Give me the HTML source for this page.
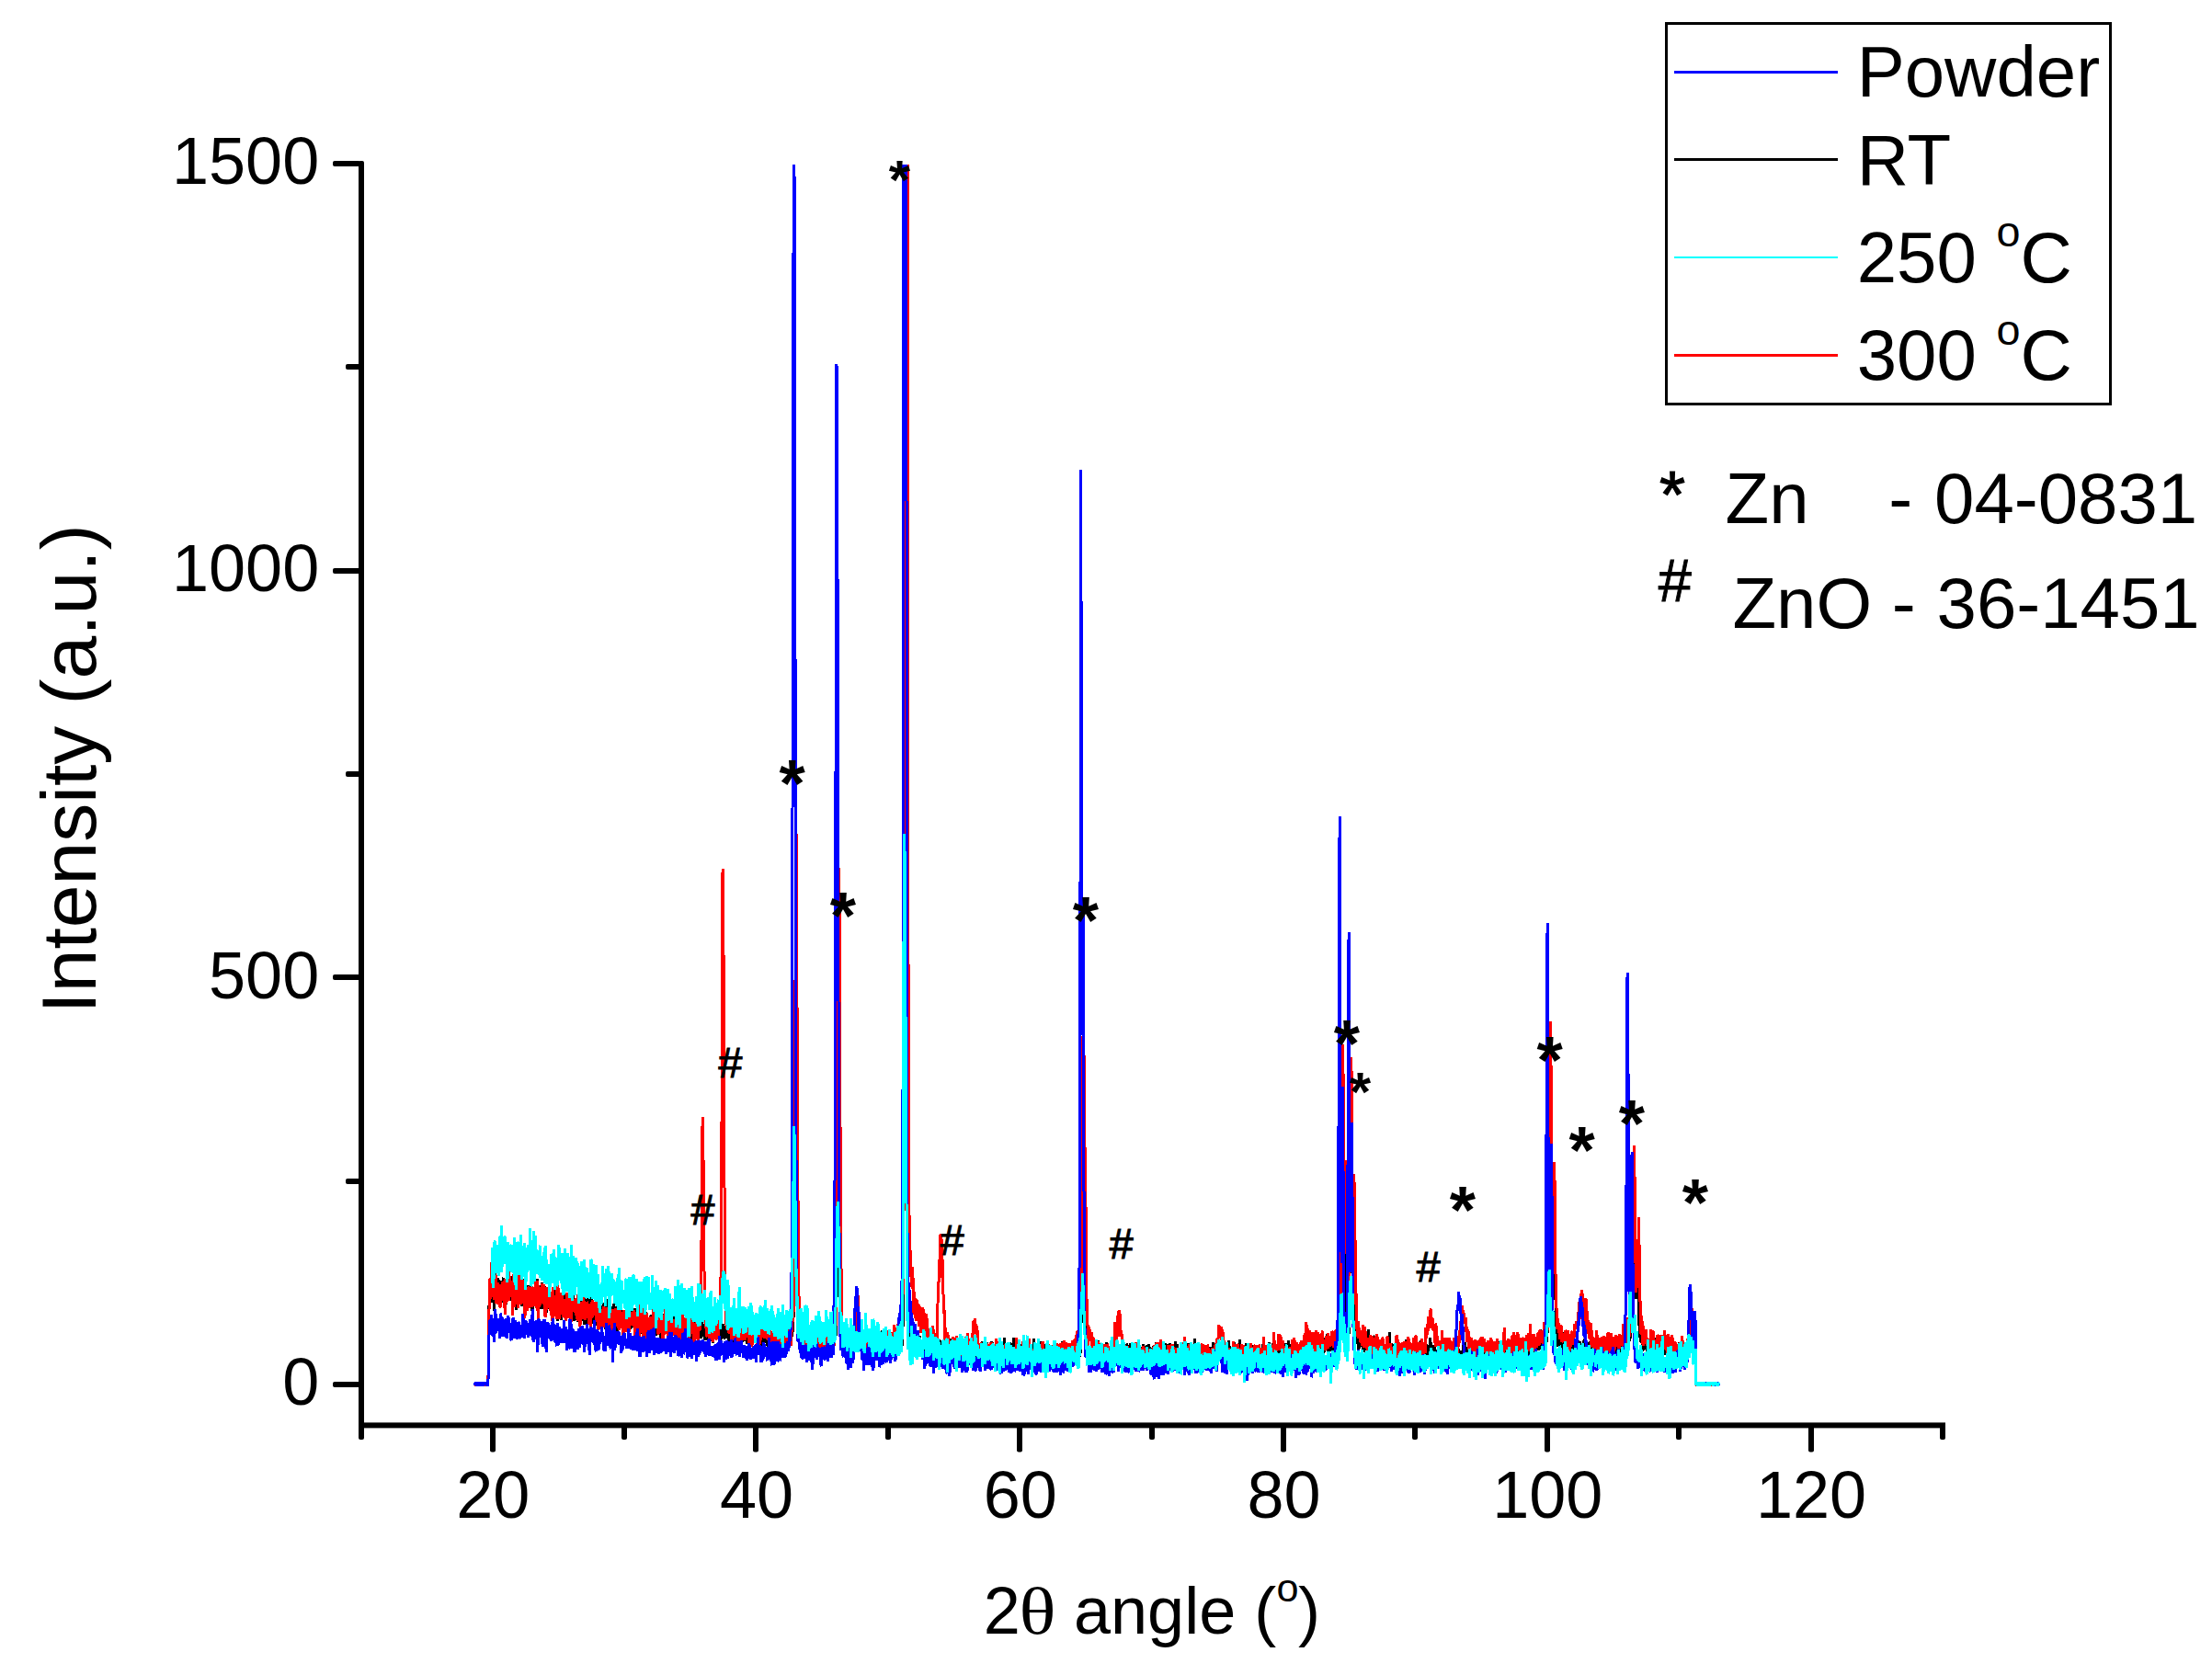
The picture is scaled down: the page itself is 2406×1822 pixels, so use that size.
<!DOCTYPE html>
<html><head><meta charset="utf-8"><title>XRD patterns</title>
<style>html,body{margin:0;padding:0;background:#fff}svg{display:block}text{font-family:"Liberation Sans",Arial,sans-serif;fill:#000}.s{font-family:"Liberation Serif",serif}</style></head><body>
<svg width="2406" height="1822" viewBox="0 0 2406 1822">
<rect width="2406" height="1822" fill="#fff"/>
<defs><clipPath id="c"><rect x="396" y="179" width="1720" height="1380"/></clipPath></defs>
<g clip-path="url(#c)" fill="none" stroke-width="3" stroke-linejoin="miter" stroke-miterlimit="2" shape-rendering="crispEdges">
<polyline stroke="#000000" points="516.5,1504.2 516.5,1506.0 517.5,1505.1 517.5,1504.2 518.5,1504.2 518.5,1505.1 519.5,1505.1 519.5,1504.2 520.5,1504.2 520.5,1506.0 521.5,1504.2 522.5,1504.2 522.5,1506.0 523.5,1506.0 523.5,1505.1 524.5,1504.2 524.5,1506.0 525.5,1506.0 525.5,1504.2 526.5,1505.1 526.5,1506.0 527.5,1506.0 527.5,1504.2 528.5,1505.1 528.5,1506.0 529.5,1505.1 529.5,1504.2 530.5,1505.1 530.5,1506.0 531.5,1487.2 531.5,1424.1 532.5,1415.6 532.5,1399.8 533.5,1396.1 533.5,1408.1 534.5,1398.4 534.5,1390.8 535.5,1397.6 535.5,1417.2 536.5,1394.6 536.5,1387.1 537.5,1387.1 537.5,1426.3 538.5,1410.5 538.5,1384.9 539.5,1390.9 539.5,1399.2 540.5,1393.2 540.5,1412.8 541.5,1412.0 541.5,1390.2 542.5,1393.3 542.5,1399.3 543.5,1398.6 543.5,1411.3 544.5,1414.4 544.5,1403.1 545.5,1393.3 545.5,1412.9 546.5,1415.9 546.5,1400.1 547.5,1389.6 547.5,1416.7 548.5,1406.9 548.5,1399.4 549.5,1395.7 549.5,1415.2 550.5,1419.0 550.5,1396.5 551.5,1386.7 551.5,1413.8 552.5,1399.5 552.5,1396.5 553.5,1402.5 553.5,1406.3 554.5,1413.9 554.5,1389.8 555.5,1389.8 555.5,1414.6 556.5,1404.1 556.5,1390.6 557.5,1398.9 557.5,1410.9 558.5,1414.7 558.5,1394.4 559.5,1401.2 559.5,1410.2 560.5,1414.8 560.5,1393.7 561.5,1402.0 561.5,1425.3 562.5,1411.0 562.5,1393.7 563.5,1398.3 563.5,1409.6 564.5,1414.1 564.5,1391.5 565.5,1387.1 565.5,1410.4 566.5,1407.4 566.5,1396.9 567.5,1400.7 567.5,1421.0 568.5,1407.5 568.5,1391.0 569.5,1404.5 569.5,1414.3 570.5,1414.4 570.5,1400.8 571.5,1398.6 571.5,1406.2 572.5,1408.4 572.5,1399.4 573.5,1398.0 573.5,1409.3 574.5,1413.1 574.5,1404.0 575.5,1411.6 576.5,1409.4 576.5,1398.1 577.5,1400.4 577.5,1410.9 578.5,1405.0 578.5,1426.1 579.5,1425.4 579.5,1402.0 580.5,1409.6 580.5,1416.4 581.5,1416.4 581.5,1405.9 582.5,1396.9 582.5,1421.0 583.5,1417.3 583.5,1405.2 584.5,1391.0 584.5,1421.1 585.5,1419.6 585.5,1412.1 586.5,1404.7 586.5,1420.4 587.5,1409.2 587.5,1398.6 588.5,1406.2 588.5,1423.5 589.5,1416.8 589.5,1395.0 590.5,1404.1 590.5,1423.7 591.5,1404.9 591.5,1399.6 592.5,1398.9 592.5,1421.5 593.5,1414.0 593.5,1406.5 594.5,1408.8 594.5,1427.6 595.5,1420.1 595.5,1412.6 596.5,1410.4 596.5,1417.9 597.5,1416.5 597.5,1420.2 598.5,1417.3 598.5,1424.0 599.5,1426.3 599.5,1416.6 600.5,1419.6 600.5,1430.9 601.5,1421.2 601.5,1409.1 602.5,1400.2 602.5,1430.2 603.5,1416.8 603.5,1416.0 604.5,1410.0 604.5,1426.6 605.5,1429.7 605.5,1414.6 606.5,1405.6 606.5,1437.2 607.5,1427.5 607.5,1406.4 608.5,1414.0 608.5,1422.3 609.5,1420.8 609.5,1410.3 610.5,1419.3 610.5,1435.9 611.5,1429.9 611.5,1423.1 612.5,1426.2 612.5,1414.1 613.5,1405.9 613.5,1426.2 614.5,1432.3 614.5,1408.9 615.5,1405.9 615.5,1435.3 616.5,1422.6 616.5,1413.5 617.5,1406.0 617.5,1424.1 618.5,1430.9 618.5,1415.9 619.5,1415.9 619.5,1427.9 620.5,1429.5 620.5,1418.2 621.5,1420.5 621.5,1427.2 622.5,1428.0 622.5,1400.2 623.5,1406.2 623.5,1426.6 624.5,1424.3 624.5,1436.4 625.5,1434.9 625.5,1412.3 626.5,1427.4 626.5,1435.7 627.5,1429.0 627.5,1419.9 628.5,1417.7 628.5,1438.0 629.5,1432.0 629.5,1424.5 630.5,1426.0 630.5,1415.5 631.5,1410.3 631.5,1440.4 632.5,1434.4 632.5,1424.6 633.5,1423.9 633.5,1417.9 634.5,1424.7 634.5,1427.0 635.5,1440.5 635.5,1407.4 636.5,1427.0 636.5,1430.8 637.5,1430.0 637.5,1413.5 638.5,1419.6 638.5,1439.9 639.5,1433.9 639.5,1404.5 640.5,1414.4 640.5,1436.2 641.5,1428.7 641.5,1423.4 642.5,1429.5 642.5,1415.9 643.5,1410.0 643.5,1427.2 644.5,1425.8 644.5,1439.3 645.5,1437.1 645.5,1421.3 646.5,1419.1 646.5,1428.1 647.5,1430.4 647.5,1422.1 648.5,1428.2 648.5,1433.5 649.5,1441.8 649.5,1413.9 650.5,1432.8 650.5,1444.8 651.5,1433.6 651.5,1411.0 652.5,1424.6 652.5,1441.9 653.5,1444.2 653.5,1424.6 654.5,1423.9 654.5,1420.1 655.5,1426.2 655.5,1435.2 656.5,1437.5 656.5,1417.2 657.5,1421.7 657.5,1442.1 658.5,1445.8 658.5,1429.3 659.5,1429.3 659.5,1424.1 660.5,1412.8 660.5,1440.6 661.5,1442.9 661.5,1422.6 662.5,1420.4 662.5,1434.0 663.5,1443.8 663.5,1421.2 664.5,1436.3 664.5,1443.8 665.5,1437.8 665.5,1434.8 666.5,1435.6 666.5,1424.3 667.5,1418.3 667.5,1436.4 668.5,1423.6 668.5,1450.7 669.5,1433.4 669.5,1430.4 670.5,1420.7 670.5,1450.0 671.5,1446.3 671.5,1429.0 672.5,1435.1 672.5,1412.5 673.5,1429.8 673.5,1436.6 674.5,1440.4 674.5,1427.6 675.5,1424.6 675.5,1434.4 676.5,1431.4 676.5,1440.5 677.5,1448.8 677.5,1429.2 678.5,1434.5 678.5,1447.3 679.5,1447.3 679.5,1430.8 680.5,1432.3 680.5,1426.3 681.5,1433.8 681.5,1439.8 682.5,1437.6 682.5,1442.1 683.5,1448.9 683.5,1427.1 684.5,1436.9 684.5,1445.9 685.5,1445.2 685.5,1430.2 686.5,1433.9 686.5,1445.2 687.5,1440.0 687.5,1424.9 688.5,1431.0 688.5,1437.7 689.5,1443.8 689.5,1431.0 690.5,1434.8 690.5,1423.5 691.5,1430.3 691.5,1440.8 692.5,1445.3 692.5,1429.6 693.5,1422.8 693.5,1448.4 694.5,1441.6 694.5,1437.9 695.5,1430.3 695.5,1447.7 696.5,1446.2 696.5,1426.6 697.5,1424.4 697.5,1445.4 698.5,1450.7 698.5,1438.7 699.5,1445.5 699.5,1431.2 700.5,1440.2 700.5,1450.8 701.5,1448.5 701.5,1436.5 702.5,1443.3 702.5,1427.5 703.5,1431.3 703.5,1442.6 704.5,1441.8 704.5,1436.6 705.5,1435.8 705.5,1444.9 706.5,1446.4 706.5,1441.1 707.5,1441.1 707.5,1432.1 708.5,1430.6 708.5,1443.4 709.5,1440.4 709.5,1448.0 710.5,1442.7 710.5,1436.7 711.5,1430.7 711.5,1451.8 712.5,1448.0 712.5,1435.2 713.5,1442.0 713.5,1453.3 714.5,1442.8 714.5,1434.5 715.5,1434.5 715.5,1442.0 716.5,1445.8 716.5,1436.8 717.5,1435.3 717.5,1438.3 718.5,1444.4 718.5,1458.7 719.5,1446.6 719.5,1436.9 720.5,1439.9 720.5,1446.7 721.5,1448.2 721.5,1436.1 722.5,1429.4 722.5,1449.0 723.5,1447.5 723.5,1438.4 724.5,1443.0 724.5,1449.8 725.5,1448.3 725.5,1434.7 726.5,1437.0 726.5,1452.8 727.5,1449.8 727.5,1443.0 728.5,1437.0 728.5,1449.1 729.5,1455.1 729.5,1434.8 730.5,1440.1 730.5,1452.9 731.5,1448.4 731.5,1433.3 732.5,1426.6 732.5,1446.9 733.5,1446.9 733.5,1431.9 734.5,1430.4 734.5,1453.7 735.5,1450.0 735.5,1432.7 736.5,1423.7 736.5,1447.7 737.5,1447.8 737.5,1440.2 738.5,1434.2 738.5,1447.0 739.5,1447.1 739.5,1430.5 740.5,1439.5 740.5,1450.1 741.5,1448.6 741.5,1431.3 742.5,1435.1 742.5,1447.9 743.5,1447.1 743.5,1441.9 744.5,1444.2 744.5,1438.1 745.5,1438.2 745.5,1444.2 746.5,1450.2 746.5,1435.2 747.5,1446.5 747.5,1454.0 748.5,1450.3 748.5,1440.5 749.5,1450.3 749.5,1429.2 750.5,1435.2 750.5,1445.0 751.5,1444.3 751.5,1436.0 752.5,1439.0 752.5,1457.8 753.5,1450.3 753.5,1438.3 754.5,1437.6 754.5,1449.6 755.5,1448.1 755.5,1436.1 756.5,1446.6 756.5,1453.4 757.5,1454.2 757.5,1438.4 758.5,1448.9 758.5,1453.4 759.5,1447.4 759.5,1437.6 760.5,1439.9 760.5,1445.2 761.5,1441.5 761.5,1452.0 762.5,1452.0 762.5,1455.8 763.5,1450.5 763.5,1434.7 764.5,1444.5 764.5,1453.5 765.5,1446.0 765.5,1440.8 766.5,1442.3 766.5,1458.1 767.5,1453.6 767.5,1449.1 768.5,1454.4 768.5,1440.1 769.5,1443.1 769.5,1456.6 770.5,1458.1 770.5,1443.1 771.5,1444.6 771.5,1456.7 772.5,1453.7 772.5,1445.4 773.5,1443.9 773.5,1446.9 774.5,1443.2 774.5,1457.5 775.5,1460.5 775.5,1444.7 776.5,1447.0 776.5,1440.9 777.5,1444.0 777.5,1455.3 778.5,1450.0 778.5,1444.7 779.5,1447.0 779.5,1451.5 780.5,1447.8 780.5,1444.0 781.5,1440.3 781.5,1452.3 782.5,1456.9 782.5,1442.5 783.5,1444.8 783.5,1459.1 784.5,1453.1 784.5,1439.6 785.5,1441.8 785.5,1452.4 786.5,1456.2 786.5,1440.4 787.5,1447.9 787.5,1454.7 788.5,1456.2 788.5,1450.9 789.5,1455.5 789.5,1441.9 790.5,1444.9 790.5,1454.0 791.5,1448.7 791.5,1445.7 792.5,1448.0 792.5,1459.3 793.5,1452.5 793.5,1443.5 794.5,1445.8 794.5,1453.3 795.5,1445.8 795.5,1461.6 796.5,1451.1 796.5,1445.0 797.5,1443.6 797.5,1447.3 798.5,1439.0 798.5,1465.4 799.5,1460.1 799.5,1454.1 800.5,1461.7 800.5,1439.8 801.5,1441.4 801.5,1457.9 802.5,1458.7 802.5,1445.1 803.5,1447.4 803.5,1463.2 804.5,1466.2 804.5,1444.4 805.5,1446.7 805.5,1458.0 806.5,1454.2 806.5,1462.5 807.5,1458.0 807.5,1449.0 808.5,1449.0 808.5,1455.8 809.5,1458.8 809.5,1450.5 810.5,1444.5 810.5,1456.6 811.5,1455.1 811.5,1451.3 812.5,1456.6 812.5,1461.9 813.5,1454.3 813.5,1449.8 814.5,1446.1 814.5,1453.6 815.5,1458.1 815.5,1447.6 816.5,1443.1 816.5,1452.9 817.5,1459.7 817.5,1443.1 818.5,1447.7 818.5,1457.4 819.5,1449.2 819.5,1442.4 820.5,1443.2 820.5,1459.0 821.5,1455.2 821.5,1451.5 822.5,1456.0 822.5,1441.0 823.5,1444.7 823.5,1447.7 824.5,1448.5 824.5,1459.0 825.5,1462.1 825.5,1441.7 826.5,1444.7 826.5,1451.5 827.5,1447.8 827.5,1464.3 828.5,1454.6 828.5,1440.3 829.5,1447.8 829.5,1455.3 830.5,1460.6 830.5,1447.0 831.5,1444.0 831.5,1457.6 832.5,1455.3 832.5,1447.1 833.5,1454.6 833.5,1458.4 834.5,1463.6 834.5,1451.6 835.5,1441.8 835.5,1465.1 836.5,1459.1 836.5,1443.3 837.5,1446.4 837.5,1468.2 838.5,1457.6 838.5,1452.4 839.5,1454.6 839.5,1457.7 840.5,1457.7 840.5,1454.7 841.5,1453.2 841.5,1457.7 842.5,1456.2 842.5,1448.6 843.5,1453.2 843.5,1463.0 844.5,1465.2 844.5,1458.4 845.5,1465.2 845.5,1450.9 846.5,1450.9 846.5,1460.7 847.5,1459.2 847.5,1448.7 848.5,1452.4 848.5,1456.2 849.5,1457.0 849.5,1445.7 850.5,1448.7 850.5,1460.0 851.5,1467.5 851.5,1435.9 852.5,1451.7 852.5,1460.7 853.5,1460.0 853.5,1447.9 854.5,1452.4 854.5,1455.5 855.5,1460.7 855.5,1447.2 856.5,1450.2 856.5,1458.4 857.5,1452.4 857.5,1465.2 858.5,1455.3 858.5,1449.3 859.5,1440.2 859.5,1460.6 860.5,1461.1 860.5,1453.5 861.5,1454.1 861.5,1442.4 862.5,1439.4 862.5,1448.6 863.5,1418.4 863.5,1275.3 864.5,1210.9 864.5,1126.6 865.5,1172.5 865.5,1071.2 866.5,1195.8 866.5,1262.8 867.5,1344.1 867.5,1414.8 868.5,1429.2 868.5,1457.0 869.5,1462.1 869.5,1446.0 870.5,1445.3 870.5,1464.3 871.5,1467.4 871.5,1447.8 872.5,1451.7 872.5,1463.8 873.5,1468.3 873.5,1451.8 874.5,1447.3 874.5,1461.6 875.5,1466.9 875.5,1454.1 876.5,1451.1 876.5,1462.4 877.5,1457.9 877.5,1453.4 878.5,1452.7 878.5,1462.5 879.5,1456.5 879.5,1451.2 880.5,1454.2 880.5,1464.8 881.5,1459.5 881.5,1471.5 882.5,1460.3 882.5,1453.5 883.5,1447.5 883.5,1462.5 884.5,1467.8 884.5,1447.5 885.5,1449.8 885.5,1463.3 886.5,1459.6 886.5,1444.5 887.5,1458.1 887.5,1461.1 888.5,1460.3 888.5,1452.8 889.5,1456.6 889.5,1459.6 890.5,1461.9 890.5,1445.3 891.5,1452.1 891.5,1465.6 892.5,1461.1 892.5,1451.3 893.5,1449.1 893.5,1460.4 894.5,1462.6 894.5,1453.6 895.5,1459.6 895.5,1466.4 896.5,1461.9 896.5,1453.6 897.5,1450.6 897.5,1466.4 898.5,1462.7 898.5,1448.4 899.5,1455.9 899.5,1458.1 900.5,1460.4 900.5,1455.9 901.5,1450.6 901.5,1462.7 902.5,1461.9 902.5,1449.1 903.5,1451.3 903.5,1462.6 904.5,1457.3 904.5,1469.3 905.5,1464.8 905.5,1458.8 906.5,1460.2 906.5,1450.4 907.5,1448.8 907.5,1460.0 908.5,1448.5 908.5,1444.9 909.5,1453.4 909.5,1423.9 910.5,1399.4 910.5,1319.5 911.5,1270.5 911.5,1119.9 912.5,1115.2 912.5,1161.7 913.5,1181.3 913.5,1322.6 914.5,1335.8 914.5,1410.6 915.5,1427.8 915.5,1450.9 916.5,1445.6 916.5,1458.5 917.5,1458.8 917.5,1454.2 918.5,1453.5 918.5,1461.8 919.5,1465.7 919.5,1452.1 920.5,1452.2 920.5,1461.2 921.5,1463.5 921.5,1450.7 922.5,1452.3 922.5,1462.1 923.5,1465.8 923.5,1447.8 924.5,1453.1 924.5,1465.1 925.5,1466.6 925.5,1450.1 926.5,1456.0 926.5,1463.6 927.5,1466.4 927.5,1449.1 928.5,1451.8 928.5,1456.9 929.5,1446.0 929.5,1468.7 930.5,1446.5 930.5,1434.2 931.5,1426.0 931.5,1449.3 932.5,1441.7 932.5,1430.5 933.5,1430.1 933.5,1451.5 934.5,1452.0 934.5,1437.8 935.5,1447.4 935.5,1454.6 936.5,1457.8 936.5,1446.1 937.5,1450.9 937.5,1461.4 938.5,1456.9 938.5,1466.0 939.5,1463.0 939.5,1455.5 940.5,1459.3 940.5,1465.3 941.5,1466.8 941.5,1456.3 942.5,1463.1 942.5,1468.4 943.5,1462.4 943.5,1454.1 944.5,1458.6 944.5,1445.1 945.5,1450.3 945.5,1466.1 946.5,1465.4 946.5,1448.8 947.5,1459.4 947.5,1468.4 948.5,1463.9 948.5,1456.4 949.5,1462.4 949.5,1470.7 950.5,1465.4 950.5,1454.9 951.5,1454.2 951.5,1466.2 952.5,1465.5 952.5,1457.9 953.5,1460.2 953.5,1468.5 954.5,1470.0 954.5,1456.4 955.5,1454.2 955.5,1463.2 956.5,1467.0 956.5,1456.5 957.5,1461.0 957.5,1465.5 958.5,1462.5 958.5,1454.2 959.5,1447.5 959.5,1469.3 960.5,1470.8 960.5,1460.3 961.5,1459.5 961.5,1469.3 962.5,1464.8 962.5,1449.0 963.5,1462.5 963.5,1463.3 964.5,1465.6 964.5,1458.8 965.5,1464.1 965.5,1452.0 966.5,1455.0 966.5,1471.6 967.5,1464.8 967.5,1461.8 968.5,1470.1 968.5,1450.5 969.5,1463.3 969.5,1470.8 970.5,1465.6 970.5,1462.6 971.5,1459.6 971.5,1470.1 972.5,1470.8 972.5,1462.6 973.5,1462.5 973.5,1458.8 974.5,1461.0 974.5,1467.1 975.5,1466.3 975.5,1449.7 976.5,1453.4 976.5,1463.2 977.5,1472.2 977.5,1454.2 978.5,1461.5 978.5,1466.1 979.5,1461.3 979.5,1455.4 980.5,1448.8 980.5,1462.0 981.5,1463.6 981.5,1445.7 982.5,1440.9 982.5,1317.1 983.5,1230.5 983.5,1064.3 984.5,980.6 984.5,964.7 985.5,1044.0 985.5,1162.6 986.5,1186.7 986.5,1288.5 987.5,1354.8 987.5,1441.0 988.5,1449.5 988.5,1452.6 989.5,1451.4 989.5,1469.6 990.5,1469.0 990.5,1457.1 991.5,1461.8 991.5,1471.5 992.5,1465.6 992.5,1460.3 993.5,1463.4 993.5,1474.7 994.5,1462.7 994.5,1456.7 995.5,1465.7 995.5,1469.5 996.5,1468.0 996.5,1461.3 997.5,1468.8 997.5,1453.0 998.5,1459.8 998.5,1472.6 999.5,1471.9 999.5,1459.1 1000.5,1453.1 1000.5,1471.9 1001.5,1470.4 1001.5,1462.9 1002.5,1462.1 1002.5,1470.4 1003.5,1466.7 1003.5,1459.1 1004.5,1461.4 1004.5,1467.4 1005.5,1471.2 1005.5,1461.4 1006.5,1458.4 1006.5,1472.0 1007.5,1469.7 1007.5,1457.7 1008.5,1460.7 1008.5,1467.5 1009.5,1471.3 1009.5,1456.2 1010.5,1457.0 1010.5,1470.5 1011.5,1472.8 1011.5,1465.3 1012.5,1469.8 1012.5,1460.0 1013.5,1463.8 1013.5,1472.1 1014.5,1469.1 1014.5,1461.5 1015.5,1457.8 1015.5,1469.8 1016.5,1472.1 1016.5,1466.1 1017.5,1460.8 1017.5,1471.3 1018.5,1466.8 1018.5,1461.6 1019.5,1463.1 1019.5,1472.1 1020.5,1466.1 1020.5,1463.1 1021.5,1457.1 1021.5,1471.4 1022.5,1475.9 1022.5,1464.6 1023.5,1468.4 1023.5,1458.6 1024.5,1463.9 1024.5,1470.7 1025.5,1470.7 1025.5,1478.2 1026.5,1476.0 1026.5,1459.4 1027.5,1460.2 1027.5,1463.2 1028.5,1461.7 1028.5,1468.4 1029.5,1467.7 1029.5,1463.2 1030.5,1455.7 1030.5,1475.2 1031.5,1470.0 1031.5,1464.7 1032.5,1460.2 1032.5,1473.7 1033.5,1468.5 1033.5,1459.5 1034.5,1456.5 1034.5,1473.0 1035.5,1470.0 1035.5,1461.0 1036.5,1466.3 1036.5,1470.0 1037.5,1468.5 1037.5,1473.8 1038.5,1468.5 1038.5,1459.5 1039.5,1464.0 1039.5,1467.8 1040.5,1473.1 1040.5,1461.8 1041.5,1461.0 1041.5,1469.3 1042.5,1470.8 1042.5,1460.3 1043.5,1458.8 1043.5,1475.4 1044.5,1470.9 1044.5,1461.8 1045.5,1461.1 1045.5,1476.1 1046.5,1471.6 1046.5,1466.4 1047.5,1463.4 1047.5,1476.9 1048.5,1473.1 1048.5,1459.6 1049.5,1461.9 1049.5,1473.9 1050.5,1468.6 1050.5,1460.4 1051.5,1470.9 1051.5,1474.7 1052.5,1479.2 1052.5,1463.4 1053.5,1466.4 1053.5,1477.7 1054.5,1479.2 1054.5,1467.2 1055.5,1465.7 1055.5,1482.2 1056.5,1471.7 1056.5,1456.7 1057.5,1471.0 1057.5,1476.2 1058.5,1472.5 1058.5,1458.9 1059.5,1462.0 1059.5,1470.2 1060.5,1473.3 1060.5,1455.9 1061.5,1469.5 1061.5,1479.3 1062.5,1477.8 1062.5,1457.5 1063.5,1467.3 1063.5,1477.8 1064.5,1473.3 1064.5,1468.0 1065.5,1462.0 1065.5,1477.8 1066.5,1474.8 1066.5,1469.6 1067.5,1474.1 1067.5,1459.8 1068.5,1462.0 1068.5,1471.8 1069.5,1473.3 1069.5,1465.8 1070.5,1459.8 1070.5,1471.8 1071.5,1470.3 1071.5,1476.4 1072.5,1471.1 1072.5,1465.8 1073.5,1469.6 1073.5,1460.6 1074.5,1463.6 1074.5,1470.4 1075.5,1468.1 1075.5,1465.9 1076.5,1467.4 1076.5,1462.9 1077.5,1463.6 1077.5,1471.9 1078.5,1471.9 1078.5,1459.1 1079.5,1461.4 1079.5,1477.2 1080.5,1476.5 1080.5,1463.7 1081.5,1467.4 1081.5,1472.7 1082.5,1473.5 1082.5,1465.9 1083.5,1472.0 1083.5,1480.2 1084.5,1473.5 1084.5,1464.4 1085.5,1463.7 1085.5,1472.7 1086.5,1473.5 1086.5,1469.7 1087.5,1475.0 1087.5,1460.0 1088.5,1471.3 1088.5,1475.0 1089.5,1472.8 1089.5,1465.3 1090.5,1462.2 1090.5,1479.6 1091.5,1474.3 1091.5,1469.8 1092.5,1479.6 1092.5,1455.5 1093.5,1472.1 1093.5,1478.1 1094.5,1476.6 1094.5,1465.3 1095.5,1460.8 1095.5,1474.3 1096.5,1472.8 1096.5,1463.1 1097.5,1466.8 1097.5,1473.6 1098.5,1469.1 1098.5,1461.6 1099.5,1460.8 1099.5,1469.9 1100.5,1469.1 1100.5,1475.1 1101.5,1473.6 1101.5,1467.6 1102.5,1473.7 1102.5,1454.8 1103.5,1471.4 1103.5,1472.9 1104.5,1472.2 1104.5,1457.9 1105.5,1472.2 1105.5,1478.9 1106.5,1479.7 1106.5,1466.2 1107.5,1471.4 1107.5,1474.4 1108.5,1474.5 1108.5,1468.4 1109.5,1470.7 1109.5,1462.4 1110.5,1472.2 1110.5,1476.7 1111.5,1476.0 1111.5,1469.2 1112.5,1468.4 1112.5,1475.2 1113.5,1468.4 1113.5,1466.9 1114.5,1461.7 1114.5,1473.7 1115.5,1477.5 1115.5,1469.2 1116.5,1463.9 1116.5,1481.2 1117.5,1476.7 1117.5,1466.9 1118.5,1461.7 1118.5,1476.0 1119.5,1473.0 1119.5,1467.7 1120.5,1463.2 1120.5,1472.2 1121.5,1471.5 1121.5,1479.0 1122.5,1476.0 1122.5,1466.9 1123.5,1468.5 1123.5,1477.5 1124.5,1473.0 1124.5,1456.4 1125.5,1469.2 1125.5,1470.7 1126.5,1469.2 1126.5,1477.5 1127.5,1473.0 1127.5,1463.2 1128.5,1466.9 1128.5,1477.5 1129.5,1473.7 1129.5,1466.9 1130.5,1465.4 1130.5,1479.7 1131.5,1475.2 1131.5,1469.2 1132.5,1473.7 1132.5,1459.4 1133.5,1465.4 1133.5,1477.5 1134.5,1471.5 1134.5,1463.9 1135.5,1470.7 1135.5,1478.2 1136.5,1474.5 1136.5,1462.4 1137.5,1466.2 1137.5,1476.7 1138.5,1478.2 1138.5,1473.7 1139.5,1476.7 1139.5,1464.7 1140.5,1473.7 1140.5,1479.0 1141.5,1476.7 1141.5,1476.0 1142.5,1472.2 1142.5,1467.0 1143.5,1467.7 1143.5,1481.2 1144.5,1482.8 1144.5,1473.7 1145.5,1474.5 1145.5,1463.9 1146.5,1462.4 1146.5,1479.0 1147.5,1479.0 1147.5,1468.5 1148.5,1467.7 1148.5,1476.0 1149.5,1476.7 1149.5,1464.7 1150.5,1463.2 1150.5,1476.0 1151.5,1476.7 1151.5,1466.9 1152.5,1466.2 1152.5,1470.7 1153.5,1468.5 1153.5,1476.0 1154.5,1473.7 1154.5,1466.2 1155.5,1459.4 1155.5,1479.0 1156.5,1469.2 1156.5,1466.2 1157.5,1463.2 1157.5,1470.0 1158.5,1466.9 1158.5,1475.2 1159.5,1479.7 1159.5,1466.9 1160.5,1462.4 1160.5,1480.5 1161.5,1474.5 1161.5,1469.2 1162.5,1469.2 1162.5,1460.9 1163.5,1464.7 1163.5,1472.9 1164.5,1471.4 1164.5,1465.4 1165.5,1470.7 1165.5,1480.5 1166.5,1472.9 1166.5,1465.4 1167.5,1466.9 1167.5,1474.4 1168.5,1470.6 1168.5,1468.4 1169.5,1472.1 1169.5,1479.7 1170.5,1476.6 1170.5,1469.8 1171.5,1465.3 1171.5,1476.6 1172.5,1473.5 1172.5,1466.0 1173.5,1469.6 1173.5,1478.7 1174.5,1473.9 1174.5,1466.3 1175.5,1472.1 1175.5,1444.0 1176.5,1433.2 1176.5,1355.3 1177.5,1326.1 1177.5,1221.4 1178.5,1199.1 1178.5,1270.7 1179.5,1314.5 1179.5,1346.4 1180.5,1328.4 1180.5,1372.3 1181.5,1401.8 1181.5,1436.3 1182.5,1448.9 1182.5,1465.5 1183.5,1461.1 1183.5,1477.1 1184.5,1478.8 1184.5,1467.4 1185.5,1472.8 1185.5,1481.1 1186.5,1476.6 1186.5,1468.3 1187.5,1460.8 1187.5,1481.9 1188.5,1475.2 1188.5,1467.6 1189.5,1466.9 1189.5,1477.4 1190.5,1477.4 1190.5,1467.7 1191.5,1473.7 1191.5,1476.0 1192.5,1475.2 1192.5,1469.9 1193.5,1467.7 1193.5,1475.2 1194.5,1476.7 1194.5,1457.9 1195.5,1469.2 1195.5,1478.2 1196.5,1474.5 1196.5,1470.0 1197.5,1473.0 1197.5,1475.2 1198.5,1475.2 1198.5,1466.2 1199.5,1470.7 1199.5,1473.0 1200.5,1474.5 1200.5,1462.4 1201.5,1472.2 1201.5,1473.7 1202.5,1469.2 1202.5,1478.3 1203.5,1472.2 1203.5,1460.2 1204.5,1465.5 1204.5,1473.7 1205.5,1471.5 1205.5,1467.7 1206.5,1466.2 1206.5,1472.2 1207.5,1469.2 1207.5,1481.3 1208.5,1470.0 1208.5,1466.2 1209.5,1465.5 1209.5,1474.5 1210.5,1479.0 1210.5,1462.5 1211.5,1454.2 1211.5,1471.5 1212.5,1472.2 1212.5,1463.2 1213.5,1464.7 1213.5,1475.3 1214.5,1479.8 1214.5,1470.0 1215.5,1464.7 1215.5,1475.3 1216.5,1473.0 1216.5,1467.7 1217.5,1471.5 1217.5,1479.8 1218.5,1475.3 1218.5,1467.7 1219.5,1467.7 1219.5,1470.7 1220.5,1470.7 1220.5,1477.5 1221.5,1474.5 1221.5,1469.2 1222.5,1469.2 1222.5,1477.5 1223.5,1478.3 1223.5,1467.7 1224.5,1468.5 1224.5,1478.3 1225.5,1474.5 1225.5,1461.7 1226.5,1464.7 1226.5,1472.3 1227.5,1467.7 1227.5,1476.8 1228.5,1472.3 1228.5,1471.5 1229.5,1480.5 1229.5,1461.0 1230.5,1468.5 1230.5,1478.3 1231.5,1476.0 1231.5,1462.5 1232.5,1467.0 1232.5,1473.0 1233.5,1469.2 1233.5,1480.5 1234.5,1478.3 1234.5,1471.5 1235.5,1468.5 1235.5,1476.0 1236.5,1475.3 1236.5,1460.2 1237.5,1463.2 1237.5,1478.3 1238.5,1482.0 1238.5,1467.7 1239.5,1468.5 1239.5,1476.8 1240.5,1470.8 1240.5,1467.7 1241.5,1470.0 1241.5,1476.0 1242.5,1473.8 1242.5,1468.5 1243.5,1461.7 1243.5,1476.0 1244.5,1473.0 1244.5,1464.0 1245.5,1472.3 1245.5,1478.3 1246.5,1471.5 1246.5,1470.0 1247.5,1475.3 1247.5,1463.2 1248.5,1466.2 1248.5,1473.0 1249.5,1474.5 1249.5,1461.7 1250.5,1468.5 1250.5,1470.8 1251.5,1470.8 1251.5,1478.3 1252.5,1476.8 1252.5,1473.8 1253.5,1473.8 1253.5,1469.3 1254.5,1464.0 1254.5,1474.5 1255.5,1480.5 1255.5,1464.7 1256.5,1465.5 1256.5,1471.5 1257.5,1474.5 1257.5,1460.2 1258.5,1469.3 1258.5,1476.0 1259.5,1473.8 1259.5,1471.5 1260.5,1470.0 1260.5,1473.0 1261.5,1476.0 1261.5,1464.0 1262.5,1467.0 1262.5,1473.8 1263.5,1470.0 1263.5,1467.7 1264.5,1468.5 1264.5,1470.0 1265.5,1466.2 1265.5,1477.5 1266.5,1479.8 1266.5,1468.5 1267.5,1461.0 1267.5,1476.0 1268.5,1474.5 1268.5,1467.0 1269.5,1461.7 1269.5,1473.8 1270.5,1480.5 1270.5,1464.0 1271.5,1472.3 1271.5,1477.5 1272.5,1477.5 1272.5,1461.0 1273.5,1475.3 1274.5,1473.8 1274.5,1468.5 1275.5,1473.8 1275.5,1483.6 1276.5,1476.0 1276.5,1461.7 1277.5,1470.8 1277.5,1473.0 1278.5,1471.5 1278.5,1459.5 1279.5,1466.2 1279.5,1470.0 1280.5,1476.0 1280.5,1461.7 1281.5,1470.0 1281.5,1477.5 1282.5,1476.0 1282.5,1467.0 1283.5,1467.8 1283.5,1476.8 1284.5,1475.3 1284.5,1469.3 1285.5,1473.8 1285.5,1476.0 1286.5,1470.0 1286.5,1461.0 1287.5,1464.0 1287.5,1472.3 1288.5,1466.2 1288.5,1483.6 1289.5,1476.8 1289.5,1467.0 1290.5,1467.8 1290.5,1474.5 1291.5,1474.5 1291.5,1470.8 1292.5,1476.0 1292.5,1461.0 1293.5,1467.0 1293.5,1477.5 1294.5,1472.3 1294.5,1461.0 1295.5,1469.3 1295.5,1477.5 1296.5,1470.0 1296.5,1464.0 1297.5,1471.5 1297.5,1476.0 1298.5,1473.8 1298.5,1479.8 1299.5,1475.3 1299.5,1456.5 1300.5,1468.5 1300.5,1479.8 1301.5,1474.5 1301.5,1469.3 1302.5,1464.0 1302.5,1475.3 1303.5,1470.8 1303.5,1468.5 1304.5,1468.5 1304.5,1471.5 1305.5,1477.5 1305.5,1463.2 1306.5,1466.2 1306.5,1471.5 1307.5,1470.8 1307.5,1479.8 1308.5,1476.8 1308.5,1464.7 1309.5,1469.3 1309.5,1474.5 1310.5,1475.3 1310.5,1470.8 1311.5,1475.3 1311.5,1466.2 1312.5,1470.0 1312.5,1473.8 1313.5,1473.0 1313.5,1464.0 1314.5,1470.8 1314.5,1474.5 1315.5,1473.0 1315.5,1467.0 1316.5,1465.5 1316.5,1480.5 1317.5,1479.8 1317.5,1465.5 1318.5,1466.2 1318.5,1474.5 1319.5,1473.8 1319.5,1460.2 1320.5,1472.3 1320.5,1474.5 1321.5,1475.3 1321.5,1469.3 1322.5,1466.2 1322.5,1476.0 1323.5,1473.8 1323.5,1467.0 1324.5,1467.8 1324.5,1475.3 1325.5,1478.3 1325.5,1468.5 1326.5,1468.5 1326.5,1475.3 1327.5,1480.5 1327.5,1467.8 1328.5,1468.5 1328.5,1472.3 1329.5,1475.3 1329.5,1465.5 1330.5,1470.0 1330.5,1478.3 1331.5,1471.5 1331.5,1466.2 1332.5,1467.0 1332.5,1476.0 1333.5,1470.0 1333.5,1465.5 1334.5,1467.0 1334.5,1476.8 1335.5,1470.0 1335.5,1463.2 1336.5,1458.0 1336.5,1474.5 1337.5,1475.3 1337.5,1464.0 1338.5,1467.0 1338.5,1470.0 1339.5,1473.0 1339.5,1476.0 1340.5,1474.5 1340.5,1468.5 1341.5,1469.3 1341.5,1478.3 1342.5,1477.5 1342.5,1460.2 1343.5,1470.0 1343.5,1475.3 1344.5,1474.5 1344.5,1466.2 1345.5,1469.2 1345.5,1475.3 1346.5,1473.0 1346.5,1483.5 1347.5,1476.8 1347.5,1470.0 1348.5,1479.0 1348.5,1457.2 1349.5,1474.5 1349.5,1476.0 1350.5,1476.8 1350.5,1471.5 1351.5,1476.8 1351.5,1465.5 1352.5,1466.2 1352.5,1473.8 1353.5,1473.0 1353.5,1464.7 1354.5,1467.0 1354.5,1475.3 1355.5,1466.2 1355.5,1462.5 1356.5,1461.7 1356.5,1470.7 1357.5,1469.2 1357.5,1475.3 1358.5,1469.2 1358.5,1483.5 1359.5,1476.0 1359.5,1467.0 1360.5,1467.0 1360.5,1479.8 1361.5,1479.0 1361.5,1470.0 1362.5,1469.2 1362.5,1476.8 1363.5,1478.3 1363.5,1463.2 1364.5,1469.2 1364.5,1471.5 1365.5,1473.7 1365.5,1467.7 1366.5,1467.0 1366.5,1479.0 1367.5,1478.3 1367.5,1471.5 1368.5,1467.0 1368.5,1477.5 1369.5,1474.5 1369.5,1467.7 1370.5,1471.5 1370.5,1482.0 1371.5,1478.2 1371.5,1467.7 1372.5,1471.5 1372.5,1474.5 1373.5,1479.0 1373.5,1461.7 1374.5,1467.7 1374.5,1476.7 1375.5,1478.2 1375.5,1467.7 1376.5,1466.2 1376.5,1471.5 1377.5,1476.7 1377.5,1463.2 1378.5,1467.7 1378.5,1471.5 1379.5,1474.5 1379.5,1468.5 1380.5,1473.7 1380.5,1460.2 1381.5,1468.4 1381.5,1476.0 1382.5,1473.7 1382.5,1479.7 1383.5,1479.0 1383.5,1465.4 1384.5,1460.9 1384.5,1480.5 1385.5,1475.2 1385.5,1469.2 1386.5,1475.2 1386.5,1463.2 1387.5,1462.4 1387.5,1484.2 1388.5,1475.2 1388.5,1466.2 1389.5,1466.9 1389.5,1475.2 1390.5,1475.2 1390.5,1466.2 1391.5,1466.2 1391.5,1479.0 1392.5,1481.2 1392.5,1468.4 1393.5,1473.7 1393.5,1457.9 1394.5,1468.4 1394.5,1476.7 1395.5,1471.4 1395.5,1466.1 1396.5,1469.9 1396.5,1476.7 1397.5,1474.4 1397.5,1462.4 1398.5,1462.4 1398.5,1473.6 1399.5,1475.1 1399.5,1466.9 1400.5,1469.9 1400.5,1479.7 1401.5,1477.4 1401.5,1457.8 1402.5,1466.8 1402.5,1478.9 1403.5,1469.1 1403.5,1466.1 1404.5,1464.6 1404.5,1478.9 1405.5,1469.8 1405.5,1460.8 1406.5,1469.1 1406.5,1474.3 1407.5,1472.1 1407.5,1478.1 1408.5,1475.1 1408.5,1469.8 1409.5,1465.3 1409.5,1475.1 1410.5,1481.1 1410.5,1464.5 1411.5,1463.8 1411.5,1472.8 1412.5,1472.8 1412.5,1466.8 1413.5,1466.7 1413.5,1475.8 1414.5,1480.3 1414.5,1469.0 1415.5,1469.7 1415.5,1475.0 1416.5,1475.0 1416.5,1470.5 1417.5,1470.5 1417.5,1464.4 1418.5,1456.2 1418.5,1479.5 1419.5,1467.4 1419.5,1465.2 1420.5,1462.9 1420.5,1477.2 1421.5,1477.9 1421.5,1468.1 1422.5,1465.9 1422.5,1471.9 1423.5,1466.6 1423.5,1464.3 1424.5,1460.6 1424.5,1478.6 1425.5,1472.6 1425.5,1466.6 1426.5,1462.0 1426.5,1472.6 1427.5,1477.8 1427.5,1464.3 1428.5,1466.5 1428.5,1475.5 1429.5,1469.5 1429.5,1468.0 1430.5,1467.2 1430.5,1469.5 1431.5,1472.4 1431.5,1459.6 1432.5,1464.9 1432.5,1468.7 1433.5,1467.9 1433.5,1471.6 1434.5,1473.1 1434.5,1462.6 1435.5,1455.0 1435.5,1476.8 1436.5,1473.8 1436.5,1464.7 1437.5,1464.7 1437.5,1468.5 1438.5,1468.4 1438.5,1473.0 1439.5,1474.4 1439.5,1454.9 1440.5,1464.6 1440.5,1471.3 1441.5,1465.3 1441.5,1462.3 1442.5,1463.7 1442.5,1459.2 1443.5,1451.6 1443.5,1468.2 1444.5,1469.6 1444.5,1463.7 1445.5,1459.8 1445.5,1472.6 1446.5,1467.3 1446.5,1456.8 1447.5,1452.9 1447.5,1465.7 1448.5,1464.1 1448.5,1458.1 1449.5,1458.1 1449.5,1469.3 1450.5,1467.0 1450.5,1456.5 1451.5,1448.1 1451.5,1465.4 1452.5,1463.8 1452.5,1457.0 1453.5,1457.6 1453.5,1459.2 1454.5,1453.8 1454.5,1444.7 1455.5,1456.5 1455.5,1460.4 1456.5,1457.1 1456.5,1455.9 1457.5,1449.3 1457.5,1427.1 1458.5,1381.9 1458.5,1324.3 1459.5,1301.4 1459.5,1252.1 1460.5,1304.7 1460.5,1352.4 1461.5,1369.2 1461.5,1390.2 1462.5,1371.4 1462.5,1360.9 1463.5,1348.5 1463.5,1403.8 1464.5,1419.7 1464.5,1432.0 1465.5,1440.4 1465.5,1455.5 1466.5,1449.5 1466.5,1439.1 1467.5,1451.2 1467.5,1403.5 1468.5,1368.1 1468.5,1289.7 1469.5,1264.7 1469.5,1240.9 1470.5,1282.2 1470.5,1320.0 1471.5,1341.6 1471.5,1382.1 1472.5,1361.1 1472.5,1348.4 1473.5,1358.5 1473.5,1401.8 1474.5,1402.1 1474.5,1439.8 1475.5,1442.6 1475.5,1459.3 1476.5,1461.9 1476.5,1454.2 1477.5,1459.0 1477.5,1470.4 1478.5,1464.4 1478.5,1456.9 1479.5,1458.5 1479.5,1463.8 1480.5,1457.2 1480.5,1451.8 1481.5,1453.4 1481.5,1464.8 1482.5,1463.3 1482.5,1467.8 1483.5,1470.9 1483.5,1457.4 1484.5,1458.2 1484.5,1465.7 1485.5,1462.8 1485.5,1468.8 1486.5,1466.6 1486.5,1460.5 1487.5,1462.1 1487.5,1473.4 1488.5,1468.2 1488.5,1445.6 1489.5,1464.5 1489.5,1466.7 1490.5,1466.8 1490.5,1467.5 1491.5,1463.8 1491.5,1471.3 1492.5,1471.4 1492.5,1463.8 1493.5,1473.7 1493.5,1452.6 1494.5,1461.7 1494.5,1475.2 1495.5,1470.0 1495.5,1455.7 1496.5,1464.8 1496.5,1471.5 1497.5,1470.0 1497.5,1479.1 1498.5,1477.6 1498.5,1466.3 1499.5,1471.6 1499.5,1475.4 1500.5,1478.4 1500.5,1464.8 1501.5,1458.1 1501.5,1478.4 1502.5,1471.7 1502.5,1465.6 1503.5,1467.9 1503.5,1456.7 1504.5,1458.9 1504.5,1469.5 1505.5,1469.5 1505.5,1463.5 1506.5,1462.7 1506.5,1471.8 1507.5,1470.3 1507.5,1466.5 1508.5,1466.5 1508.5,1462.0 1509.5,1458.3 1509.5,1473.3 1510.5,1474.8 1510.5,1459.0 1511.5,1449.3 1511.5,1470.3 1512.5,1477.9 1512.5,1462.1 1513.5,1461.3 1513.5,1474.9 1514.5,1476.4 1514.5,1462.1 1515.5,1468.1 1515.5,1470.4 1516.5,1470.4 1516.5,1472.6 1517.5,1471.1 1517.5,1462.1 1518.5,1464.4 1518.5,1471.2 1519.5,1475.7 1519.5,1463.6 1520.5,1467.4 1520.5,1477.2 1521.5,1472.7 1521.5,1465.9 1522.5,1472.7 1522.5,1476.5 1523.5,1471.2 1523.5,1467.4 1524.5,1466.7 1524.5,1461.4 1525.5,1462.9 1525.5,1471.2 1526.5,1470.5 1526.5,1477.2 1527.5,1476.5 1527.5,1463.7 1528.5,1460.7 1528.5,1469.0 1529.5,1472.7 1529.5,1456.9 1530.5,1463.7 1530.5,1478.0 1531.5,1476.5 1531.5,1462.2 1532.5,1464.5 1532.5,1470.5 1533.5,1468.2 1533.5,1476.5 1534.5,1472.8 1534.5,1470.5 1535.5,1467.5 1535.5,1475.0 1536.5,1477.3 1536.5,1470.5 1537.5,1482.6 1537.5,1456.2 1538.5,1463.0 1538.5,1477.3 1539.5,1471.3 1539.5,1466.0 1540.5,1463.0 1540.5,1471.3 1541.5,1472.0 1541.5,1469.8 1542.5,1472.8 1542.5,1463.0 1543.5,1461.5 1543.5,1473.5 1544.5,1469.8 1544.5,1469.0 1545.5,1458.5 1545.5,1479.6 1546.5,1475.1 1546.5,1469.0 1547.5,1467.5 1547.5,1472.8 1548.5,1472.0 1548.5,1476.6 1549.5,1475.1 1549.5,1472.0 1550.5,1472.8 1550.5,1460.0 1551.5,1463.8 1551.5,1473.6 1552.5,1474.3 1552.5,1472.0 1553.5,1475.8 1553.5,1463.0 1554.5,1471.3 1554.5,1478.1 1555.5,1476.6 1555.5,1455.5 1556.5,1463.8 1556.5,1478.1 1557.5,1473.6 1557.5,1467.5 1558.5,1470.6 1558.5,1476.6 1559.5,1468.3 1559.5,1463.0 1560.5,1467.5 1560.5,1475.8 1561.5,1476.6 1561.5,1469.8 1562.5,1468.3 1562.5,1476.6 1563.5,1473.6 1563.5,1472.1 1564.5,1472.8 1564.5,1469.8 1565.5,1469.8 1565.5,1473.6 1566.5,1475.8 1566.5,1462.3 1567.5,1468.3 1567.5,1472.1 1568.5,1477.3 1568.5,1466.0 1569.5,1468.3 1569.5,1479.6 1570.5,1466.0 1570.5,1463.0 1571.5,1469.1 1571.5,1476.6 1572.5,1470.6 1572.5,1460.8 1573.5,1469.1 1573.5,1473.6 1574.5,1478.1 1574.5,1460.8 1575.5,1463.0 1575.5,1468.3 1576.5,1463.0 1576.5,1479.6 1577.5,1474.3 1577.5,1466.8 1578.5,1463.8 1578.5,1472.8 1579.5,1472.1 1579.5,1460.0 1580.5,1466.0 1580.5,1475.8 1581.5,1469.0 1581.5,1460.8 1582.5,1470.6 1582.5,1479.6 1583.5,1471.3 1583.5,1464.5 1584.5,1459.3 1584.5,1474.3 1585.5,1470.5 1585.5,1465.3 1586.5,1468.3 1586.5,1473.6 1587.5,1472.8 1587.5,1480.3 1588.5,1475.8 1588.5,1469.8 1589.5,1472.0 1589.5,1477.3 1590.5,1478.8 1590.5,1471.3 1591.5,1477.3 1591.5,1460.8 1592.5,1464.5 1592.5,1475.8 1593.5,1469.0 1593.5,1460.0 1594.5,1469.0 1594.5,1472.0 1595.5,1472.8 1595.5,1481.1 1596.5,1471.3 1596.5,1466.8 1597.5,1465.3 1597.5,1475.8 1598.5,1473.5 1598.5,1461.5 1599.5,1469.8 1599.5,1472.0 1600.5,1469.0 1600.5,1463.0 1601.5,1462.2 1601.5,1473.5 1602.5,1472.8 1602.5,1478.1 1603.5,1470.5 1603.5,1466.8 1604.5,1469.0 1604.5,1462.2 1605.5,1460.7 1605.5,1477.3 1606.5,1469.8 1606.5,1462.2 1607.5,1466.8 1607.5,1476.5 1608.5,1475.8 1608.5,1463.0 1609.5,1466.0 1609.5,1467.5 1610.5,1469.0 1610.5,1478.8 1611.5,1471.3 1611.5,1468.2 1612.5,1472.0 1612.5,1463.7 1613.5,1463.0 1613.5,1472.0 1614.5,1469.0 1614.5,1478.0 1615.5,1473.5 1615.5,1463.7 1616.5,1466.7 1616.5,1475.0 1617.5,1479.5 1617.5,1466.0 1618.5,1469.7 1618.5,1459.2 1619.5,1469.7 1619.5,1479.5 1620.5,1479.5 1620.5,1468.2 1621.5,1469.7 1621.5,1459.9 1622.5,1467.5 1622.5,1472.7 1623.5,1469.7 1623.5,1476.5 1624.5,1472.7 1624.5,1463.7 1625.5,1464.4 1625.5,1474.2 1626.5,1472.7 1626.5,1466.7 1627.5,1467.4 1627.5,1472.0 1628.5,1469.7 1628.5,1467.4 1629.5,1465.2 1629.5,1478.7 1630.5,1470.4 1630.5,1468.2 1631.5,1474.2 1631.5,1459.1 1632.5,1471.2 1632.5,1475.7 1633.5,1472.7 1633.5,1461.4 1634.5,1464.4 1634.5,1468.9 1635.5,1472.7 1635.5,1460.6 1636.5,1468.1 1636.5,1477.2 1637.5,1475.7 1637.5,1464.4 1638.5,1467.4 1638.5,1459.1 1639.5,1464.3 1639.5,1473.4 1640.5,1473.4 1640.5,1461.3 1641.5,1459.8 1641.5,1475.6 1642.5,1474.9 1642.5,1467.3 1643.5,1470.3 1643.5,1456.8 1644.5,1459.0 1644.5,1470.3 1645.5,1466.5 1645.5,1459.8 1646.5,1463.5 1646.5,1473.3 1647.5,1469.5 1647.5,1468.8 1648.5,1467.3 1648.5,1477.0 1649.5,1471.0 1649.5,1465.0 1650.5,1468.7 1650.5,1472.5 1651.5,1476.2 1651.5,1459.7 1652.5,1464.2 1652.5,1470.2 1653.5,1473.2 1653.5,1459.7 1654.5,1466.4 1654.5,1473.2 1655.5,1473.9 1655.5,1469.4 1656.5,1465.6 1656.5,1461.8 1657.5,1458.8 1657.5,1470.1 1658.5,1475.3 1658.5,1464.1 1659.5,1468.5 1659.5,1477.6 1660.5,1470.0 1660.5,1461.0 1661.5,1457.9 1661.5,1470.0 1662.5,1474.5 1662.5,1460.9 1663.5,1466.2 1663.5,1473.7 1664.5,1465.4 1664.5,1457.8 1665.5,1460.8 1665.5,1470.6 1666.5,1463.0 1666.5,1457.0 1667.5,1458.4 1667.5,1461.4 1668.5,1458.4 1668.5,1472.7 1669.5,1465.8 1669.5,1456.8 1670.5,1463.5 1670.5,1468.8 1671.5,1461.2 1671.5,1456.7 1672.5,1454.4 1672.5,1464.8 1673.5,1468.6 1673.5,1458.8 1674.5,1456.4 1674.5,1467.0 1675.5,1467.6 1675.5,1446.6 1676.5,1458.5 1676.5,1465.2 1677.5,1468.9 1677.5,1447.8 1678.5,1454.5 1678.5,1463.5 1679.5,1461.2 1679.5,1457.4 1680.5,1454.2 1680.5,1461.8 1681.5,1463.9 1681.5,1456.2 1682.5,1460.4 1682.5,1446.2 1683.5,1450.1 1683.5,1426.6 1684.5,1395.3 1684.5,1349.0 1685.5,1290.8 1685.5,1235.6 1686.5,1245.7 1686.5,1187.2 1687.5,1272.8 1687.5,1351.1 1688.5,1364.9 1688.5,1390.6 1689.5,1368.7 1689.5,1341.5 1690.5,1345.0 1690.5,1324.5 1691.5,1362.1 1691.5,1409.5 1692.5,1417.8 1692.5,1439.1 1693.5,1448.4 1693.5,1458.2 1694.5,1456.3 1694.5,1464.7 1695.5,1460.3 1695.5,1448.9 1696.5,1449.2 1696.5,1462.0 1697.5,1466.6 1697.5,1445.5 1698.5,1441.9 1698.5,1459.9 1699.5,1452.5 1699.5,1467.6 1700.5,1469.2 1700.5,1448.8 1701.5,1461.8 1701.5,1474.5 1702.5,1463.3 1702.5,1452.0 1703.5,1453.6 1703.5,1464.9 1704.5,1468.0 1704.5,1452.1 1705.5,1457.5 1705.5,1474.0 1706.5,1468.8 1706.5,1453.8 1707.5,1461.4 1707.5,1471.1 1708.5,1471.9 1708.5,1463.7 1709.5,1469.0 1709.5,1453.9 1710.5,1458.5 1710.5,1466.8 1711.5,1462.3 1711.5,1477.3 1712.5,1474.3 1712.5,1463.1 1713.5,1467.6 1713.5,1457.8 1714.5,1464.6 1714.5,1469.9 1715.5,1469.2 1715.5,1460.1 1716.5,1461.7 1716.5,1473.0 1717.5,1471.5 1717.5,1463.2 1718.5,1458.7 1718.5,1472.2 1719.5,1476.0 1719.5,1464.0 1720.5,1465.5 1720.5,1461.7 1721.5,1464.8 1721.5,1468.5 1722.5,1474.6 1722.5,1459.5 1723.5,1456.5 1723.5,1469.3 1724.5,1473.1 1724.5,1464.1 1725.5,1466.3 1725.5,1473.1 1726.5,1476.1 1726.5,1462.6 1727.5,1464.1 1727.5,1466.3 1728.5,1470.8 1728.5,1459.6 1729.5,1465.6 1729.5,1478.4 1730.5,1473.9 1730.5,1461.8 1731.5,1466.3 1731.5,1470.1 1732.5,1473.1 1732.5,1455.1 1733.5,1460.3 1733.5,1464.8 1734.5,1467.1 1734.5,1476.1 1735.5,1472.4 1735.5,1462.6 1736.5,1463.3 1736.5,1475.4 1737.5,1479.1 1737.5,1465.6 1738.5,1462.6 1738.5,1470.1 1739.5,1473.9 1739.5,1464.1 1740.5,1464.8 1740.5,1474.6 1741.5,1469.3 1741.5,1463.3 1742.5,1463.3 1742.5,1475.3 1743.5,1472.3 1743.5,1463.3 1744.5,1469.3 1744.5,1476.8 1745.5,1472.3 1745.5,1464.8 1746.5,1458.7 1746.5,1473.0 1747.5,1470.0 1747.5,1464.0 1748.5,1459.4 1748.5,1472.2 1749.5,1465.4 1749.5,1460.9 1750.5,1453.4 1750.5,1469.2 1751.5,1469.9 1751.5,1462.4 1752.5,1463.9 1752.5,1473.6 1753.5,1478.1 1753.5,1460.8 1754.5,1466.1 1754.5,1455.5 1755.5,1460.0 1755.5,1467.6 1756.5,1475.0 1756.5,1458.5 1757.5,1457.7 1757.5,1474.2 1758.5,1469.7 1758.5,1453.9 1759.5,1459.1 1759.5,1470.4 1760.5,1468.1 1760.5,1462.8 1761.5,1465.0 1761.5,1468.8 1762.5,1464.2 1762.5,1457.4 1763.5,1460.3 1763.5,1474.7 1764.5,1462.6 1764.5,1460.3 1765.5,1455.0 1765.5,1467.0 1766.5,1467.6 1766.5,1461.7 1767.5,1460.8 1767.5,1448.0 1768.5,1459.9 1768.5,1469.8 1769.5,1465.2 1769.5,1450.8 1770.5,1459.7 1770.5,1461.2 1771.5,1459.6 1771.5,1456.4 1772.5,1459.4 1772.5,1451.0 1773.5,1455.8 1773.5,1420.8 1774.5,1400.8 1774.5,1376.4 1775.5,1349.5 1775.5,1302.1 1776.5,1315.6 1776.5,1334.3 1777.5,1336.3 1777.5,1381.8 1778.5,1389.6 1778.5,1407.5 1779.5,1412.8 1779.5,1397.9 1780.5,1399.9 1780.5,1384.4 1781.5,1383.6 1781.5,1405.0 1782.5,1420.6 1782.5,1439.8 1783.5,1439.4 1783.5,1454.6 1784.5,1452.1 1784.5,1458.5 1785.5,1460.0 1785.5,1450.0 1786.5,1458.5 1786.5,1469.1 1787.5,1467.7 1787.5,1454.1 1788.5,1453.5 1788.5,1467.7 1789.5,1464.9 1789.5,1460.4 1790.5,1460.4 1790.5,1462.6 1791.5,1461.3 1791.5,1470.2 1792.5,1467.3 1792.5,1457.5 1793.5,1460.6 1793.5,1470.4 1794.5,1469.7 1794.5,1465.2 1795.5,1462.9 1795.5,1470.5 1796.5,1478.0 1796.5,1453.2 1797.5,1460.8 1797.5,1472.1 1798.5,1470.6 1798.5,1463.8 1799.5,1463.1 1799.5,1464.6 1800.5,1469.9 1800.5,1454.9 1801.5,1464.7 1801.5,1472.2 1802.5,1473.0 1802.5,1465.5 1803.5,1464.0 1803.5,1458.0 1804.5,1461.7 1804.5,1472.3 1805.5,1467.8 1805.5,1465.5 1806.5,1465.5 1806.5,1475.3 1807.5,1470.8 1807.5,1468.6 1808.5,1470.1 1808.5,1461.1 1809.5,1457.3 1809.5,1472.4 1810.5,1472.4 1810.5,1465.6 1811.5,1465.6 1811.5,1456.6 1812.5,1467.1 1812.5,1473.2 1813.5,1474.7 1813.5,1467.2 1814.5,1464.9 1814.5,1480.0 1815.5,1476.2 1815.5,1467.2 1816.5,1471.0 1816.5,1461.9 1817.5,1460.4 1817.5,1476.2 1818.5,1471.7 1818.5,1468.0 1819.5,1467.2 1819.5,1472.5 1820.5,1475.5 1820.5,1467.2 1821.5,1465.7 1821.5,1460.5 1822.5,1465.7 1822.5,1474.8 1823.5,1470.2 1823.5,1465.7 1824.5,1470.3 1824.5,1479.3 1825.5,1477.0 1825.5,1467.2 1826.5,1469.5 1826.5,1459.7 1827.5,1469.5 1827.5,1472.5 1828.5,1467.3 1828.5,1459.7 1829.5,1461.2 1829.5,1473.3 1830.5,1469.5 1830.5,1477.8 1831.5,1469.5 1831.5,1465.7 1832.5,1464.2 1832.5,1471.8 1833.5,1473.3 1833.5,1460.4 1834.5,1462.7 1834.5,1471.7 1835.5,1470.1 1835.5,1464.0 1836.5,1471.4 1836.5,1454.5 1837.5,1454.9 1837.5,1469.5 1838.5,1450.3 1838.5,1441.7 1839.5,1432.2 1839.5,1454.3 1840.5,1443.1 1840.5,1431.9 1841.5,1435.4 1841.5,1445.5 1842.5,1444.6 1842.5,1450.9 1843.5,1456.6 1843.5,1439.5 1844.5,1440.9 1844.5,1505.1 1845.5,1504.2 1845.5,1506.0 1846.5,1506.0 1846.5,1505.1 1847.5,1504.2 1847.5,1506.0 1848.5,1506.0 1848.5,1504.2 1849.5,1504.2 1849.5,1506.0 1850.5,1506.0 1850.5,1504.2 1851.5,1504.2 1851.5,1506.0 1852.5,1506.0 1852.5,1505.1 1853.5,1504.2 1853.5,1506.0 1854.5,1506.0 1854.5,1504.2 1855.5,1504.2 1855.5,1505.1 1856.5,1505.1 1856.5,1506.0 1857.5,1506.0 1857.5,1504.2 1858.5,1505.1 1858.5,1506.0 1859.5,1505.1 1859.5,1504.2 1860.5,1504.2 1861.5,1504.2 1861.5,1506.0 1862.5,1506.0 1862.5,1504.2 1863.5,1505.1 1863.5,1506.0 1864.5,1506.0 1864.5,1504.2 1865.5,1504.2 1865.5,1506.0 1866.5,1505.1 1867.5,1504.2 1867.5,1506.0 1868.5,1506.0 1868.5,1505.1 1869.5,1504.2 1869.5,1506.0"/>
<polyline stroke="#ff0000" points="516.5,1506.0 516.5,1504.2 517.5,1505.1 517.5,1506.0 518.5,1506.0 518.5,1504.2 519.5,1505.1 519.5,1506.0 520.5,1506.0 520.5,1504.2 521.5,1504.2 521.5,1506.0 522.5,1506.0 522.5,1504.2 523.5,1504.2 523.5,1506.0 524.5,1506.0 524.5,1505.1 525.5,1504.2 525.5,1506.0 526.5,1506.0 526.5,1504.2 527.5,1504.2 527.5,1506.0 528.5,1505.1 528.5,1504.2 529.5,1504.2 529.5,1506.0 530.5,1506.0 530.5,1504.2 531.5,1489.1 531.5,1432.8 532.5,1415.7 532.5,1391.8 533.5,1390.9 533.5,1413.0 534.5,1401.5 534.5,1373.2 535.5,1393.6 535.5,1411.3 536.5,1400.6 536.5,1392.7 537.5,1401.5 537.5,1413.9 538.5,1410.4 538.5,1404.2 539.5,1418.4 539.5,1387.4 540.5,1413.0 540.5,1415.7 541.5,1418.4 541.5,1395.3 542.5,1398.9 542.5,1406.8 543.5,1398.9 543.5,1421.9 544.5,1421.0 544.5,1408.6 545.5,1414.8 545.5,1400.6 546.5,1394.4 546.5,1414.8 547.5,1413.0 547.5,1393.6 548.5,1398.9 548.5,1416.6 549.5,1429.9 549.5,1390.9 550.5,1401.5 550.5,1417.5 551.5,1404.2 551.5,1392.7 552.5,1398.0 552.5,1413.9 553.5,1414.8 553.5,1382.9 554.5,1392.7 554.5,1399.8 555.5,1397.1 555.5,1409.5 556.5,1410.4 556.5,1397.1 557.5,1393.6 557.5,1430.7 558.5,1404.2 558.5,1386.5 559.5,1408.6 559.5,1421.9 560.5,1416.6 560.5,1393.6 561.5,1405.1 561.5,1410.4 562.5,1413.0 562.5,1405.1 563.5,1400.6 563.5,1422.8 564.5,1409.5 564.5,1383.8 565.5,1399.8 565.5,1414.8 566.5,1419.2 566.5,1406.8 567.5,1417.5 567.5,1387.4 568.5,1397.1 568.5,1417.5 569.5,1415.7 569.5,1394.4 570.5,1399.8 570.5,1433.4 571.5,1428.1 571.5,1401.5 572.5,1402.4 572.5,1415.7 573.5,1405.1 573.5,1426.3 574.5,1409.5 574.5,1401.5 575.5,1399.8 575.5,1421.0 576.5,1421.9 576.5,1413.0 577.5,1412.2 577.5,1406.8 578.5,1398.9 578.5,1421.9 579.5,1413.9 579.5,1411.3 580.5,1421.0 580.5,1400.6 581.5,1407.7 581.5,1417.5 582.5,1421.0 582.5,1392.7 583.5,1400.6 583.5,1420.1 584.5,1426.3 584.5,1393.6 585.5,1401.5 585.5,1435.2 586.5,1409.5 586.5,1402.4 587.5,1408.6 587.5,1419.2 588.5,1415.7 588.5,1403.3 589.5,1396.2 589.5,1414.8 590.5,1416.6 590.5,1410.4 591.5,1419.2 591.5,1397.1 592.5,1412.2 592.5,1430.7 593.5,1432.5 593.5,1411.3 594.5,1399.8 594.5,1424.5 595.5,1421.9 595.5,1401.5 596.5,1413.9 596.5,1419.2 597.5,1420.1 598.5,1426.3 598.5,1405.1 599.5,1412.2 599.5,1425.4 600.5,1436.9 600.5,1413.0 601.5,1399.8 601.5,1437.8 602.5,1422.8 602.5,1412.2 603.5,1412.2 603.5,1415.7 604.5,1409.5 604.5,1429.0 605.5,1435.2 605.5,1398.0 606.5,1391.8 606.5,1428.1 607.5,1434.3 607.5,1400.6 608.5,1418.4 608.5,1435.2 609.5,1424.5 609.5,1406.0 610.5,1421.9 610.5,1428.1 611.5,1425.4 611.5,1407.7 612.5,1422.8 612.5,1433.4 613.5,1423.7 613.5,1413.0 614.5,1425.4 614.5,1428.1 615.5,1425.4 615.5,1436.9 616.5,1431.6 616.5,1407.7 617.5,1407.7 617.5,1426.3 618.5,1434.3 618.5,1406.8 619.5,1411.3 619.5,1421.9 620.5,1418.4 620.5,1429.0 621.5,1437.8 621.5,1418.4 622.5,1413.0 622.5,1426.3 623.5,1425.4 623.5,1419.2 624.5,1419.2 624.5,1427.2 625.5,1426.3 625.5,1414.8 626.5,1412.2 626.5,1427.2 627.5,1435.2 627.5,1418.4 628.5,1408.6 628.5,1436.9 629.5,1427.2 629.5,1413.9 630.5,1427.2 630.5,1443.1 631.5,1437.8 631.5,1422.8 632.5,1416.6 632.5,1434.3 633.5,1429.9 633.5,1424.5 634.5,1435.2 634.5,1411.3 635.5,1419.2 635.5,1431.6 636.5,1436.1 636.5,1419.2 637.5,1421.9 637.5,1427.2 638.5,1433.4 638.5,1415.7 639.5,1421.0 639.5,1425.4 640.5,1418.4 640.5,1441.4 641.5,1422.8 641.5,1418.4 642.5,1424.5 642.5,1443.1 643.5,1425.4 643.5,1419.2 644.5,1413.9 644.5,1432.5 645.5,1426.3 645.5,1421.0 646.5,1415.7 646.5,1429.9 647.5,1429.0 647.5,1423.7 648.5,1413.0 648.5,1437.8 649.5,1435.2 649.5,1421.0 650.5,1428.1 650.5,1446.7 651.5,1444.9 651.5,1419.2 652.5,1423.7 652.5,1443.1 653.5,1444.0 653.5,1432.5 654.5,1423.7 654.5,1442.3 655.5,1441.4 655.5,1429.0 656.5,1421.0 656.5,1441.4 657.5,1443.1 657.5,1429.0 658.5,1421.9 658.5,1443.1 659.5,1439.6 659.5,1424.5 660.5,1422.8 660.5,1445.8 661.5,1444.9 661.5,1429.0 662.5,1432.5 662.5,1438.7 663.5,1431.6 663.5,1429.9 664.5,1436.9 664.5,1444.0 665.5,1448.5 665.5,1428.1 666.5,1424.5 666.5,1438.7 667.5,1442.3 667.5,1424.5 668.5,1427.2 668.5,1434.3 669.5,1436.9 669.5,1424.5 670.5,1423.7 670.5,1443.1 671.5,1440.5 671.5,1429.0 672.5,1427.2 672.5,1442.3 673.5,1446.7 673.5,1427.2 674.5,1417.5 674.5,1441.4 675.5,1442.3 675.5,1427.2 676.5,1429.9 676.5,1444.9 677.5,1436.1 677.5,1455.5 678.5,1449.3 678.5,1425.4 679.5,1429.9 679.5,1445.8 680.5,1438.7 680.5,1436.1 681.5,1441.4 681.5,1449.3 682.5,1443.1 682.5,1424.5 683.5,1439.6 683.5,1445.8 684.5,1449.3 684.5,1427.2 685.5,1429.0 685.5,1437.8 686.5,1439.6 686.5,1427.2 687.5,1434.3 687.5,1442.3 688.5,1436.9 688.5,1435.2 689.5,1440.5 689.5,1425.4 690.5,1428.1 690.5,1452.0 691.5,1452.9 691.5,1429.9 692.5,1432.5 692.5,1450.2 693.5,1454.7 693.5,1433.4 694.5,1437.8 694.5,1418.4 695.5,1432.5 695.5,1456.4 696.5,1443.1 696.5,1432.5 697.5,1423.7 697.5,1443.1 698.5,1441.4 698.5,1435.2 699.5,1426.3 699.5,1454.7 700.5,1451.1 700.5,1421.0 701.5,1429.9 701.5,1458.2 702.5,1449.3 702.5,1431.6 703.5,1428.1 703.5,1451.1 704.5,1446.7 704.5,1439.6 705.5,1436.1 705.5,1448.5 706.5,1455.5 706.5,1434.3 707.5,1432.5 707.5,1442.3 708.5,1435.2 708.5,1449.3 709.5,1444.0 709.5,1434.3 710.5,1446.7 710.5,1420.1 711.5,1426.3 711.5,1443.1 712.5,1441.4 712.5,1434.3 713.5,1434.3 713.5,1444.9 714.5,1440.5 714.5,1423.7 715.5,1435.2 715.5,1450.2 716.5,1451.1 716.5,1431.6 717.5,1438.7 717.5,1448.5 718.5,1448.5 718.5,1433.4 719.5,1433.4 719.5,1445.8 720.5,1444.9 720.5,1458.2 721.5,1452.9 721.5,1436.1 722.5,1429.9 722.5,1452.0 723.5,1449.3 723.5,1422.8 724.5,1432.5 724.5,1443.1 725.5,1441.4 725.5,1433.4 726.5,1432.5 726.5,1453.8 727.5,1450.2 727.5,1434.3 728.5,1436.9 728.5,1452.9 729.5,1449.3 729.5,1435.2 730.5,1444.9 730.5,1447.6 731.5,1452.9 731.5,1436.1 732.5,1436.1 732.5,1444.0 733.5,1444.0 733.5,1436.1 734.5,1446.7 734.5,1458.2 735.5,1450.2 735.5,1444.9 736.5,1447.6 736.5,1428.1 737.5,1442.3 737.5,1452.9 738.5,1454.7 738.5,1444.9 739.5,1446.7 739.5,1440.5 740.5,1435.2 740.5,1462.6 741.5,1449.3 741.5,1436.1 742.5,1429.0 742.5,1452.0 743.5,1454.7 743.5,1443.1 744.5,1437.8 744.5,1450.2 745.5,1451.1 745.5,1433.4 746.5,1436.9 746.5,1451.1 747.5,1456.4 747.5,1444.9 748.5,1448.5 748.5,1462.6 749.5,1455.5 749.5,1446.7 750.5,1453.8 750.5,1438.7 751.5,1442.3 751.5,1446.7 752.5,1451.1 752.5,1429.9 753.5,1444.0 753.5,1449.3 754.5,1446.7 754.5,1460.0 755.5,1456.4 755.5,1443.1 756.5,1439.6 756.5,1451.1 757.5,1457.3 757.5,1434.3 758.5,1437.8 758.5,1457.3 759.5,1455.5 759.5,1434.3 760.5,1440.5 760.5,1447.6 761.5,1445.8 761.5,1421.9 762.5,1419.2 762.5,1360.4 763.5,1338.6 763.5,1236.5 764.5,1214.7 764.5,1277.8 765.5,1262.3 765.5,1366.6 766.5,1398.6 766.5,1419.2 767.5,1429.9 767.5,1444.9 768.5,1440.5 768.5,1452.9 769.5,1453.8 769.5,1439.6 770.5,1438.7 770.5,1447.6 771.5,1439.6 771.5,1458.2 772.5,1455.5 772.5,1444.0 773.5,1439.6 773.5,1452.0 774.5,1457.3 774.5,1438.7 775.5,1431.6 775.5,1460.0 776.5,1452.9 776.5,1445.8 777.5,1448.5 777.5,1437.8 778.5,1447.6 778.5,1455.5 779.5,1457.3 779.5,1421.0 780.5,1438.7 780.5,1456.4 781.5,1450.2 781.5,1431.6 782.5,1430.7 782.5,1442.3 783.5,1437.8 783.5,1407.4 784.5,1372.5 784.5,1255.5 785.5,1185.8 785.5,953.6 786.5,944.7 786.5,1009.0 787.5,1066.2 787.5,1266.2 788.5,1316.2 788.5,1385.0 789.5,1426.3 789.5,1439.6 790.5,1439.6 790.5,1445.8 791.5,1444.9 791.5,1441.4 792.5,1444.0 792.5,1449.3 793.5,1450.2 793.5,1443.1 794.5,1439.6 794.5,1451.1 795.5,1444.0 795.5,1459.1 796.5,1456.4 796.5,1441.4 797.5,1443.1 797.5,1448.5 798.5,1453.8 798.5,1438.7 799.5,1452.9 799.5,1454.7 800.5,1460.8 800.5,1447.6 801.5,1447.6 801.5,1452.9 802.5,1443.1 802.5,1465.3 803.5,1460.8 803.5,1443.1 804.5,1443.1 804.5,1465.3 805.5,1460.8 805.5,1438.7 806.5,1433.4 806.5,1452.9 807.5,1452.9 807.5,1445.8 808.5,1444.0 808.5,1456.4 809.5,1456.4 809.5,1444.9 810.5,1458.2 810.5,1421.9 811.5,1444.9 811.5,1454.7 812.5,1452.9 812.5,1447.6 813.5,1447.6 813.5,1443.1 814.5,1446.7 814.5,1466.2 815.5,1456.4 815.5,1446.7 816.5,1441.4 816.5,1452.9 817.5,1449.3 817.5,1465.3 818.5,1460.0 818.5,1444.9 819.5,1442.3 819.5,1460.8 820.5,1458.2 820.5,1442.3 821.5,1452.9 821.5,1456.4 822.5,1457.3 822.5,1445.8 823.5,1446.7 823.5,1463.5 824.5,1460.0 824.5,1450.2 825.5,1453.8 825.5,1464.4 826.5,1459.1 826.5,1444.0 827.5,1439.6 827.5,1458.2 828.5,1451.1 828.5,1444.0 829.5,1441.4 829.5,1452.9 830.5,1452.9 830.5,1436.1 831.5,1438.7 831.5,1455.5 832.5,1446.7 832.5,1434.3 833.5,1442.3 833.5,1451.1 834.5,1456.4 834.5,1443.1 835.5,1444.0 835.5,1455.5 836.5,1460.0 836.5,1447.6 837.5,1439.6 837.5,1459.1 838.5,1466.2 838.5,1451.1 839.5,1448.5 839.5,1462.6 840.5,1457.3 840.5,1449.3 841.5,1454.7 841.5,1463.5 842.5,1453.8 842.5,1445.8 843.5,1452.0 843.5,1460.0 844.5,1456.4 844.5,1469.7 845.5,1470.6 845.5,1448.5 846.5,1448.5 846.5,1453.8 847.5,1449.3 847.5,1460.0 848.5,1458.2 848.5,1455.5 849.5,1462.6 849.5,1444.0 850.5,1454.7 850.5,1464.4 851.5,1463.5 851.5,1452.0 852.5,1457.3 852.5,1458.2 853.5,1449.3 853.5,1467.9 854.5,1455.5 854.5,1445.8 855.5,1447.6 855.5,1458.2 856.5,1459.1 856.5,1451.1 857.5,1449.3 857.5,1461.7 858.5,1450.2 858.5,1447.6 859.5,1444.9 859.5,1458.2 860.5,1463.5 860.5,1442.3 861.5,1448.5 861.5,1435.2 862.5,1437.8 862.5,1431.6 863.5,1422.0 863.5,1321.0 864.5,1273.1 864.5,1109.1 865.5,1024.2 865.5,902.2 866.5,912.3 866.5,1056.1 867.5,1133.5 867.5,1289.1 868.5,1321.9 868.5,1400.1 869.5,1419.5 869.5,1431.6 870.5,1444.9 870.5,1451.1 871.5,1449.3 871.5,1455.5 872.5,1461.7 872.5,1449.3 873.5,1459.1 873.5,1460.0 874.5,1465.3 874.5,1447.6 875.5,1446.7 875.5,1460.8 876.5,1460.8 876.5,1445.8 877.5,1449.3 877.5,1462.6 878.5,1460.8 878.5,1450.2 879.5,1460.8 879.5,1462.6 880.5,1466.2 880.5,1450.2 881.5,1445.8 881.5,1457.3 882.5,1452.9 882.5,1445.8 883.5,1452.0 883.5,1473.2 884.5,1463.5 884.5,1448.5 885.5,1452.9 885.5,1456.4 886.5,1456.4 886.5,1469.7 887.5,1454.7 887.5,1448.5 888.5,1440.5 888.5,1467.9 889.5,1464.4 889.5,1450.2 890.5,1452.0 890.5,1459.1 891.5,1461.7 891.5,1453.8 892.5,1452.0 892.5,1466.2 893.5,1464.4 893.5,1454.7 894.5,1452.9 894.5,1464.4 895.5,1460.8 895.5,1452.9 896.5,1449.3 896.5,1466.2 897.5,1472.4 897.5,1454.7 898.5,1465.3 898.5,1442.3 899.5,1455.5 899.5,1466.2 900.5,1469.7 900.5,1456.4 901.5,1458.2 901.5,1464.4 902.5,1460.0 902.5,1448.5 903.5,1452.0 903.5,1464.4 904.5,1462.6 904.5,1454.7 905.5,1458.2 905.5,1444.0 906.5,1446.7 906.5,1458.2 907.5,1463.5 907.5,1446.7 908.5,1438.7 908.5,1457.3 909.5,1428.0 909.5,1381.3 910.5,1341.5 910.5,1230.0 911.5,1159.1 911.5,1006.1 912.5,991.4 912.5,943.8 913.5,1025.1 913.5,1196.3 914.5,1254.2 914.5,1357.9 915.5,1401.2 915.5,1443.1 916.5,1444.0 916.5,1463.5 917.5,1456.4 917.5,1447.6 918.5,1449.3 918.5,1464.4 919.5,1460.0 919.5,1444.0 920.5,1444.9 920.5,1452.0 921.5,1454.7 921.5,1460.8 922.5,1459.1 922.5,1451.1 923.5,1450.2 923.5,1461.7 924.5,1461.7 924.5,1459.1 925.5,1460.0 925.5,1449.3 926.5,1448.5 926.5,1460.0 927.5,1467.9 927.5,1450.2 928.5,1450.2 928.5,1460.0 929.5,1446.7 929.5,1432.5 930.5,1417.5 930.5,1447.6 931.5,1427.2 931.5,1420.1 932.5,1421.0 932.5,1405.1 933.5,1412.2 933.5,1432.5 934.5,1432.5 934.5,1445.8 935.5,1443.1 935.5,1451.1 936.5,1446.7 936.5,1463.5 937.5,1460.8 937.5,1448.5 938.5,1452.0 938.5,1467.9 939.5,1475.0 939.5,1456.4 940.5,1456.4 940.5,1465.3 941.5,1464.4 941.5,1450.2 942.5,1459.1 942.5,1463.5 943.5,1466.2 943.5,1455.5 944.5,1459.1 944.5,1464.4 945.5,1460.8 945.5,1445.8 946.5,1460.8 946.5,1467.0 947.5,1464.4 947.5,1452.9 948.5,1453.8 948.5,1470.6 949.5,1466.2 949.5,1450.2 950.5,1452.0 950.5,1463.5 951.5,1458.2 951.5,1468.8 952.5,1465.3 952.5,1449.3 953.5,1450.2 953.5,1460.0 954.5,1466.2 954.5,1452.0 955.5,1447.6 955.5,1459.1 956.5,1454.7 956.5,1467.9 957.5,1463.5 957.5,1456.4 958.5,1459.1 958.5,1475.0 959.5,1468.8 959.5,1459.1 960.5,1460.0 960.5,1467.9 961.5,1465.3 961.5,1460.0 962.5,1462.6 962.5,1466.2 963.5,1462.6 963.5,1453.8 964.5,1454.7 964.5,1461.7 965.5,1465.3 965.5,1454.7 966.5,1447.6 966.5,1462.6 967.5,1462.6 967.5,1456.4 968.5,1452.0 968.5,1469.7 969.5,1457.3 969.5,1449.3 970.5,1451.1 970.5,1457.3 971.5,1461.7 971.5,1451.1 972.5,1452.0 972.5,1441.4 973.5,1454.7 973.5,1464.4 974.5,1460.0 974.5,1444.0 975.5,1451.1 975.5,1460.0 976.5,1467.0 976.5,1440.5 977.5,1441.4 977.5,1459.1 978.5,1451.1 978.5,1435.2 979.5,1440.5 979.5,1452.0 980.5,1428.1 980.5,1412.2 981.5,1435.2 981.5,1389.1 982.5,1407.7 982.5,1332.5 983.5,1303.3 983.5,611.8 984.5,0.9 985.5,0.9 986.5,0.9 987.5,0.9 987.5,927.9 988.5,1164.3 988.5,1324.5 989.5,1321.8 989.5,1355.5 990.5,1365.2 990.5,1389.1 991.5,1381.2 991.5,1398.0 992.5,1401.5 992.5,1378.5 993.5,1401.5 993.5,1428.1 994.5,1428.1 994.5,1405.1 995.5,1419.2 995.5,1430.7 996.5,1436.9 996.5,1415.7 997.5,1413.9 997.5,1436.9 998.5,1435.2 998.5,1418.4 999.5,1420.1 999.5,1443.1 1000.5,1439.6 1000.5,1421.0 1001.5,1425.4 1001.5,1450.2 1002.5,1439.6 1002.5,1437.8 1003.5,1450.2 1003.5,1421.9 1004.5,1427.2 1004.5,1453.8 1005.5,1452.0 1005.5,1429.0 1006.5,1430.7 1006.5,1454.7 1007.5,1449.3 1007.5,1429.0 1008.5,1439.6 1008.5,1451.1 1009.5,1451.1 1009.5,1467.9 1010.5,1455.5 1010.5,1444.9 1011.5,1452.0 1011.5,1459.1 1012.5,1456.4 1012.5,1452.9 1013.5,1444.0 1013.5,1467.9 1014.5,1465.3 1014.5,1442.3 1015.5,1450.2 1015.5,1458.2 1016.5,1452.0 1016.5,1464.4 1017.5,1460.0 1017.5,1450.2 1018.5,1460.0 1018.5,1461.7 1019.5,1452.9 1019.5,1432.5 1020.5,1403.3 1020.5,1395.3 1021.5,1393.6 1021.5,1369.7 1022.5,1377.6 1022.5,1344.9 1023.5,1342.2 1023.5,1375.9 1024.5,1390.0 1024.5,1348.4 1025.5,1390.0 1025.5,1401.5 1026.5,1414.8 1026.5,1429.0 1027.5,1425.4 1027.5,1460.0 1028.5,1465.3 1028.5,1444.0 1029.5,1460.0 1029.5,1463.5 1030.5,1467.9 1030.5,1449.3 1031.5,1454.7 1031.5,1469.7 1032.5,1467.9 1032.5,1459.1 1033.5,1459.1 1033.5,1467.9 1034.5,1463.5 1034.5,1478.6 1035.5,1469.7 1035.5,1463.5 1036.5,1453.8 1036.5,1479.4 1037.5,1473.2 1037.5,1466.2 1038.5,1468.8 1038.5,1455.5 1039.5,1457.3 1039.5,1471.5 1040.5,1467.0 1040.5,1452.9 1041.5,1457.3 1041.5,1460.8 1042.5,1460.8 1042.5,1476.8 1043.5,1468.8 1043.5,1459.1 1044.5,1460.0 1044.5,1474.1 1045.5,1470.6 1045.5,1462.6 1046.5,1458.2 1046.5,1482.1 1047.5,1472.4 1047.5,1464.4 1048.5,1464.4 1048.5,1457.3 1049.5,1468.8 1049.5,1475.0 1050.5,1470.6 1050.5,1453.8 1051.5,1462.6 1051.5,1470.6 1052.5,1474.1 1052.5,1450.2 1053.5,1460.8 1053.5,1467.9 1054.5,1460.0 1054.5,1481.2 1055.5,1463.5 1055.5,1456.4 1056.5,1458.2 1056.5,1462.6 1057.5,1462.6 1057.5,1450.2 1058.5,1457.3 1058.5,1438.3 1059.5,1437.5 1059.5,1440.7 1060.5,1434.3 1060.5,1451.1 1061.5,1443.1 1061.5,1440.7 1062.5,1443.1 1062.5,1452.0 1063.5,1446.7 1063.5,1461.7 1064.5,1460.8 1064.5,1467.9 1065.5,1466.2 1065.5,1474.1 1066.5,1471.5 1066.5,1461.7 1067.5,1460.8 1067.5,1470.6 1068.5,1466.2 1068.5,1475.9 1069.5,1478.6 1069.5,1467.0 1070.5,1465.3 1070.5,1472.4 1071.5,1472.4 1071.5,1467.0 1072.5,1469.7 1072.5,1483.0 1073.5,1478.6 1073.5,1465.3 1074.5,1461.7 1074.5,1476.8 1075.5,1481.2 1075.5,1468.8 1076.5,1468.8 1076.5,1477.7 1077.5,1475.9 1077.5,1461.7 1078.5,1461.7 1078.5,1469.7 1079.5,1474.1 1079.5,1463.5 1080.5,1475.0 1080.5,1478.6 1081.5,1473.2 1081.5,1465.3 1082.5,1467.0 1082.5,1475.0 1083.5,1473.2 1083.5,1456.4 1084.5,1461.7 1084.5,1468.8 1085.5,1463.5 1085.5,1475.0 1086.5,1472.4 1086.5,1480.3 1087.5,1475.9 1087.5,1467.0 1088.5,1467.9 1088.5,1477.7 1089.5,1483.0 1089.5,1462.6 1090.5,1470.6 1090.5,1472.4 1091.5,1473.2 1091.5,1466.2 1092.5,1469.7 1092.5,1480.3 1093.5,1476.8 1093.5,1461.7 1094.5,1476.8 1094.5,1478.6 1095.5,1483.0 1095.5,1467.9 1096.5,1467.9 1096.5,1474.1 1097.5,1476.8 1097.5,1460.0 1098.5,1466.2 1098.5,1480.3 1099.5,1482.1 1099.5,1463.5 1100.5,1473.2 1100.5,1476.8 1101.5,1475.9 1101.5,1469.7 1102.5,1468.8 1102.5,1482.1 1103.5,1478.6 1103.5,1471.5 1104.5,1467.9 1104.5,1475.9 1105.5,1477.7 1105.5,1455.5 1106.5,1461.7 1106.5,1474.1 1107.5,1474.1 1107.5,1468.8 1108.5,1464.4 1108.5,1481.2 1109.5,1479.4 1109.5,1475.9 1110.5,1474.1 1110.5,1465.3 1111.5,1471.5 1111.5,1473.2 1112.5,1480.3 1112.5,1459.1 1113.5,1471.5 1113.5,1478.6 1114.5,1469.7 1114.5,1464.4 1115.5,1461.7 1115.5,1475.0 1116.5,1474.1 1116.5,1467.0 1117.5,1462.6 1117.5,1475.0 1118.5,1478.6 1118.5,1469.7 1119.5,1472.4 1119.5,1456.4 1120.5,1467.9 1120.5,1476.8 1121.5,1474.1 1121.5,1480.3 1122.5,1482.1 1122.5,1467.0 1123.5,1469.7 1123.5,1479.4 1124.5,1480.3 1124.5,1468.8 1125.5,1470.6 1125.5,1481.2 1126.5,1476.8 1126.5,1465.3 1127.5,1468.8 1127.5,1482.1 1128.5,1475.0 1128.5,1467.0 1129.5,1467.9 1130.5,1467.0 1130.5,1481.2 1131.5,1476.8 1131.5,1467.9 1132.5,1467.0 1132.5,1475.9 1133.5,1474.1 1133.5,1461.7 1134.5,1459.1 1134.5,1476.8 1135.5,1475.9 1135.5,1471.5 1136.5,1469.7 1136.5,1484.8 1137.5,1477.7 1137.5,1468.8 1138.5,1472.4 1138.5,1475.0 1139.5,1475.0 1139.5,1463.5 1140.5,1463.5 1140.5,1479.4 1141.5,1471.5 1141.5,1470.6 1142.5,1466.2 1142.5,1475.0 1143.5,1474.1 1143.5,1463.5 1144.5,1469.7 1144.5,1477.7 1145.5,1473.2 1145.5,1467.0 1146.5,1467.0 1146.5,1475.0 1147.5,1473.2 1147.5,1461.7 1148.5,1475.0 1148.5,1477.7 1149.5,1474.1 1149.5,1461.7 1150.5,1463.5 1150.5,1467.9 1151.5,1471.5 1151.5,1463.5 1152.5,1471.5 1152.5,1477.7 1153.5,1472.4 1153.5,1462.6 1154.5,1462.6 1154.5,1480.3 1155.5,1474.1 1155.5,1460.0 1156.5,1465.3 1156.5,1475.0 1157.5,1477.7 1157.5,1458.2 1158.5,1464.4 1158.5,1473.2 1159.5,1465.3 1159.5,1460.0 1160.5,1463.5 1160.5,1475.0 1161.5,1469.7 1161.5,1461.7 1162.5,1462.6 1162.5,1465.3 1163.5,1460.8 1163.5,1475.0 1164.5,1466.2 1164.5,1460.8 1165.5,1463.5 1165.5,1478.6 1166.5,1468.8 1166.5,1458.2 1167.5,1460.0 1167.5,1475.9 1168.5,1471.5 1168.5,1458.2 1169.5,1457.3 1169.5,1470.6 1170.5,1456.4 1170.5,1455.5 1171.5,1448.5 1171.5,1463.5 1172.5,1463.5 1172.5,1448.5 1173.5,1446.7 1173.5,1459.1 1174.5,1461.7 1174.5,1447.6 1175.5,1446.0 1175.5,1413.0 1176.5,1417.1 1176.5,1333.7 1177.5,1282.6 1177.5,1126.6 1178.5,1152.1 1178.5,1082.8 1179.5,1211.6 1179.5,1237.2 1180.5,1259.5 1180.5,1290.8 1181.5,1335.4 1181.5,1401.4 1182.5,1423.7 1182.5,1436.1 1183.5,1446.7 1183.5,1464.4 1184.5,1452.9 1184.5,1443.1 1185.5,1449.3 1185.5,1457.3 1186.5,1458.2 1186.5,1450.2 1187.5,1449.3 1187.5,1463.5 1188.5,1467.9 1188.5,1454.7 1189.5,1456.4 1189.5,1473.2 1190.5,1467.9 1190.5,1462.6 1191.5,1459.1 1191.5,1475.9 1192.5,1474.1 1192.5,1465.3 1193.5,1460.8 1193.5,1475.0 1194.5,1468.8 1194.5,1459.1 1195.5,1462.6 1195.5,1471.5 1196.5,1467.9 1196.5,1476.8 1197.5,1471.5 1197.5,1463.5 1198.5,1460.8 1198.5,1478.6 1199.5,1477.7 1199.5,1465.3 1200.5,1467.9 1200.5,1474.1 1201.5,1475.9 1201.5,1463.5 1202.5,1463.5 1202.5,1472.4 1203.5,1471.5 1203.5,1479.4 1204.5,1473.2 1204.5,1461.7 1205.5,1466.2 1205.5,1468.8 1206.5,1472.4 1206.5,1474.1 1207.5,1472.4 1207.5,1477.7 1208.5,1470.6 1208.5,1460.0 1209.5,1467.9 1209.5,1472.4 1210.5,1473.2 1210.5,1465.3 1211.5,1463.5 1211.5,1469.7 1212.5,1471.5 1212.5,1437.9 1213.5,1452.0 1213.5,1470.6 1214.5,1462.6 1214.5,1454.7 1215.5,1448.5 1215.5,1435.7 1216.5,1426.6 1216.5,1453.8 1217.5,1433.4 1217.5,1425.4 1218.5,1432.2 1218.5,1449.3 1219.5,1447.6 1219.5,1452.0 1220.5,1452.0 1220.5,1458.2 1221.5,1457.3 1221.5,1468.8 1222.5,1467.9 1222.5,1463.5 1223.5,1464.4 1223.5,1475.0 1224.5,1473.2 1224.5,1478.6 1225.5,1474.1 1225.5,1466.2 1226.5,1464.4 1226.5,1469.7 1227.5,1467.9 1227.5,1476.8 1228.5,1475.0 1228.5,1466.2 1229.5,1469.7 1229.5,1477.7 1230.5,1475.0 1230.5,1485.6 1231.5,1476.8 1231.5,1466.2 1232.5,1467.0 1232.5,1478.6 1233.5,1476.8 1233.5,1463.5 1234.5,1472.4 1234.5,1473.2 1235.5,1479.4 1235.5,1460.0 1236.5,1474.1 1236.5,1482.1 1237.5,1478.6 1237.5,1468.8 1238.5,1467.0 1238.5,1475.0 1239.5,1482.1 1239.5,1463.5 1240.5,1472.4 1240.5,1479.4 1241.5,1475.9 1241.5,1466.2 1242.5,1469.7 1242.5,1471.5 1243.5,1473.2 1243.5,1464.4 1244.5,1467.9 1244.5,1472.4 1245.5,1472.4 1245.5,1467.9 1246.5,1472.4 1246.5,1473.2 1247.5,1470.6 1247.5,1489.2 1248.5,1480.3 1248.5,1469.7 1249.5,1467.0 1249.5,1481.2 1250.5,1479.4 1250.5,1469.7 1251.5,1472.4 1251.5,1479.4 1252.5,1482.1 1252.5,1468.8 1253.5,1472.4 1253.5,1478.6 1254.5,1477.7 1254.5,1466.2 1255.5,1463.5 1255.5,1483.0 1256.5,1471.5 1256.5,1468.8 1257.5,1470.6 1257.5,1463.5 1258.5,1460.0 1258.5,1480.3 1259.5,1481.2 1259.5,1465.3 1260.5,1470.6 1260.5,1479.4 1261.5,1473.2 1261.5,1463.5 1262.5,1457.3 1262.5,1479.4 1263.5,1476.8 1263.5,1467.0 1264.5,1466.2 1264.5,1484.8 1265.5,1484.8 1265.5,1465.3 1266.5,1467.9 1266.5,1479.4 1267.5,1475.0 1267.5,1485.6 1268.5,1478.6 1268.5,1471.5 1269.5,1471.5 1269.5,1482.1 1270.5,1479.4 1270.5,1463.5 1271.5,1467.0 1271.5,1473.2 1272.5,1471.5 1272.5,1483.0 1273.5,1481.2 1273.5,1462.6 1274.5,1466.2 1274.5,1478.6 1275.5,1473.2 1275.5,1461.7 1276.5,1468.8 1276.5,1478.6 1277.5,1479.4 1277.5,1467.9 1278.5,1474.1 1278.5,1478.6 1279.5,1475.0 1279.5,1466.2 1280.5,1468.8 1280.5,1482.1 1281.5,1481.2 1281.5,1475.0 1282.5,1472.4 1282.5,1483.9 1283.5,1469.7 1283.5,1467.0 1284.5,1467.0 1284.5,1478.6 1285.5,1466.2 1285.5,1465.3 1286.5,1465.3 1286.5,1478.6 1287.5,1473.2 1287.5,1466.2 1288.5,1453.8 1288.5,1485.6 1289.5,1472.4 1289.5,1467.0 1290.5,1464.4 1290.5,1477.7 1291.5,1477.7 1291.5,1473.2 1292.5,1474.1 1292.5,1470.6 1293.5,1462.6 1293.5,1483.0 1294.5,1475.0 1294.5,1461.7 1295.5,1467.0 1295.5,1478.6 1296.5,1473.2 1296.5,1465.3 1297.5,1469.7 1297.5,1485.6 1298.5,1477.7 1298.5,1467.0 1299.5,1472.4 1299.5,1478.6 1300.5,1475.0 1300.5,1468.8 1301.5,1467.0 1301.5,1481.2 1302.5,1478.6 1302.5,1470.6 1303.5,1469.7 1303.5,1483.0 1304.5,1471.5 1304.5,1467.0 1305.5,1463.5 1305.5,1481.2 1306.5,1474.1 1306.5,1461.7 1307.5,1463.5 1307.5,1477.7 1308.5,1479.4 1308.5,1467.0 1309.5,1465.3 1309.5,1471.5 1310.5,1462.6 1310.5,1480.3 1311.5,1481.2 1311.5,1464.4 1312.5,1467.9 1312.5,1472.4 1313.5,1475.9 1313.5,1462.6 1314.5,1469.7 1314.5,1474.1 1315.5,1476.8 1315.5,1468.8 1316.5,1473.2 1316.5,1480.3 1317.5,1477.7 1317.5,1470.6 1318.5,1466.2 1318.5,1479.4 1319.5,1479.4 1319.5,1476.8 1320.5,1475.0 1320.5,1471.5 1321.5,1473.2 1321.5,1465.3 1322.5,1461.7 1322.5,1472.4 1323.5,1470.6 1323.5,1457.3 1324.5,1456.4 1324.5,1462.6 1325.5,1449.3 1325.5,1441.4 1326.5,1444.0 1326.5,1446.7 1327.5,1445.8 1327.5,1452.0 1328.5,1457.3 1328.5,1443.1 1329.5,1448.5 1329.5,1463.5 1330.5,1464.4 1330.5,1449.3 1331.5,1466.2 1331.5,1473.2 1332.5,1479.4 1332.5,1461.7 1333.5,1469.7 1333.5,1478.6 1334.5,1473.2 1334.5,1467.9 1335.5,1467.9 1335.5,1476.8 1336.5,1473.2 1336.5,1466.2 1337.5,1468.8 1337.5,1479.4 1338.5,1479.4 1338.5,1469.7 1339.5,1474.1 1339.5,1475.9 1340.5,1481.2 1340.5,1468.8 1341.5,1467.9 1341.5,1459.1 1342.5,1472.4 1342.5,1480.3 1343.5,1475.0 1343.5,1462.6 1344.5,1464.4 1344.5,1477.7 1345.5,1476.8 1345.5,1462.6 1346.5,1463.5 1346.5,1475.9 1347.5,1472.4 1347.5,1466.2 1348.5,1467.9 1348.5,1475.0 1349.5,1467.0 1349.5,1487.4 1350.5,1478.6 1350.5,1461.7 1351.5,1473.2 1351.5,1477.7 1352.5,1476.8 1352.5,1463.5 1353.5,1467.0 1353.5,1474.1 1354.5,1471.5 1354.5,1465.3 1355.5,1468.8 1355.5,1476.8 1356.5,1481.2 1356.5,1466.2 1357.5,1472.4 1357.5,1475.0 1358.5,1475.0 1358.5,1469.7 1359.5,1463.5 1359.5,1476.8 1360.5,1478.6 1360.5,1460.8 1361.5,1468.8 1361.5,1476.8 1362.5,1482.1 1362.5,1467.0 1363.5,1467.0 1363.5,1481.2 1364.5,1476.8 1364.5,1464.4 1365.5,1463.5 1365.5,1481.2 1366.5,1480.3 1366.5,1463.5 1367.5,1468.8 1367.5,1477.7 1368.5,1481.2 1368.5,1471.5 1369.5,1472.4 1369.5,1462.6 1370.5,1469.7 1370.5,1482.1 1371.5,1480.3 1371.5,1471.5 1372.5,1472.4 1372.5,1467.9 1373.5,1467.0 1373.5,1477.7 1374.5,1472.4 1374.5,1453.8 1375.5,1472.4 1375.5,1476.8 1376.5,1474.1 1376.5,1464.4 1377.5,1464.4 1377.5,1474.1 1378.5,1474.1 1378.5,1475.9 1379.5,1475.0 1379.5,1462.6 1380.5,1464.4 1380.5,1483.0 1381.5,1478.6 1381.5,1467.0 1382.5,1464.4 1382.5,1474.1 1383.5,1478.6 1383.5,1463.5 1384.5,1471.5 1384.5,1483.0 1385.5,1475.0 1385.5,1449.3 1386.5,1466.2 1386.5,1475.9 1387.5,1481.2 1387.5,1464.4 1388.5,1462.6 1388.5,1469.7 1389.5,1467.9 1389.5,1462.6 1390.5,1466.2 1390.5,1452.9 1391.5,1452.9 1391.5,1467.0 1392.5,1467.0 1392.5,1452.0 1393.5,1456.4 1393.5,1466.2 1394.5,1460.8 1394.5,1472.4 1395.5,1470.6 1395.5,1458.2 1396.5,1468.8 1396.5,1473.2 1397.5,1470.6 1397.5,1478.6 1398.5,1468.8 1398.5,1467.9 1399.5,1471.5 1399.5,1474.1 1400.5,1470.6 1400.5,1468.8 1401.5,1467.0 1401.5,1477.7 1402.5,1472.4 1402.5,1467.0 1403.5,1466.2 1403.5,1473.2 1404.5,1472.4 1404.5,1476.8 1405.5,1475.0 1405.5,1457.3 1406.5,1461.7 1406.5,1475.9 1407.5,1470.6 1407.5,1455.5 1408.5,1460.8 1408.5,1473.2 1409.5,1474.1 1409.5,1461.7 1410.5,1460.0 1410.5,1475.9 1411.5,1475.0 1411.5,1467.0 1412.5,1467.9 1412.5,1474.1 1413.5,1476.8 1413.5,1464.4 1414.5,1460.8 1414.5,1472.4 1415.5,1464.4 1415.5,1458.2 1416.5,1465.3 1416.5,1475.9 1417.5,1468.8 1417.5,1462.6 1418.5,1467.9 1418.5,1452.9 1419.5,1451.1 1419.5,1470.6 1420.5,1460.0 1420.5,1437.8 1421.5,1444.0 1421.5,1456.4 1422.5,1460.0 1422.5,1444.9 1423.5,1448.5 1423.5,1467.0 1424.5,1457.3 1424.5,1446.7 1425.5,1457.3 1425.5,1465.3 1426.5,1465.3 1426.5,1449.3 1427.5,1459.1 1427.5,1465.3 1428.5,1465.3 1428.5,1449.3 1429.5,1463.5 1429.5,1469.7 1430.5,1471.5 1430.5,1460.0 1431.5,1459.1 1431.5,1446.7 1432.5,1461.7 1432.5,1477.7 1433.5,1465.3 1433.5,1449.3 1434.5,1452.9 1434.5,1467.9 1435.5,1462.6 1435.5,1452.9 1436.5,1454.7 1436.5,1466.2 1437.5,1460.0 1437.5,1452.0 1438.5,1447.6 1438.5,1463.5 1439.5,1461.7 1439.5,1458.2 1440.5,1459.1 1440.5,1465.3 1441.5,1468.8 1441.5,1457.3 1442.5,1459.1 1442.5,1452.9 1443.5,1460.8 1443.5,1465.3 1444.5,1467.0 1444.5,1450.2 1445.5,1455.5 1445.5,1458.2 1446.5,1455.5 1446.5,1460.8 1447.5,1464.4 1447.5,1455.5 1448.5,1462.6 1448.5,1448.5 1449.5,1449.3 1449.5,1460.8 1450.5,1466.2 1450.5,1453.8 1451.5,1450.2 1451.5,1457.3 1452.5,1463.5 1452.5,1448.5 1453.5,1447.6 1453.5,1458.2 1454.5,1459.1 1454.5,1454.7 1455.5,1454.7 1455.5,1447.6 1456.5,1439.6 1456.5,1457.3 1457.5,1443.1 1457.5,1419.2 1458.5,1410.4 1458.5,1366.1 1459.5,1321.8 1459.5,1220.9 1460.5,1171.3 1460.5,1135.9 1461.5,1197.9 1461.5,1268.7 1462.5,1294.4 1462.5,1321.8 1463.5,1308.6 1463.5,1262.5 1464.5,1327.2 1464.5,1358.1 1465.5,1368.8 1465.5,1421.1 1466.5,1408.9 1466.5,1404.1 1467.5,1405.7 1467.5,1348.9 1468.5,1293.7 1468.5,1225.6 1469.5,1204.5 1469.5,1150.1 1470.5,1179.3 1470.5,1269.4 1471.5,1286.4 1471.5,1306.7 1472.5,1299.4 1472.5,1276.7 1473.5,1294.5 1473.5,1346.4 1474.5,1351.1 1474.5,1419.2 1475.5,1406.8 1475.5,1444.0 1476.5,1444.0 1476.5,1452.9 1477.5,1455.5 1477.5,1436.9 1478.5,1452.0 1478.5,1452.9 1479.5,1448.5 1479.5,1458.2 1480.5,1460.8 1480.5,1451.1 1481.5,1447.6 1481.5,1463.5 1482.5,1458.2 1482.5,1441.4 1483.5,1451.1 1483.5,1464.4 1484.5,1464.4 1484.5,1443.1 1485.5,1452.0 1485.5,1462.6 1486.5,1467.0 1486.5,1456.4 1487.5,1455.5 1487.5,1469.7 1488.5,1467.9 1488.5,1462.6 1489.5,1462.6 1489.5,1470.6 1490.5,1474.1 1490.5,1452.0 1491.5,1458.2 1491.5,1464.4 1492.5,1467.0 1492.5,1452.9 1493.5,1464.4 1493.5,1467.9 1494.5,1477.7 1494.5,1455.5 1495.5,1457.3 1495.5,1473.2 1496.5,1473.2 1496.5,1454.7 1497.5,1451.1 1497.5,1468.8 1498.5,1470.6 1498.5,1453.8 1499.5,1461.7 1499.5,1463.5 1500.5,1457.3 1500.5,1473.2 1501.5,1460.8 1501.5,1458.2 1502.5,1458.2 1502.5,1469.7 1503.5,1475.9 1503.5,1454.7 1504.5,1457.3 1504.5,1473.2 1505.5,1467.0 1505.5,1463.5 1506.5,1464.4 1506.5,1481.2 1507.5,1477.7 1507.5,1465.3 1508.5,1472.4 1508.5,1453.8 1509.5,1455.5 1509.5,1465.3 1510.5,1470.6 1510.5,1478.6 1511.5,1464.4 1511.5,1462.6 1512.5,1461.7 1512.5,1475.0 1513.5,1473.2 1513.5,1467.0 1514.5,1465.3 1514.5,1471.5 1515.5,1472.4 1515.5,1465.3 1516.5,1467.0 1516.5,1480.3 1517.5,1471.5 1517.5,1464.4 1518.5,1471.5 1518.5,1455.5 1519.5,1452.0 1519.5,1472.4 1520.5,1476.8 1520.5,1457.3 1521.5,1462.6 1521.5,1471.5 1522.5,1474.1 1522.5,1461.7 1523.5,1464.4 1523.5,1472.4 1524.5,1475.0 1524.5,1462.6 1525.5,1460.8 1525.5,1471.5 1526.5,1462.6 1526.5,1480.3 1527.5,1471.5 1527.5,1460.8 1528.5,1460.8 1528.5,1468.8 1529.5,1472.4 1529.5,1460.8 1530.5,1463.5 1530.5,1474.1 1531.5,1467.9 1531.5,1453.8 1532.5,1459.1 1532.5,1474.1 1533.5,1466.2 1533.5,1461.7 1534.5,1460.8 1534.5,1462.6 1535.5,1470.6 1535.5,1479.4 1536.5,1476.8 1536.5,1472.4 1537.5,1468.8 1537.5,1454.7 1538.5,1466.2 1538.5,1475.9 1539.5,1478.6 1539.5,1454.7 1540.5,1452.9 1540.5,1471.5 1541.5,1477.7 1541.5,1463.5 1542.5,1465.3 1542.5,1467.9 1543.5,1468.8 1543.5,1461.7 1544.5,1460.0 1544.5,1470.6 1545.5,1467.9 1545.5,1475.9 1546.5,1466.2 1546.5,1456.4 1547.5,1463.5 1547.5,1476.8 1548.5,1474.1 1548.5,1466.2 1549.5,1462.6 1549.5,1460.8 1550.5,1472.4 1550.5,1444.0 1551.5,1447.6 1551.5,1455.5 1552.5,1448.5 1552.5,1440.1 1553.5,1447.6 1553.5,1431.9 1554.5,1435.3 1554.5,1440.5 1555.5,1444.9 1555.5,1426.4 1556.5,1423.7 1556.5,1443.5 1557.5,1441.4 1557.5,1433.9 1558.5,1435.3 1558.5,1446.2 1559.5,1447.6 1559.5,1444.0 1560.5,1441.4 1560.5,1456.4 1561.5,1465.3 1561.5,1439.6 1562.5,1444.0 1562.5,1457.3 1563.5,1452.9 1563.5,1462.6 1564.5,1460.0 1564.5,1471.5 1565.5,1465.3 1565.5,1459.1 1566.5,1459.1 1566.5,1471.5 1567.5,1467.0 1567.5,1475.9 1568.5,1476.8 1568.5,1446.7 1569.5,1462.6 1569.5,1478.6 1570.5,1470.6 1570.5,1463.5 1571.5,1455.5 1571.5,1475.9 1572.5,1471.5 1572.5,1462.6 1573.5,1460.8 1573.5,1471.5 1574.5,1468.8 1574.5,1455.5 1575.5,1465.3 1575.5,1469.7 1576.5,1467.0 1576.5,1454.7 1577.5,1461.7 1577.5,1473.2 1578.5,1465.3 1578.5,1461.7 1579.5,1462.6 1579.5,1475.0 1580.5,1473.2 1580.5,1463.5 1581.5,1454.7 1581.5,1476.8 1582.5,1467.9 1582.5,1462.6 1583.5,1465.3 1583.5,1459.1 1584.5,1459.1 1584.5,1470.6 1585.5,1478.6 1585.5,1457.3 1586.5,1453.8 1586.5,1465.3 1587.5,1457.3 1587.5,1448.5 1588.5,1448.5 1588.5,1438.7 1589.5,1438.7 1589.5,1429.0 1590.5,1420.1 1590.5,1441.4 1591.5,1434.3 1591.5,1425.4 1592.5,1431.6 1592.5,1439.6 1593.5,1437.8 1593.5,1434.3 1594.5,1434.3 1594.5,1449.3 1595.5,1443.1 1595.5,1458.2 1596.5,1458.2 1596.5,1445.8 1597.5,1450.2 1597.5,1466.2 1598.5,1469.7 1598.5,1458.2 1599.5,1454.7 1599.5,1474.1 1600.5,1464.4 1600.5,1455.5 1601.5,1460.8 1601.5,1473.2 1602.5,1476.8 1602.5,1466.2 1603.5,1461.7 1603.5,1473.2 1604.5,1477.7 1604.5,1457.3 1605.5,1460.0 1605.5,1470.6 1606.5,1479.4 1606.5,1460.0 1607.5,1467.9 1607.5,1478.6 1608.5,1469.7 1608.5,1459.1 1609.5,1457.3 1609.5,1469.7 1610.5,1468.8 1610.5,1454.7 1611.5,1457.3 1611.5,1471.5 1612.5,1468.8 1612.5,1453.8 1613.5,1460.0 1613.5,1467.0 1614.5,1468.8 1614.5,1456.4 1615.5,1465.3 1615.5,1470.6 1616.5,1468.8 1616.5,1480.3 1617.5,1475.9 1617.5,1460.8 1618.5,1459.1 1618.5,1466.2 1619.5,1472.4 1619.5,1458.2 1620.5,1470.6 1620.5,1483.9 1621.5,1467.0 1621.5,1455.5 1622.5,1459.1 1622.5,1471.5 1623.5,1472.4 1623.5,1461.7 1624.5,1468.8 1624.5,1474.1 1625.5,1476.8 1625.5,1459.1 1626.5,1466.2 1626.5,1475.0 1627.5,1476.8 1627.5,1466.2 1628.5,1465.3 1628.5,1456.4 1629.5,1466.2 1629.5,1475.0 1630.5,1465.3 1630.5,1460.8 1631.5,1461.7 1631.5,1468.8 1632.5,1467.0 1632.5,1473.2 1633.5,1467.9 1633.5,1458.2 1634.5,1459.1 1634.5,1474.1 1635.5,1475.9 1635.5,1454.7 1636.5,1444.0 1636.5,1468.8 1637.5,1467.0 1637.5,1460.0 1638.5,1465.3 1638.5,1467.9 1639.5,1458.2 1639.5,1477.7 1640.5,1475.0 1640.5,1456.4 1641.5,1467.0 1641.5,1470.6 1642.5,1473.2 1642.5,1460.0 1643.5,1457.3 1643.5,1475.0 1644.5,1468.8 1644.5,1454.7 1645.5,1452.9 1645.5,1471.5 1646.5,1467.9 1646.5,1449.3 1647.5,1454.7 1647.5,1472.4 1648.5,1470.6 1648.5,1462.6 1649.5,1462.6 1649.5,1471.5 1650.5,1467.0 1650.5,1449.3 1651.5,1452.9 1651.5,1467.9 1652.5,1467.0 1652.5,1456.4 1653.5,1466.2 1653.5,1476.8 1654.5,1466.2 1654.5,1455.5 1655.5,1458.2 1655.5,1467.9 1656.5,1472.4 1656.5,1460.0 1657.5,1454.7 1657.5,1469.7 1658.5,1473.2 1658.5,1459.1 1659.5,1456.4 1659.5,1473.2 1660.5,1466.2 1660.5,1452.0 1661.5,1454.7 1661.5,1462.6 1662.5,1469.7 1662.5,1450.2 1663.5,1451.1 1663.5,1458.2 1664.5,1468.8 1664.5,1440.5 1665.5,1460.8 1665.5,1467.9 1666.5,1467.0 1666.5,1452.0 1667.5,1452.0 1667.5,1461.7 1668.5,1469.7 1668.5,1451.1 1669.5,1457.3 1669.5,1466.2 1670.5,1464.4 1670.5,1456.4 1671.5,1454.7 1671.5,1465.3 1672.5,1462.6 1672.5,1451.1 1673.5,1450.2 1673.5,1462.6 1674.5,1461.7 1674.5,1448.5 1675.5,1446.7 1675.5,1459.1 1676.5,1459.1 1676.5,1452.0 1677.5,1447.6 1677.5,1460.0 1678.5,1461.7 1678.5,1449.3 1679.5,1457.3 1679.5,1437.8 1680.5,1441.4 1680.5,1452.0 1681.5,1446.7 1681.5,1439.6 1682.5,1439.6 1682.5,1450.2 1683.5,1443.1 1683.5,1403.5 1684.5,1381.5 1684.5,1304.4 1685.5,1272.2 1685.5,1121.3 1686.5,1111.1 1686.5,1144.2 1687.5,1173.0 1687.5,1348.4 1688.5,1362.8 1688.5,1378.1 1689.5,1347.6 1689.5,1281.5 1690.5,1274.9 1690.5,1263.7 1691.5,1303.3 1691.5,1371.4 1692.5,1400.6 1692.5,1418.4 1693.5,1427.2 1693.5,1445.8 1694.5,1444.9 1694.5,1434.3 1695.5,1444.0 1695.5,1449.3 1696.5,1450.2 1696.5,1456.4 1697.5,1455.5 1697.5,1441.4 1698.5,1444.0 1698.5,1460.0 1699.5,1458.2 1699.5,1452.9 1700.5,1460.0 1701.5,1458.2 1701.5,1452.9 1702.5,1447.6 1702.5,1461.7 1703.5,1462.6 1703.5,1452.0 1704.5,1446.7 1704.5,1463.5 1705.5,1467.0 1705.5,1446.7 1706.5,1455.5 1706.5,1468.8 1707.5,1467.9 1707.5,1459.1 1708.5,1456.4 1708.5,1465.3 1709.5,1458.2 1709.5,1449.3 1710.5,1448.5 1710.5,1462.6 1711.5,1460.0 1711.5,1453.8 1712.5,1453.8 1712.5,1441.4 1713.5,1441.4 1713.5,1444.9 1714.5,1443.1 1714.5,1436.9 1715.5,1441.4 1715.5,1443.2 1716.5,1443.2 1716.5,1429.4 1717.5,1425.8 1717.5,1419.3 1718.5,1413.5 1718.5,1431.6 1719.5,1418.5 1719.5,1411.3 1720.5,1403.3 1720.5,1434.5 1721.5,1417.8 1721.5,1406.9 1722.5,1416.4 1722.5,1424.3 1723.5,1414.8 1723.5,1441.8 1724.5,1432.5 1724.5,1412.2 1725.5,1413.9 1725.5,1423.7 1726.5,1428.1 1726.5,1449.3 1727.5,1450.2 1727.5,1436.1 1728.5,1446.7 1728.5,1456.4 1729.5,1452.9 1729.5,1440.5 1730.5,1439.6 1730.5,1461.7 1731.5,1465.3 1731.5,1446.7 1732.5,1461.7 1732.5,1463.5 1733.5,1462.6 1733.5,1478.6 1734.5,1473.2 1734.5,1455.5 1735.5,1456.4 1735.5,1462.6 1736.5,1469.7 1736.5,1446.7 1737.5,1458.2 1737.5,1468.8 1738.5,1461.7 1738.5,1455.5 1739.5,1459.1 1739.5,1461.7 1740.5,1465.3 1740.5,1473.2 1741.5,1468.8 1741.5,1456.4 1742.5,1454.7 1742.5,1470.6 1743.5,1470.6 1743.5,1460.0 1744.5,1452.9 1744.5,1470.6 1745.5,1463.5 1745.5,1461.7 1746.5,1460.0 1746.5,1468.8 1747.5,1470.6 1747.5,1458.2 1748.5,1450.2 1748.5,1473.2 1749.5,1468.8 1749.5,1449.3 1750.5,1460.8 1750.5,1471.5 1751.5,1468.8 1751.5,1459.1 1752.5,1450.2 1752.5,1476.8 1753.5,1463.5 1753.5,1459.1 1754.5,1453.8 1754.5,1468.8 1755.5,1469.7 1755.5,1461.7 1756.5,1460.0 1756.5,1467.9 1757.5,1461.7 1757.5,1452.0 1758.5,1455.5 1758.5,1462.6 1759.5,1462.6 1759.5,1453.8 1760.5,1455.5 1760.5,1472.4 1761.5,1462.6 1761.5,1451.1 1762.5,1458.2 1762.5,1463.5 1763.5,1461.7 1763.5,1452.9 1764.5,1453.8 1764.5,1464.4 1765.5,1461.7 1765.5,1440.5 1766.5,1452.0 1766.5,1457.3 1767.5,1454.7 1767.5,1446.7 1768.5,1457.3 1768.5,1461.7 1769.5,1449.3 1769.5,1433.4 1770.5,1444.0 1770.5,1452.9 1771.5,1447.6 1771.5,1463.5 1772.5,1444.9 1772.5,1437.8 1773.5,1438.5 1773.5,1444.0 1774.5,1445.8 1774.5,1421.1 1775.5,1426.6 1775.5,1350.4 1776.5,1333.0 1776.5,1275.1 1777.5,1280.6 1777.5,1245.7 1778.5,1311.6 1778.5,1367.1 1779.5,1381.4 1779.5,1406.0 1780.5,1396.5 1780.5,1382.2 1781.5,1388.5 1781.5,1348.4 1782.5,1359.9 1782.5,1323.6 1783.5,1382.1 1783.5,1412.2 1784.5,1418.4 1784.5,1449.3 1785.5,1452.0 1785.5,1431.6 1786.5,1442.3 1786.5,1460.8 1787.5,1463.5 1787.5,1442.3 1788.5,1453.8 1788.5,1460.0 1789.5,1460.0 1789.5,1447.6 1790.5,1447.6 1790.5,1460.8 1791.5,1463.5 1791.5,1455.5 1792.5,1457.3 1792.5,1462.6 1793.5,1461.7 1793.5,1456.4 1794.5,1460.0 1794.5,1464.4 1795.5,1467.0 1795.5,1445.8 1796.5,1450.2 1796.5,1468.8 1797.5,1464.4 1797.5,1452.0 1798.5,1447.6 1798.5,1467.0 1799.5,1470.6 1799.5,1458.2 1800.5,1457.3 1800.5,1461.7 1801.5,1460.8 1801.5,1459.1 1802.5,1465.3 1802.5,1452.0 1803.5,1453.8 1803.5,1469.7 1804.5,1460.0 1804.5,1456.4 1805.5,1452.0 1805.5,1465.3 1806.5,1467.9 1806.5,1455.5 1807.5,1452.0 1807.5,1472.4 1808.5,1475.9 1808.5,1455.5 1809.5,1454.7 1809.5,1460.8 1810.5,1467.9 1810.5,1446.7 1811.5,1456.4 1811.5,1466.2 1812.5,1467.9 1812.5,1457.3 1813.5,1460.0 1813.5,1475.0 1814.5,1465.3 1814.5,1451.1 1815.5,1456.4 1815.5,1460.0 1816.5,1456.4 1816.5,1465.3 1817.5,1469.7 1817.5,1457.3 1818.5,1452.0 1818.5,1467.0 1819.5,1469.7 1819.5,1455.5 1820.5,1463.5 1820.5,1471.5 1821.5,1470.6 1821.5,1460.0 1822.5,1460.8 1822.5,1465.3 1823.5,1463.5 1823.5,1470.6 1824.5,1470.6 1824.5,1465.3 1825.5,1462.6 1825.5,1476.8 1826.5,1470.6 1826.5,1461.7 1827.5,1462.6 1827.5,1460.0 1828.5,1463.5 1828.5,1480.3 1829.5,1478.6 1829.5,1452.9 1830.5,1462.6 1830.5,1479.4 1831.5,1474.1 1831.5,1461.7 1832.5,1460.8 1832.5,1465.3 1833.5,1467.0 1833.5,1472.4 1834.5,1467.0 1834.5,1464.4 1835.5,1468.8 1835.5,1456.4 1836.5,1460.0 1836.5,1463.5 1837.5,1464.4 1837.5,1431.6 1838.5,1447.6 1838.5,1460.0 1839.5,1452.0 1839.5,1435.2 1840.5,1443.1 1840.5,1422.8 1841.5,1434.3 1841.5,1454.7 1842.5,1442.3 1842.5,1436.1 1843.5,1431.6 1843.5,1459.1 1844.5,1443.1 1844.5,1504.2 1845.5,1504.2 1845.5,1506.0 1846.5,1506.0 1846.5,1504.2 1847.5,1505.1 1847.5,1506.0 1848.5,1506.0 1848.5,1504.2 1849.5,1504.2 1849.5,1506.0 1850.5,1505.1 1850.5,1504.2 1851.5,1504.2 1851.5,1506.0 1852.5,1506.0 1852.5,1504.2 1853.5,1504.2 1853.5,1506.0 1854.5,1505.1 1855.5,1505.1 1855.5,1504.2 1856.5,1504.2 1856.5,1506.0 1857.5,1505.1 1858.5,1505.1 1858.5,1504.2 1859.5,1504.2 1859.5,1506.0 1860.5,1506.0 1860.5,1505.1 1861.5,1504.2 1861.5,1506.0 1862.5,1505.1 1862.5,1504.2 1863.5,1504.2 1863.5,1506.0 1864.5,1506.0 1864.5,1504.2 1865.5,1504.2 1865.5,1506.0 1866.5,1506.0 1866.5,1504.2 1867.5,1504.2 1867.5,1506.0 1868.5,1506.0 1868.5,1505.1 1869.5,1505.1 1869.5,1504.2"/>
<polyline stroke="#0000ff" points="516.5,1504.2 516.5,1505.1 517.5,1505.1 517.5,1504.2 518.5,1504.2 518.5,1506.0 519.5,1506.0 519.5,1504.2 520.5,1504.2 520.5,1506.0 521.5,1504.2 522.5,1504.2 522.5,1506.0 523.5,1506.0 523.5,1504.2 524.5,1505.1 524.5,1506.0 525.5,1506.0 525.5,1504.2 526.5,1504.2 526.5,1505.1 527.5,1504.2 527.5,1506.0 528.5,1505.1 528.5,1504.2 529.5,1504.2 529.5,1506.0 530.5,1506.0 530.5,1504.2 531.5,1496.0 531.5,1461.5 532.5,1443.1 532.5,1437.3 533.5,1435.7 533.5,1444.1 534.5,1444.2 534.5,1429.7 535.5,1441.2 535.5,1451.8 536.5,1453.1 536.5,1436.3 537.5,1435.1 537.5,1460.2 538.5,1441.7 538.5,1424.4 539.5,1433.5 539.5,1449.9 540.5,1443.3 540.5,1436.4 541.5,1438.6 541.5,1447.8 542.5,1437.8 542.5,1434.3 543.5,1438.2 543.5,1456.3 544.5,1444.6 544.5,1428.6 545.5,1434.7 545.5,1453.5 546.5,1448.9 546.5,1433.0 547.5,1443.4 547.5,1449.8 548.5,1449.4 548.5,1454.4 549.5,1444.0 549.5,1437.1 550.5,1434.1 550.5,1448.6 551.5,1456.1 551.5,1440.1 552.5,1443.1 552.5,1431.0 553.5,1435.6 553.5,1449.9 554.5,1447.6 554.5,1440.1 555.5,1441.9 555.5,1456.8 556.5,1457.7 556.5,1447.9 557.5,1447.3 557.5,1435.7 558.5,1433.2 558.5,1452.8 559.5,1455.6 559.5,1439.9 560.5,1436.2 560.5,1449.4 561.5,1451.7 561.5,1446.5 562.5,1444.2 562.5,1456.5 563.5,1446.3 563.5,1438.5 564.5,1439.4 564.5,1455.5 565.5,1454.5 565.5,1441.1 566.5,1444.1 566.5,1453.9 567.5,1453.8 567.5,1441.5 568.5,1452.8 568.5,1429.2 569.5,1438.5 569.5,1453.4 570.5,1456.0 570.5,1444.0 571.5,1450.9 571.5,1436.1 572.5,1438.8 572.5,1445.5 573.5,1445.3 573.5,1449.3 574.5,1454.5 574.5,1441.0 575.5,1441.2 575.5,1445.1 576.5,1447.3 576.5,1435.1 577.5,1447.5 577.5,1452.2 578.5,1453.6 578.5,1437.3 579.5,1423.9 579.5,1455.8 580.5,1460.1 580.5,1437.4 581.5,1447.1 581.5,1457.3 582.5,1447.8 582.5,1441.3 583.5,1436.3 583.5,1449.0 584.5,1448.0 584.5,1470.8 585.5,1456.1 585.5,1435.0 586.5,1436.0 586.5,1455.2 587.5,1450.7 587.5,1443.0 588.5,1446.9 588.5,1436.9 589.5,1454.0 589.5,1457.6 590.5,1465.3 590.5,1440.2 591.5,1434.9 591.5,1456.3 592.5,1456.3 592.5,1435.0 593.5,1447.9 593.5,1462.9 594.5,1471.1 594.5,1447.4 595.5,1452.3 595.5,1438.2 596.5,1440.3 596.5,1448.1 597.5,1441.5 597.5,1456.3 598.5,1453.3 598.5,1444.8 599.5,1450.5 599.5,1458.7 600.5,1456.1 600.5,1442.9 601.5,1433.8 601.5,1457.6 602.5,1443.3 602.5,1440.4 603.5,1442.2 603.5,1459.2 604.5,1460.7 604.5,1446.5 605.5,1444.8 605.5,1462.8 606.5,1462.6 606.5,1438.7 607.5,1451.8 607.5,1462.7 608.5,1454.4 608.5,1442.9 609.5,1450.6 609.5,1459.8 610.5,1459.7 610.5,1449.6 611.5,1450.9 611.5,1444.7 612.5,1451.5 612.5,1457.5 613.5,1460.9 613.5,1436.0 614.5,1452.2 614.5,1457.1 615.5,1449.3 615.5,1443.1 616.5,1449.2 616.5,1469.2 617.5,1460.0 617.5,1451.3 618.5,1450.8 618.5,1467.4 619.5,1457.6 619.5,1436.6 620.5,1435.1 620.5,1451.5 621.5,1440.2 621.5,1467.2 622.5,1457.6 622.5,1445.9 623.5,1447.5 623.5,1459.1 624.5,1452.5 624.5,1469.8 625.5,1469.9 625.5,1458.1 626.5,1458.4 626.5,1448.3 627.5,1451.0 627.5,1457.8 628.5,1451.0 628.5,1467.6 629.5,1455.3 629.5,1445.1 630.5,1452.6 630.5,1465.8 631.5,1458.7 631.5,1444.2 632.5,1443.8 632.5,1462.3 633.5,1453.3 633.5,1441.8 634.5,1448.8 634.5,1462.5 635.5,1457.3 635.5,1471.0 636.5,1459.5 636.5,1445.7 637.5,1446.6 637.5,1457.8 638.5,1462.2 638.5,1440.1 639.5,1450.3 639.5,1453.0 640.5,1452.2 640.5,1463.2 641.5,1474.1 641.5,1449.7 642.5,1442.7 642.5,1459.4 643.5,1457.0 643.5,1443.8 644.5,1449.3 644.5,1457.1 645.5,1458.4 645.5,1459.1 646.5,1462.3 646.5,1436.3 647.5,1456.3 647.5,1466.4 648.5,1470.3 648.5,1447.4 649.5,1447.7 649.5,1450.9 650.5,1448.0 650.5,1465.2 651.5,1468.4 651.5,1449.5 652.5,1454.0 652.5,1461.7 653.5,1458.2 653.5,1451.9 654.5,1458.6 654.5,1443.4 655.5,1454.5 655.5,1458.4 656.5,1460.1 656.5,1469.4 657.5,1464.4 657.5,1454.0 658.5,1455.2 658.5,1469.8 659.5,1453.2 659.5,1438.9 660.5,1449.4 660.5,1461.8 661.5,1463.0 661.5,1453.3 662.5,1463.6 662.5,1441.6 663.5,1449.2 663.5,1464.4 664.5,1467.2 664.5,1447.5 665.5,1453.8 665.5,1463.5 666.5,1456.1 666.5,1482.1 667.5,1457.7 667.5,1452.1 668.5,1439.0 668.5,1468.6 669.5,1463.3 669.5,1454.3 670.5,1447.8 670.5,1460.9 671.5,1459.2 671.5,1455.4 672.5,1460.0 672.5,1449.6 673.5,1449.0 673.5,1462.5 674.5,1460.0 674.5,1454.2 675.5,1454.5 675.5,1471.7 676.5,1468.0 676.5,1452.9 677.5,1454.5 677.5,1467.7 678.5,1455.7 678.5,1451.4 679.5,1450.5 679.5,1461.3 680.5,1463.4 680.5,1457.1 681.5,1458.7 681.5,1466.9 682.5,1464.4 682.5,1457.0 683.5,1463.4 683.5,1444.6 684.5,1462.3 684.5,1467.2 685.5,1462.8 685.5,1450.4 686.5,1455.8 686.5,1468.1 687.5,1464.7 687.5,1454.3 688.5,1459.5 688.5,1468.5 689.5,1465.0 689.5,1454.2 690.5,1453.9 690.5,1468.8 691.5,1465.3 691.5,1456.2 692.5,1448.9 692.5,1469.3 693.5,1467.4 693.5,1445.3 694.5,1459.8 694.5,1462.3 695.5,1467.5 695.5,1474.2 696.5,1474.3 696.5,1456.9 697.5,1454.2 697.5,1465.0 698.5,1466.9 698.5,1457.1 699.5,1455.1 699.5,1470.5 700.5,1464.2 700.5,1453.5 701.5,1464.0 701.5,1469.4 702.5,1467.0 702.5,1460.0 703.5,1456.4 703.5,1475.9 704.5,1464.6 704.5,1450.8 705.5,1447.0 705.5,1466.5 706.5,1471.5 706.5,1456.2 707.5,1452.1 707.5,1468.2 708.5,1464.8 708.5,1446.3 709.5,1456.7 709.5,1464.6 710.5,1468.9 710.5,1446.0 711.5,1444.5 711.5,1473.7 712.5,1467.6 712.5,1455.7 713.5,1456.3 713.5,1471.7 714.5,1464.6 714.5,1459.2 715.5,1459.7 715.5,1463.8 716.5,1455.1 716.5,1472.7 717.5,1471.2 717.5,1457.8 718.5,1459.5 718.5,1472.3 719.5,1461.4 719.5,1456.6 720.5,1458.6 720.5,1465.7 721.5,1470.3 721.5,1460.6 722.5,1456.1 722.5,1467.3 723.5,1469.1 723.5,1461.3 724.5,1456.8 724.5,1473.0 725.5,1463.9 725.5,1458.2 726.5,1453.4 726.5,1470.6 727.5,1462.9 727.5,1458.9 728.5,1466.3 728.5,1449.0 729.5,1464.8 729.5,1475.7 730.5,1466.2 730.5,1449.3 731.5,1458.3 731.5,1468.4 732.5,1469.0 732.5,1457.5 733.5,1467.0 733.5,1472.0 734.5,1462.7 734.5,1452.6 735.5,1454.2 735.5,1468.2 736.5,1466.6 736.5,1460.0 737.5,1470.5 737.5,1474.8 738.5,1473.9 738.5,1454.8 739.5,1464.4 739.5,1470.3 740.5,1475.1 740.5,1457.6 741.5,1460.4 741.5,1477.1 742.5,1466.0 742.5,1450.2 743.5,1451.8 743.5,1473.4 744.5,1465.9 744.5,1462.5 745.5,1471.1 745.5,1444.9 746.5,1455.7 746.5,1468.4 747.5,1463.1 747.5,1477.4 748.5,1470.6 748.5,1455.5 749.5,1463.5 749.5,1475.6 750.5,1474.2 750.5,1456.2 751.5,1458.1 751.5,1464.7 752.5,1457.7 752.5,1478.4 753.5,1464.4 753.5,1460.1 754.5,1464.6 754.5,1474.0 755.5,1470.6 755.5,1461.9 756.5,1459.1 756.5,1469.1 757.5,1458.1 757.5,1480.7 758.5,1469.1 758.5,1458.2 759.5,1465.1 759.5,1475.8 760.5,1471.1 760.5,1459.3 761.5,1458.4 761.5,1471.8 762.5,1464.0 762.5,1459.6 763.5,1459.5 763.5,1463.8 764.5,1469.8 764.5,1456.8 765.5,1462.6 765.5,1469.6 766.5,1472.8 766.5,1464.6 767.5,1459.6 767.5,1476.0 768.5,1471.7 768.5,1463.0 769.5,1459.6 769.5,1471.7 770.5,1461.7 770.5,1459.0 771.5,1456.6 771.5,1473.9 772.5,1473.9 772.5,1469.1 773.5,1471.9 773.5,1466.2 774.5,1464.9 774.5,1469.5 775.5,1465.8 775.5,1476.3 776.5,1472.3 776.5,1466.5 777.5,1462.9 777.5,1472.2 778.5,1479.4 778.5,1463.5 779.5,1463.3 779.5,1479.9 780.5,1472.7 780.5,1463.0 781.5,1460.0 781.5,1468.0 782.5,1479.1 782.5,1453.1 783.5,1463.7 783.5,1470.2 784.5,1474.4 784.5,1458.7 785.5,1465.0 785.5,1474.1 786.5,1469.7 786.5,1460.9 787.5,1465.8 787.5,1481.7 788.5,1468.8 788.5,1458.8 789.5,1461.7 789.5,1478.7 790.5,1469.4 790.5,1459.5 791.5,1459.8 791.5,1477.5 792.5,1466.5 792.5,1458.8 793.5,1467.7 793.5,1474.5 794.5,1471.2 794.5,1460.9 795.5,1457.4 795.5,1476.9 796.5,1474.8 796.5,1465.4 797.5,1460.2 797.5,1471.3 798.5,1471.5 798.5,1465.6 799.5,1459.2 799.5,1455.6 800.5,1463.5 800.5,1472.1 801.5,1473.9 801.5,1467.9 802.5,1471.3 802.5,1459.0 803.5,1462.1 803.5,1471.5 804.5,1476.2 804.5,1458.7 805.5,1464.8 805.5,1468.4 806.5,1471.2 806.5,1457.9 807.5,1470.1 807.5,1471.9 808.5,1470.8 808.5,1476.8 809.5,1473.9 809.5,1463.0 810.5,1465.5 810.5,1470.0 811.5,1465.2 811.5,1476.1 812.5,1480.1 812.5,1465.3 813.5,1465.3 813.5,1477.7 814.5,1475.8 814.5,1461.4 815.5,1465.0 815.5,1474.5 816.5,1478.5 816.5,1465.9 817.5,1473.6 817.5,1475.4 818.5,1477.5 818.5,1467.0 819.5,1466.0 819.5,1473.2 820.5,1471.2 820.5,1465.1 821.5,1464.3 821.5,1473.0 822.5,1481.8 822.5,1462.3 823.5,1464.6 823.5,1473.7 824.5,1469.1 824.5,1454.4 825.5,1470.4 825.5,1472.8 826.5,1473.2 826.5,1462.9 827.5,1471.1 827.5,1481.3 828.5,1480.7 828.5,1466.8 829.5,1464.5 829.5,1479.2 830.5,1476.4 830.5,1460.2 831.5,1463.5 831.5,1470.9 832.5,1473.3 832.5,1466.5 833.5,1466.4 833.5,1474.2 834.5,1477.0 834.5,1478.8 835.5,1478.3 835.5,1465.8 836.5,1470.1 836.5,1455.4 837.5,1464.1 837.5,1475.6 838.5,1480.5 838.5,1466.6 839.5,1471.8 839.5,1483.8 840.5,1483.3 840.5,1458.9 841.5,1463.9 841.5,1484.6 842.5,1482.2 842.5,1464.1 843.5,1458.9 843.5,1476.6 844.5,1478.2 844.5,1469.9 845.5,1464.2 845.5,1480.9 846.5,1479.4 846.5,1459.4 847.5,1464.8 847.5,1471.7 848.5,1467.1 848.5,1480.4 849.5,1472.6 849.5,1462.6 850.5,1467.0 850.5,1471.7 851.5,1467.9 851.5,1476.3 852.5,1473.9 852.5,1461.8 853.5,1462.9 853.5,1476.1 854.5,1475.0 854.5,1463.2 855.5,1462.5 855.5,1472.6 856.5,1468.1 856.5,1458.9 857.5,1464.0 857.5,1470.0 858.5,1461.2 858.5,1449.4 859.5,1447.6 859.5,1459.2 860.5,1434.5 860.5,1401.5 861.5,1367.6 861.5,951.2 862.5,809.8 862.5,342.2 863.5,211.4 863.5,48.7 864.5,329.1 864.5,626.0 865.5,804.9 865.5,1209.7 866.5,1309.8 866.5,1408.9 867.5,1431.6 867.5,1457.8 868.5,1459.6 868.5,1448.7 869.5,1461.7 869.5,1464.2 870.5,1472.0 870.5,1452.7 871.5,1465.6 871.5,1475.1 872.5,1477.8 872.5,1463.1 873.5,1462.7 873.5,1477.0 874.5,1476.9 874.5,1472.5 875.5,1472.7 875.5,1476.5 876.5,1475.4 876.5,1464.8 877.5,1462.9 877.5,1481.6 878.5,1477.2 878.5,1469.8 879.5,1462.2 879.5,1477.8 880.5,1479.4 880.5,1467.3 881.5,1463.3 881.5,1474.2 882.5,1481.9 882.5,1461.8 883.5,1466.2 883.5,1490.3 884.5,1477.8 884.5,1463.7 885.5,1463.3 885.5,1476.4 886.5,1474.0 886.5,1465.1 887.5,1465.7 887.5,1473.1 888.5,1479.0 888.5,1460.9 889.5,1468.4 889.5,1474.6 890.5,1474.2 890.5,1466.6 891.5,1472.3 891.5,1475.9 892.5,1473.4 892.5,1484.2 893.5,1485.9 893.5,1466.7 894.5,1465.6 894.5,1477.6 895.5,1478.9 895.5,1465.3 896.5,1466.1 896.5,1477.8 897.5,1479.0 897.5,1466.3 898.5,1471.4 898.5,1476.7 899.5,1477.2 899.5,1468.0 900.5,1459.3 900.5,1480.6 901.5,1472.6 901.5,1461.0 902.5,1469.4 902.5,1476.2 903.5,1471.3 903.5,1464.1 904.5,1456.1 904.5,1476.8 905.5,1464.1 905.5,1456.6 906.5,1473.5 906.5,1433.6 907.5,1407.7 907.5,1330.1 908.5,1242.0 908.5,947.8 909.5,735.5 909.5,395.8 910.5,400.8 910.5,573.3 911.5,684.1 911.5,1028.7 912.5,1148.1 912.5,1310.4 913.5,1369.9 913.5,1452.0 914.5,1454.7 914.5,1468.9 915.5,1463.9 915.5,1460.5 916.5,1470.5 916.5,1474.0 917.5,1475.9 917.5,1460.1 918.5,1459.3 918.5,1470.3 919.5,1477.1 919.5,1462.7 920.5,1464.3 920.5,1483.4 921.5,1478.0 921.5,1471.0 922.5,1475.9 922.5,1490.3 923.5,1481.7 923.5,1466.3 924.5,1467.1 924.5,1476.5 925.5,1465.4 925.5,1487.6 926.5,1477.0 926.5,1468.8 927.5,1467.5 927.5,1483.3 928.5,1473.9 928.5,1456.9 929.5,1463.9 929.5,1423.0 930.5,1427.4 930.5,1411.6 931.5,1409.2 931.5,1398.9 932.5,1403.3 932.5,1416.5 933.5,1424.9 933.5,1463.6 934.5,1452.3 934.5,1427.4 935.5,1460.4 935.5,1469.4 936.5,1463.9 936.5,1459.8 937.5,1460.2 937.5,1477.9 938.5,1479.4 938.5,1461.6 939.5,1470.6 939.5,1490.7 940.5,1478.1 940.5,1467.3 941.5,1469.5 941.5,1485.3 942.5,1470.6 942.5,1466.0 943.5,1468.6 943.5,1484.5 944.5,1482.7 944.5,1465.2 945.5,1460.2 945.5,1483.5 946.5,1484.2 946.5,1475.8 947.5,1476.8 947.5,1479.4 948.5,1471.6 948.5,1487.3 949.5,1484.3 949.5,1490.6 950.5,1485.6 950.5,1470.8 951.5,1467.8 951.5,1474.5 952.5,1472.8 952.5,1480.1 953.5,1476.6 953.5,1469.8 954.5,1470.0 954.5,1477.3 955.5,1479.4 955.5,1474.4 956.5,1479.3 956.5,1487.4 957.5,1478.7 957.5,1464.2 958.5,1467.0 958.5,1484.9 959.5,1481.5 959.5,1463.2 960.5,1475.2 960.5,1484.2 961.5,1479.4 961.5,1471.3 962.5,1464.1 962.5,1482.4 963.5,1472.4 963.5,1465.6 964.5,1469.3 964.5,1481.9 965.5,1478.6 965.5,1470.5 966.5,1470.4 966.5,1476.5 967.5,1479.0 967.5,1465.8 968.5,1468.6 968.5,1483.3 969.5,1474.6 969.5,1466.8 970.5,1468.4 970.5,1473.4 971.5,1476.4 971.5,1460.1 972.5,1461.6 972.5,1470.7 973.5,1467.5 973.5,1481.1 974.5,1477.1 974.5,1462.6 975.5,1462.1 975.5,1471.8 976.5,1467.6 976.5,1461.0 977.5,1450.3 977.5,1438.0 978.5,1428.1 978.5,1452.9 979.5,1441.3 979.5,1421.3 980.5,1417.4 980.5,1401.9 981.5,1384.3 981.5,1281.9 982.5,1095.5 982.5,0.9 983.5,0.9 984.5,0.9 985.5,0.9 985.5,152.0 986.5,927.5 986.5,1327.4 987.5,1354.4 987.5,1403.4 988.5,1395.1 988.5,1440.9 989.5,1431.5 989.5,1403.1 990.5,1427.1 990.5,1448.5 991.5,1451.8 991.5,1427.7 992.5,1440.4 992.5,1463.6 993.5,1456.2 993.5,1437.8 994.5,1443.0 994.5,1462.4 995.5,1458.5 995.5,1439.8 996.5,1454.4 996.5,1462.3 997.5,1464.0 997.5,1451.4 998.5,1447.1 998.5,1461.4 999.5,1456.5 999.5,1471.3 1000.5,1473.7 1000.5,1459.4 1001.5,1462.6 1001.5,1472.7 1002.5,1471.3 1002.5,1468.9 1003.5,1466.3 1003.5,1478.5 1004.5,1476.7 1004.5,1471.0 1005.5,1470.1 1005.5,1488.5 1006.5,1483.0 1006.5,1473.2 1007.5,1473.0 1007.5,1483.2 1008.5,1482.0 1008.5,1473.2 1009.5,1473.8 1009.5,1480.8 1010.5,1478.4 1010.5,1473.4 1011.5,1474.1 1011.5,1483.8 1012.5,1486.8 1012.5,1477.4 1013.5,1470.6 1013.5,1484.6 1014.5,1480.1 1014.5,1473.6 1015.5,1477.2 1015.5,1493.6 1016.5,1481.8 1016.5,1468.3 1017.5,1468.1 1017.5,1482.1 1018.5,1487.4 1018.5,1473.6 1019.5,1479.3 1019.5,1483.5 1020.5,1486.7 1020.5,1475.5 1021.5,1473.6 1021.5,1486.9 1022.5,1481.5 1022.5,1473.3 1023.5,1478.2 1023.5,1483.4 1024.5,1486.6 1024.5,1478.2 1025.5,1470.0 1025.5,1487.4 1026.5,1487.7 1026.5,1476.0 1027.5,1472.0 1027.5,1481.5 1028.5,1481.6 1028.5,1477.2 1029.5,1479.2 1029.5,1492.5 1030.5,1493.6 1030.5,1469.5 1031.5,1465.9 1031.5,1486.9 1032.5,1481.2 1032.5,1496.9 1033.5,1488.5 1033.5,1485.3 1034.5,1481.3 1034.5,1476.3 1035.5,1475.7 1035.5,1470.5 1036.5,1474.7 1036.5,1481.6 1037.5,1486.7 1037.5,1475.5 1038.5,1480.7 1038.5,1489.2 1039.5,1482.6 1039.5,1478.7 1040.5,1478.2 1040.5,1484.2 1041.5,1486.9 1041.5,1472.1 1042.5,1476.9 1042.5,1483.7 1043.5,1480.1 1043.5,1487.6 1044.5,1484.6 1044.5,1475.0 1045.5,1478.5 1045.5,1481.8 1046.5,1476.1 1046.5,1493.0 1047.5,1488.6 1047.5,1480.6 1048.5,1483.1 1048.5,1475.4 1049.5,1478.1 1049.5,1486.2 1050.5,1492.4 1050.5,1474.5 1051.5,1473.7 1051.5,1492.4 1052.5,1488.4 1052.5,1471.5 1053.5,1473.4 1053.5,1482.9 1054.5,1480.9 1054.5,1485.3 1055.5,1480.2 1055.5,1463.9 1056.5,1475.2 1056.5,1485.7 1057.5,1487.7 1057.5,1478.4 1058.5,1483.5 1058.5,1490.7 1059.5,1479.9 1059.5,1471.7 1060.5,1479.7 1060.5,1488.9 1061.5,1491.3 1061.5,1477.2 1062.5,1482.4 1062.5,1486.8 1063.5,1487.9 1063.5,1476.5 1064.5,1476.6 1064.5,1482.7 1065.5,1490.6 1065.5,1473.2 1066.5,1478.8 1066.5,1491.7 1067.5,1480.0 1067.5,1467.3 1068.5,1478.9 1068.5,1483.4 1069.5,1481.6 1069.5,1474.5 1070.5,1478.6 1070.5,1486.0 1071.5,1483.0 1071.5,1490.9 1072.5,1484.5 1072.5,1477.0 1073.5,1477.7 1073.5,1485.8 1074.5,1488.9 1074.5,1479.5 1075.5,1478.9 1075.5,1484.1 1076.5,1487.6 1076.5,1476.7 1077.5,1481.0 1077.5,1488.5 1078.5,1489.5 1078.5,1473.9 1079.5,1479.5 1079.5,1486.3 1080.5,1481.9 1080.5,1474.8 1081.5,1480.4 1081.5,1488.1 1082.5,1486.2 1082.5,1481.8 1083.5,1483.3 1083.5,1489.6 1084.5,1485.5 1084.5,1479.6 1085.5,1478.4 1085.5,1490.7 1086.5,1486.7 1086.5,1480.1 1087.5,1480.3 1087.5,1491.4 1088.5,1494.4 1088.5,1476.0 1089.5,1484.9 1089.5,1493.6 1090.5,1489.2 1090.5,1481.0 1091.5,1483.9 1091.5,1491.2 1092.5,1490.0 1092.5,1476.7 1093.5,1471.5 1093.5,1490.1 1094.5,1488.1 1094.5,1479.3 1095.5,1474.4 1095.5,1489.5 1096.5,1488.2 1096.5,1482.2 1097.5,1487.8 1097.5,1493.2 1098.5,1490.4 1098.5,1470.5 1099.5,1479.0 1099.5,1492.2 1100.5,1493.1 1100.5,1479.9 1101.5,1485.1 1101.5,1492.0 1102.5,1488.2 1102.5,1472.1 1103.5,1476.7 1103.5,1492.2 1104.5,1488.3 1104.5,1476.9 1105.5,1477.6 1105.5,1490.6 1106.5,1487.6 1106.5,1481.8 1107.5,1487.4 1107.5,1474.8 1108.5,1478.8 1108.5,1489.4 1109.5,1491.4 1109.5,1473.0 1110.5,1484.2 1110.5,1490.4 1111.5,1485.5 1111.5,1482.3 1112.5,1483.4 1112.5,1494.7 1113.5,1495.1 1113.5,1486.8 1114.5,1480.8 1114.5,1494.8 1115.5,1483.6 1115.5,1479.4 1116.5,1485.3 1116.5,1491.5 1117.5,1484.9 1117.5,1476.8 1118.5,1481.0 1118.5,1494.9 1119.5,1483.9 1119.5,1482.1 1120.5,1475.9 1120.5,1490.4 1121.5,1482.4 1121.5,1471.4 1122.5,1482.7 1122.5,1489.3 1123.5,1486.9 1123.5,1479.9 1124.5,1483.0 1124.5,1492.4 1125.5,1490.2 1125.5,1485.9 1126.5,1486.8 1126.5,1493.8 1127.5,1495.3 1127.5,1482.8 1128.5,1483.7 1128.5,1488.2 1129.5,1490.5 1129.5,1484.1 1130.5,1481.2 1130.5,1491.4 1131.5,1489.6 1131.5,1479.2 1132.5,1481.7 1132.5,1491.3 1133.5,1491.3 1133.5,1480.8 1134.5,1475.8 1134.5,1486.9 1135.5,1487.1 1135.5,1482.8 1136.5,1482.2 1136.5,1486.5 1137.5,1493.5 1137.5,1477.1 1138.5,1487.9 1138.5,1492.3 1139.5,1491.4 1139.5,1473.7 1140.5,1488.8 1140.5,1491.0 1141.5,1491.6 1141.5,1475.7 1142.5,1480.3 1142.5,1481.4 1143.5,1477.3 1143.5,1490.0 1144.5,1485.3 1144.5,1474.4 1145.5,1478.5 1145.5,1491.0 1146.5,1491.2 1146.5,1483.8 1147.5,1485.5 1147.5,1479.2 1148.5,1481.1 1148.5,1486.1 1149.5,1493.3 1149.5,1476.5 1150.5,1477.9 1150.5,1484.0 1151.5,1478.4 1151.5,1491.3 1152.5,1489.7 1152.5,1483.8 1153.5,1481.8 1153.5,1495.8 1154.5,1484.0 1154.5,1480.0 1155.5,1480.8 1155.5,1491.6 1156.5,1492.1 1156.5,1482.4 1157.5,1480.3 1157.5,1489.0 1158.5,1488.7 1158.5,1486.4 1159.5,1490.2 1159.5,1474.2 1160.5,1483.5 1160.5,1491.1 1161.5,1489.7 1161.5,1480.5 1162.5,1482.0 1162.5,1489.7 1163.5,1486.7 1163.5,1480.6 1164.5,1480.5 1164.5,1485.7 1165.5,1487.0 1165.5,1477.0 1166.5,1479.8 1166.5,1486.6 1167.5,1484.8 1167.5,1479.4 1168.5,1478.6 1168.5,1483.3 1169.5,1483.1 1169.5,1471.4 1170.5,1475.3 1170.5,1482.4 1171.5,1477.7 1171.5,1467.5 1172.5,1470.3 1172.5,1461.8 1173.5,1440.0 1173.5,1415.2 1174.5,1345.3 1174.5,1058.0 1175.5,867.5 1175.5,510.9 1176.5,793.2 1176.5,1125.6 1177.5,1109.8 1177.5,982.2 1178.5,981.7 1178.5,1235.4 1179.5,1352.6 1179.5,1434.9 1180.5,1455.0 1180.5,1474.2 1181.5,1476.8 1181.5,1464.7 1182.5,1470.5 1182.5,1480.1 1183.5,1475.6 1183.5,1485.1 1184.5,1478.5 1184.5,1492.9 1185.5,1488.9 1185.5,1475.4 1186.5,1483.1 1186.5,1493.0 1187.5,1485.7 1187.5,1470.6 1188.5,1476.7 1188.5,1488.0 1189.5,1488.5 1189.5,1476.6 1190.5,1480.0 1190.5,1489.0 1191.5,1488.5 1191.5,1484.0 1192.5,1480.2 1192.5,1492.0 1193.5,1483.1 1193.5,1475.3 1194.5,1475.8 1194.5,1489.9 1195.5,1480.2 1195.5,1476.6 1196.5,1475.6 1196.5,1489.0 1197.5,1482.2 1197.5,1472.6 1198.5,1481.4 1198.5,1493.1 1199.5,1488.2 1199.5,1482.7 1200.5,1483.5 1200.5,1492.8 1201.5,1489.6 1201.5,1481.7 1202.5,1477.8 1202.5,1494.6 1203.5,1493.8 1203.5,1484.5 1204.5,1491.2 1204.5,1466.4 1205.5,1483.8 1205.5,1489.7 1206.5,1496.7 1206.5,1481.5 1207.5,1490.0 1207.5,1471.4 1208.5,1481.0 1208.5,1491.7 1209.5,1492.0 1209.5,1477.1 1210.5,1473.9 1210.5,1488.1 1211.5,1493.1 1211.5,1471.8 1212.5,1473.4 1212.5,1479.4 1213.5,1479.3 1213.5,1485.4 1214.5,1484.4 1214.5,1473.2 1215.5,1473.7 1215.5,1476.1 1216.5,1472.7 1216.5,1491.9 1217.5,1482.2 1217.5,1466.3 1218.5,1471.4 1218.5,1486.1 1219.5,1487.0 1219.5,1478.5 1220.5,1474.0 1220.5,1484.1 1221.5,1483.5 1221.5,1488.8 1222.5,1489.2 1222.5,1480.0 1223.5,1469.8 1223.5,1490.8 1224.5,1491.9 1224.5,1484.0 1225.5,1484.3 1225.5,1491.4 1226.5,1491.7 1226.5,1480.4 1227.5,1478.5 1227.5,1488.4 1228.5,1493.2 1228.5,1482.8 1229.5,1479.7 1229.5,1488.0 1230.5,1491.5 1230.5,1484.2 1231.5,1488.9 1231.5,1477.2 1232.5,1484.3 1232.5,1485.4 1233.5,1486.0 1233.5,1475.8 1234.5,1479.1 1234.5,1487.4 1235.5,1491.5 1235.5,1481.0 1236.5,1479.0 1236.5,1487.3 1237.5,1488.2 1237.5,1481.3 1238.5,1480.6 1238.5,1492.3 1239.5,1488.6 1239.5,1481.0 1240.5,1484.4 1240.5,1474.8 1241.5,1478.6 1241.5,1490.4 1242.5,1484.1 1242.5,1479.1 1243.5,1478.8 1243.5,1490.7 1244.5,1487.2 1244.5,1479.9 1245.5,1486.8 1245.5,1472.7 1246.5,1475.3 1246.5,1485.7 1247.5,1484.4 1247.5,1490.8 1248.5,1486.1 1248.5,1484.3 1249.5,1485.3 1249.5,1477.4 1250.5,1480.2 1250.5,1484.4 1251.5,1476.9 1251.5,1495.4 1252.5,1491.9 1252.5,1480.1 1253.5,1482.3 1253.5,1475.1 1254.5,1480.6 1254.5,1496.0 1255.5,1500.3 1255.5,1489.6 1256.5,1492.3 1256.5,1471.3 1257.5,1485.4 1257.5,1498.3 1258.5,1491.9 1258.5,1474.3 1259.5,1479.2 1259.5,1496.3 1260.5,1500.0 1260.5,1483.4 1261.5,1488.6 1261.5,1494.3 1262.5,1489.8 1262.5,1485.8 1263.5,1495.9 1263.5,1475.5 1264.5,1480.4 1264.5,1488.9 1265.5,1485.6 1265.5,1496.3 1266.5,1489.9 1266.5,1483.1 1267.5,1477.2 1267.5,1490.2 1268.5,1494.0 1268.5,1479.6 1269.5,1482.2 1269.5,1487.0 1270.5,1484.2 1270.5,1495.1 1271.5,1484.5 1271.5,1480.3 1272.5,1482.0 1272.5,1491.3 1273.5,1484.5 1273.5,1481.1 1274.5,1478.4 1274.5,1484.3 1275.5,1479.1 1275.5,1490.1 1276.5,1490.8 1276.5,1479.2 1277.5,1484.2 1277.5,1486.6 1278.5,1484.0 1278.5,1490.7 1279.5,1489.1 1279.5,1483.9 1280.5,1484.6 1280.5,1491.2 1281.5,1483.3 1282.5,1482.3 1282.5,1488.3 1283.5,1493.3 1283.5,1481.3 1284.5,1483.0 1284.5,1490.3 1285.5,1486.2 1285.5,1482.9 1286.5,1480.1 1286.5,1488.0 1287.5,1487.8 1287.5,1483.7 1288.5,1482.0 1288.5,1496.1 1289.5,1480.6 1289.5,1476.5 1290.5,1477.2 1290.5,1491.6 1291.5,1490.8 1291.5,1470.8 1292.5,1482.8 1292.5,1492.3 1293.5,1496.1 1293.5,1477.8 1294.5,1483.9 1294.5,1492.9 1295.5,1487.8 1295.5,1476.8 1296.5,1477.4 1296.5,1486.9 1297.5,1486.9 1297.5,1479.0 1298.5,1484.5 1298.5,1489.9 1299.5,1487.0 1299.5,1480.2 1300.5,1482.4 1300.5,1493.5 1301.5,1492.4 1301.5,1485.7 1302.5,1487.7 1302.5,1482.5 1303.5,1482.1 1303.5,1488.3 1304.5,1492.4 1304.5,1478.1 1305.5,1479.0 1305.5,1489.0 1306.5,1485.8 1306.5,1482.5 1307.5,1480.0 1307.5,1492.8 1308.5,1487.5 1308.5,1483.3 1309.5,1487.8 1309.5,1477.5 1310.5,1478.9 1310.5,1485.7 1311.5,1488.0 1311.5,1488.7 1312.5,1490.8 1312.5,1485.0 1313.5,1481.1 1313.5,1489.1 1314.5,1490.7 1314.5,1481.9 1315.5,1480.9 1315.5,1486.6 1316.5,1487.5 1316.5,1490.7 1317.5,1493.5 1317.5,1487.8 1318.5,1486.7 1318.5,1485.4 1319.5,1482.3 1319.5,1476.5 1320.5,1481.4 1320.5,1489.2 1321.5,1486.8 1321.5,1485.2 1322.5,1490.1 1322.5,1468.0 1323.5,1480.1 1323.5,1491.8 1324.5,1477.5 1324.5,1472.9 1325.5,1470.4 1325.5,1480.5 1326.5,1476.2 1326.5,1472.3 1327.5,1468.2 1327.5,1478.8 1328.5,1483.2 1328.5,1473.9 1329.5,1477.2 1329.5,1492.7 1330.5,1484.0 1330.5,1481.5 1331.5,1481.8 1331.5,1489.6 1332.5,1493.5 1332.5,1482.0 1333.5,1479.4 1333.5,1492.9 1334.5,1494.5 1334.5,1481.3 1335.5,1485.8 1335.5,1489.6 1336.5,1488.2 1336.5,1482.7 1337.5,1482.6 1337.5,1480.1 1338.5,1479.3 1338.5,1487.0 1339.5,1485.7 1339.5,1479.8 1340.5,1481.4 1340.5,1493.7 1341.5,1480.8 1341.5,1474.0 1342.5,1484.1 1342.5,1493.7 1343.5,1488.3 1343.5,1486.4 1344.5,1490.0 1344.5,1482.4 1345.5,1486.2 1345.5,1490.8 1346.5,1486.0 1346.5,1480.0 1347.5,1489.6 1347.5,1490.3 1348.5,1489.7 1348.5,1495.1 1349.5,1492.7 1349.5,1474.1 1350.5,1484.8 1350.5,1487.3 1351.5,1484.0 1351.5,1492.2 1352.5,1489.9 1352.5,1482.8 1353.5,1482.6 1353.5,1491.8 1354.5,1495.1 1354.5,1472.7 1355.5,1479.1 1355.5,1484.2 1356.5,1475.9 1356.5,1502.3 1357.5,1489.9 1357.5,1485.1 1358.5,1483.8 1358.5,1480.4 1359.5,1485.7 1359.5,1491.8 1360.5,1491.9 1360.5,1483.5 1361.5,1486.7 1361.5,1490.3 1362.5,1493.5 1362.5,1485.1 1363.5,1487.8 1363.5,1491.4 1364.5,1490.3 1364.5,1488.1 1365.5,1487.8 1365.5,1490.7 1366.5,1491.9 1366.5,1481.7 1367.5,1478.6 1367.5,1490.0 1368.5,1493.1 1368.5,1476.7 1369.5,1481.9 1369.5,1492.3 1370.5,1487.5 1370.5,1483.6 1371.5,1481.7 1371.5,1487.3 1372.5,1486.1 1372.5,1479.1 1373.5,1480.6 1373.5,1492.7 1374.5,1485.9 1374.5,1478.2 1375.5,1487.0 1375.5,1493.5 1376.5,1490.6 1376.5,1479.7 1377.5,1478.9 1377.5,1490.6 1378.5,1487.4 1378.5,1480.7 1379.5,1478.2 1379.5,1491.8 1380.5,1487.2 1380.5,1485.3 1381.5,1488.2 1381.5,1492.3 1382.5,1488.9 1382.5,1485.8 1383.5,1481.1 1383.5,1491.7 1384.5,1491.9 1384.5,1487.3 1385.5,1490.7 1385.5,1474.8 1386.5,1485.9 1386.5,1494.3 1387.5,1490.7 1387.5,1480.0 1388.5,1485.2 1388.5,1489.6 1389.5,1485.4 1389.5,1479.5 1390.5,1479.5 1390.5,1488.9 1391.5,1491.1 1391.5,1483.7 1392.5,1478.8 1392.5,1494.4 1393.5,1489.3 1393.5,1482.4 1394.5,1483.1 1394.5,1487.5 1395.5,1481.6 1395.5,1497.5 1396.5,1487.4 1396.5,1479.9 1397.5,1480.4 1397.5,1491.7 1398.5,1491.1 1398.5,1482.5 1399.5,1485.4 1399.5,1478.2 1400.5,1487.9 1400.5,1492.2 1401.5,1486.9 1401.5,1476.6 1402.5,1483.2 1402.5,1491.5 1403.5,1489.0 1403.5,1480.3 1404.5,1472.7 1404.5,1494.5 1405.5,1489.1 1405.5,1486.6 1406.5,1486.0 1406.5,1489.7 1407.5,1488.6 1407.5,1475.6 1408.5,1475.4 1408.5,1490.2 1409.5,1488.9 1409.5,1498.6 1410.5,1490.4 1410.5,1482.1 1411.5,1484.4 1411.5,1490.8 1412.5,1495.9 1412.5,1480.0 1413.5,1485.4 1413.5,1494.5 1414.5,1488.0 1414.5,1480.1 1415.5,1486.0 1415.5,1490.0 1416.5,1489.4 1416.5,1478.0 1417.5,1484.7 1417.5,1494.4 1418.5,1490.5 1418.5,1479.4 1419.5,1485.3 1419.5,1493.8 1420.5,1494.1 1420.5,1480.3 1421.5,1477.8 1421.5,1490.4 1422.5,1492.2 1422.5,1486.6 1423.5,1488.5 1423.5,1481.1 1424.5,1478.5 1424.5,1487.7 1425.5,1487.5 1425.5,1474.0 1426.5,1487.8 1426.5,1498.4 1427.5,1488.8 1427.5,1477.5 1428.5,1477.8 1428.5,1493.6 1429.5,1489.2 1429.5,1483.2 1430.5,1482.1 1430.5,1492.3 1431.5,1488.7 1431.5,1479.7 1432.5,1482.1 1432.5,1489.2 1433.5,1489.4 1433.5,1483.3 1434.5,1480.9 1434.5,1490.9 1435.5,1489.7 1435.5,1483.3 1436.5,1478.1 1436.5,1490.5 1437.5,1485.6 1437.5,1482.6 1438.5,1481.4 1438.5,1487.7 1439.5,1485.1 1439.5,1484.3 1440.5,1491.7 1440.5,1475.9 1441.5,1477.2 1441.5,1490.5 1442.5,1488.8 1442.5,1481.1 1443.5,1476.8 1443.5,1485.5 1444.5,1485.7 1444.5,1475.0 1445.5,1481.6 1445.5,1485.1 1446.5,1488.8 1446.5,1478.6 1447.5,1472.3 1447.5,1489.5 1448.5,1484.2 1448.5,1476.1 1449.5,1475.8 1449.5,1481.0 1450.5,1486.6 1450.5,1474.7 1451.5,1471.1 1451.5,1481.2 1452.5,1484.3 1452.5,1459.2 1453.5,1465.6 1453.5,1476.3 1454.5,1465.6 1454.5,1447.2 1455.5,1425.4 1455.5,1290.1 1456.5,1164.3 1456.5,934.1 1457.5,888.0 1457.5,1148.3 1458.5,1268.6 1458.5,1349.3 1459.5,1373.5 1459.5,1207.7 1460.5,1181.9 1460.5,1250.3 1461.5,1296.1 1461.5,1431.7 1462.5,1427.4 1462.5,1462.4 1463.5,1457.1 1463.5,1475.1 1464.5,1461.7 1464.5,1449.4 1465.5,1441.2 1465.5,1302.0 1466.5,1235.2 1466.5,1031.2 1467.5,1013.8 1467.5,1191.3 1468.5,1310.3 1468.5,1383.6 1469.5,1341.7 1469.5,1225.8 1470.5,1221.2 1470.5,1273.8 1471.5,1327.2 1471.5,1443.5 1472.5,1436.0 1472.5,1464.0 1473.5,1473.7 1473.5,1483.9 1474.5,1480.2 1474.5,1476.5 1475.5,1478.2 1475.5,1490.2 1476.5,1485.6 1476.5,1474.5 1477.5,1468.4 1477.5,1485.7 1478.5,1482.6 1478.5,1473.7 1479.5,1479.5 1479.5,1487.0 1480.5,1489.6 1480.5,1478.2 1481.5,1473.1 1481.5,1487.3 1482.5,1484.1 1482.5,1477.9 1483.5,1476.5 1483.5,1486.7 1484.5,1489.4 1484.5,1478.2 1485.5,1482.4 1485.5,1486.7 1486.5,1483.5 1486.5,1490.6 1487.5,1484.2 1487.5,1481.4 1488.5,1487.5 1488.5,1474.7 1489.5,1480.0 1489.5,1487.0 1490.5,1488.0 1490.5,1475.6 1491.5,1475.2 1491.5,1486.6 1492.5,1483.4 1492.5,1480.9 1493.5,1480.1 1493.5,1484.5 1494.5,1484.2 1494.5,1470.1 1495.5,1476.0 1495.5,1481.4 1496.5,1477.8 1496.5,1491.9 1497.5,1487.0 1497.5,1483.6 1498.5,1481.5 1498.5,1492.2 1499.5,1485.9 1499.5,1485.2 1500.5,1490.3 1500.5,1479.7 1501.5,1478.3 1501.5,1486.0 1502.5,1485.5 1502.5,1478.2 1503.5,1472.3 1503.5,1484.2 1504.5,1483.0 1504.5,1487.3 1505.5,1484.5 1505.5,1490.5 1506.5,1486.5 1506.5,1479.0 1507.5,1478.9 1507.5,1490.8 1508.5,1487.0 1508.5,1481.0 1509.5,1479.3 1509.5,1484.6 1510.5,1486.2 1510.5,1471.0 1511.5,1478.4 1511.5,1486.3 1512.5,1486.1 1512.5,1479.8 1513.5,1477.2 1513.5,1492.3 1514.5,1484.8 1514.5,1475.7 1515.5,1480.7 1515.5,1487.5 1516.5,1489.4 1516.5,1468.9 1517.5,1484.9 1517.5,1488.4 1518.5,1491.3 1518.5,1478.5 1519.5,1485.1 1519.5,1486.2 1520.5,1490.3 1520.5,1479.8 1521.5,1479.2 1521.5,1495.0 1522.5,1495.4 1522.5,1483.4 1523.5,1487.3 1523.5,1471.0 1524.5,1481.8 1524.5,1484.6 1525.5,1485.1 1525.5,1494.3 1526.5,1483.0 1526.5,1477.9 1527.5,1475.5 1527.5,1490.8 1528.5,1487.0 1528.5,1471.2 1529.5,1477.6 1529.5,1485.1 1530.5,1488.7 1530.5,1479.1 1531.5,1479.1 1531.5,1492.1 1532.5,1493.6 1532.5,1486.9 1533.5,1493.4 1533.5,1475.6 1534.5,1477.9 1534.5,1489.3 1535.5,1483.0 1535.5,1472.9 1536.5,1481.7 1536.5,1488.4 1537.5,1490.2 1537.5,1473.1 1538.5,1478.9 1538.5,1496.2 1539.5,1488.5 1539.5,1479.7 1540.5,1485.9 1540.5,1471.2 1541.5,1476.5 1541.5,1484.1 1542.5,1487.7 1542.5,1489.8 1543.5,1485.9 1543.5,1478.4 1544.5,1480.2 1544.5,1492.4 1545.5,1490.8 1545.5,1477.8 1546.5,1481.9 1546.5,1486.3 1547.5,1488.2 1547.5,1480.9 1548.5,1485.5 1548.5,1473.2 1549.5,1475.6 1549.5,1494.7 1550.5,1486.6 1550.5,1484.4 1551.5,1483.2 1551.5,1476.0 1552.5,1477.3 1552.5,1486.3 1553.5,1480.6 1553.5,1479.5 1554.5,1475.9 1554.5,1484.7 1555.5,1483.4 1555.5,1486.7 1556.5,1485.8 1556.5,1479.1 1557.5,1475.9 1557.5,1487.8 1558.5,1491.0 1558.5,1478.6 1559.5,1479.7 1559.5,1484.3 1560.5,1491.0 1560.5,1494.0 1561.5,1486.3 1561.5,1481.9 1562.5,1486.4 1562.5,1470.2 1563.5,1478.3 1563.5,1487.2 1564.5,1484.9 1564.5,1476.0 1565.5,1481.3 1565.5,1488.5 1566.5,1487.4 1566.5,1479.3 1567.5,1484.0 1567.5,1469.0 1568.5,1484.3 1568.5,1489.8 1569.5,1487.3 1569.5,1482.2 1570.5,1482.3 1570.5,1491.6 1571.5,1487.3 1571.5,1479.4 1572.5,1477.3 1572.5,1484.0 1573.5,1479.8 1573.5,1491.1 1574.5,1495.2 1574.5,1470.6 1575.5,1475.6 1575.5,1483.7 1576.5,1483.9 1576.5,1469.9 1577.5,1479.0 1577.5,1486.8 1578.5,1486.4 1578.5,1476.4 1579.5,1477.1 1579.5,1482.5 1580.5,1487.8 1580.5,1476.1 1581.5,1476.1 1581.5,1487.7 1582.5,1488.4 1582.5,1468.1 1583.5,1479.2 1583.5,1447.8 1584.5,1444.9 1584.5,1428.1 1585.5,1422.8 1585.5,1419.6 1586.5,1421.0 1586.5,1405.1 1587.5,1413.4 1587.5,1416.3 1588.5,1411.6 1588.5,1424.1 1589.5,1433.7 1589.5,1446.2 1590.5,1458.2 1590.5,1428.9 1591.5,1457.1 1591.5,1460.2 1592.5,1465.7 1592.5,1473.7 1593.5,1479.8 1593.5,1488.1 1594.5,1481.3 1594.5,1475.8 1595.5,1481.0 1595.5,1482.1 1596.5,1475.5 1596.5,1492.1 1597.5,1486.4 1597.5,1478.2 1598.5,1477.4 1598.5,1481.8 1599.5,1477.1 1599.5,1491.1 1600.5,1486.3 1600.5,1480.9 1601.5,1489.1 1601.5,1471.6 1602.5,1472.1 1602.5,1485.1 1603.5,1487.4 1603.5,1477.3 1604.5,1484.6 1604.5,1495.8 1605.5,1488.8 1605.5,1478.6 1606.5,1483.1 1606.5,1485.7 1607.5,1495.7 1607.5,1467.3 1608.5,1482.2 1608.5,1492.1 1609.5,1487.5 1609.5,1480.9 1610.5,1482.0 1610.5,1478.2 1611.5,1477.9 1611.5,1491.7 1612.5,1488.8 1612.5,1479.9 1613.5,1477.5 1613.5,1490.6 1614.5,1492.0 1614.5,1479.0 1615.5,1477.3 1615.5,1500.1 1616.5,1484.9 1616.5,1482.9 1617.5,1479.5 1617.5,1488.4 1618.5,1485.6 1618.5,1472.8 1619.5,1480.5 1619.5,1487.6 1620.5,1486.5 1620.5,1480.8 1621.5,1479.4 1621.5,1488.5 1622.5,1483.7 1622.5,1479.1 1623.5,1479.2 1623.5,1487.3 1624.5,1484.8 1624.5,1475.4 1625.5,1478.9 1625.5,1487.2 1626.5,1485.8 1626.5,1483.0 1627.5,1478.5 1627.5,1493.1 1628.5,1490.3 1628.5,1476.6 1629.5,1480.1 1629.5,1489.3 1630.5,1488.8 1630.5,1478.9 1631.5,1483.0 1631.5,1488.4 1632.5,1487.7 1632.5,1476.6 1633.5,1475.2 1633.5,1486.0 1634.5,1480.7 1634.5,1491.8 1635.5,1484.5 1635.5,1472.5 1636.5,1477.4 1636.5,1486.1 1637.5,1492.6 1637.5,1472.6 1638.5,1478.9 1638.5,1482.2 1639.5,1483.9 1639.5,1475.5 1640.5,1477.5 1640.5,1488.0 1641.5,1483.2 1641.5,1477.3 1642.5,1473.3 1642.5,1486.1 1643.5,1484.3 1643.5,1476.2 1644.5,1477.7 1644.5,1488.8 1645.5,1487.5 1645.5,1483.9 1646.5,1482.7 1646.5,1469.8 1647.5,1474.6 1647.5,1489.3 1648.5,1487.1 1648.5,1475.4 1649.5,1470.1 1649.5,1481.4 1650.5,1476.4 1650.5,1489.2 1651.5,1486.7 1651.5,1477.2 1652.5,1477.0 1652.5,1485.5 1653.5,1487.2 1653.5,1483.0 1654.5,1478.1 1654.5,1490.1 1655.5,1480.0 1655.5,1472.5 1656.5,1482.6 1656.5,1487.5 1657.5,1486.3 1657.5,1483.6 1658.5,1484.9 1658.5,1476.5 1659.5,1478.7 1659.5,1483.2 1660.5,1478.1 1660.5,1491.3 1661.5,1491.2 1661.5,1485.8 1662.5,1487.8 1662.5,1474.6 1663.5,1475.2 1663.5,1489.4 1664.5,1484.3 1664.5,1472.9 1665.5,1479.6 1665.5,1484.3 1666.5,1489.4 1666.5,1477.6 1667.5,1482.0 1667.5,1489.2 1668.5,1485.4 1668.5,1475.3 1669.5,1475.8 1669.5,1482.6 1670.5,1482.4 1670.5,1467.1 1671.5,1475.1 1671.5,1483.2 1672.5,1481.8 1672.5,1475.7 1673.5,1477.0 1673.5,1480.5 1674.5,1478.6 1674.5,1485.9 1675.5,1487.4 1675.5,1476.3 1676.5,1477.2 1676.5,1469.7 1677.5,1475.9 1677.5,1487.6 1678.5,1489.4 1678.5,1462.4 1679.5,1464.1 1679.5,1479.3 1680.5,1467.1 1680.5,1452.4 1681.5,1440.3 1681.5,1260.1 1682.5,1208.2 1682.5,1026.8 1683.5,1004.0 1683.5,1192.0 1684.5,1280.2 1684.5,1403.4 1685.5,1388.2 1685.5,1433.3 1686.5,1349.2 1686.5,1291.9 1687.5,1278.6 1687.5,1244.1 1688.5,1356.0 1688.5,1415.3 1689.5,1435.2 1689.5,1470.9 1690.5,1473.2 1690.5,1465.9 1691.5,1471.2 1691.5,1480.1 1692.5,1483.7 1692.5,1475.7 1693.5,1480.1 1693.5,1469.9 1694.5,1475.9 1694.5,1487.9 1695.5,1483.7 1695.5,1468.7 1696.5,1475.5 1696.5,1484.8 1697.5,1485.7 1697.5,1473.3 1698.5,1468.4 1698.5,1484.1 1699.5,1484.0 1699.5,1476.5 1700.5,1478.9 1700.5,1481.9 1701.5,1476.6 1701.5,1490.6 1702.5,1489.0 1702.5,1477.9 1703.5,1478.6 1703.5,1485.6 1704.5,1485.1 1704.5,1481.0 1705.5,1487.3 1705.5,1474.4 1706.5,1476.3 1706.5,1481.4 1707.5,1485.3 1707.5,1469.9 1708.5,1474.7 1708.5,1482.8 1709.5,1479.1 1709.5,1489.8 1710.5,1485.2 1710.5,1477.8 1711.5,1475.9 1711.5,1485.1 1712.5,1483.2 1712.5,1472.6 1713.5,1475.4 1713.5,1455.8 1714.5,1465.1 1714.5,1473.0 1715.5,1462.6 1715.5,1451.3 1716.5,1446.0 1716.5,1436.9 1717.5,1442.1 1717.5,1427.3 1718.5,1430.4 1718.5,1413.9 1719.5,1410.1 1719.5,1431.3 1720.5,1432.6 1720.5,1416.2 1721.5,1428.5 1721.5,1443.3 1722.5,1436.8 1722.5,1450.2 1723.5,1454.9 1723.5,1441.6 1724.5,1450.1 1724.5,1461.1 1725.5,1457.9 1725.5,1471.9 1726.5,1467.7 1726.5,1478.2 1727.5,1476.5 1727.5,1482.1 1728.5,1486.8 1728.5,1471.9 1729.5,1469.8 1729.5,1482.1 1730.5,1483.7 1730.5,1477.1 1731.5,1478.7 1731.5,1482.3 1732.5,1477.7 1732.5,1492.3 1733.5,1487.9 1733.5,1468.4 1734.5,1468.6 1734.5,1486.0 1735.5,1488.4 1735.5,1479.5 1736.5,1480.3 1736.5,1491.0 1737.5,1488.3 1737.5,1476.2 1738.5,1482.6 1738.5,1487.8 1739.5,1484.4 1739.5,1472.3 1740.5,1477.6 1740.5,1485.2 1741.5,1483.9 1741.5,1475.6 1742.5,1485.0 1742.5,1465.1 1743.5,1475.3 1743.5,1491.0 1744.5,1485.6 1744.5,1471.9 1745.5,1477.7 1745.5,1486.6 1746.5,1485.1 1746.5,1478.6 1747.5,1471.9 1747.5,1486.7 1748.5,1487.8 1748.5,1470.7 1749.5,1473.2 1749.5,1489.9 1750.5,1484.1 1750.5,1477.2 1751.5,1481.9 1751.5,1483.8 1752.5,1488.4 1752.5,1471.1 1753.5,1468.7 1753.5,1484.9 1754.5,1483.0 1754.5,1465.2 1755.5,1474.8 1755.5,1485.7 1756.5,1481.0 1756.5,1477.8 1757.5,1483.6 1757.5,1471.7 1758.5,1476.3 1758.5,1489.5 1759.5,1490.6 1759.5,1471.8 1760.5,1467.4 1760.5,1485.8 1761.5,1490.7 1761.5,1475.2 1762.5,1476.4 1762.5,1479.9 1763.5,1482.5 1763.5,1470.7 1764.5,1476.2 1764.5,1483.0 1765.5,1482.5 1765.5,1465.9 1766.5,1464.9 1766.5,1474.4 1767.5,1466.1 1767.5,1430.2 1768.5,1431.0 1768.5,1323.9 1769.5,1255.9 1769.5,1068.8 1770.5,1058.0 1770.5,1139.1 1771.5,1195.6 1771.5,1394.6 1772.5,1415.4 1772.5,1426.9 1773.5,1429.9 1773.5,1348.4 1774.5,1313.2 1774.5,1259.4 1775.5,1252.7 1775.5,1348.6 1776.5,1400.8 1776.5,1444.8 1777.5,1441.6 1777.5,1464.9 1778.5,1471.2 1778.5,1480.8 1779.5,1482.8 1779.5,1470.9 1780.5,1476.4 1780.5,1479.7 1781.5,1471.3 1781.5,1488.7 1782.5,1486.5 1782.5,1475.9 1783.5,1473.1 1783.5,1483.1 1784.5,1488.2 1784.5,1475.5 1785.5,1477.8 1785.5,1486.0 1786.5,1484.0 1786.5,1480.9 1787.5,1472.6 1787.5,1491.2 1788.5,1487.7 1788.5,1479.3 1789.5,1475.9 1789.5,1491.9 1790.5,1478.8 1790.5,1477.8 1791.5,1477.1 1791.5,1485.7 1792.5,1482.8 1792.5,1491.0 1793.5,1481.7 1793.5,1476.3 1794.5,1479.7 1794.5,1490.7 1795.5,1491.6 1795.5,1486.1 1796.5,1483.7 1796.5,1472.0 1797.5,1482.9 1797.5,1488.9 1798.5,1483.9 1798.5,1479.3 1799.5,1472.9 1799.5,1491.9 1800.5,1483.0 1800.5,1473.0 1801.5,1476.7 1801.5,1482.8 1802.5,1493.0 1802.5,1471.0 1803.5,1476.9 1803.5,1488.5 1804.5,1484.9 1804.5,1479.8 1805.5,1481.0 1805.5,1468.5 1806.5,1478.1 1806.5,1484.5 1807.5,1480.9 1807.5,1488.5 1808.5,1488.9 1808.5,1474.5 1809.5,1480.0 1809.5,1484.6 1810.5,1481.4 1810.5,1492.7 1811.5,1482.2 1811.5,1480.5 1812.5,1478.1 1812.5,1489.0 1813.5,1484.4 1813.5,1482.5 1814.5,1484.9 1814.5,1478.6 1815.5,1480.0 1815.5,1485.7 1816.5,1489.2 1816.5,1475.3 1817.5,1476.5 1817.5,1484.5 1818.5,1485.2 1818.5,1472.7 1819.5,1479.5 1819.5,1493.9 1820.5,1487.4 1820.5,1479.7 1821.5,1481.1 1821.5,1477.3 1822.5,1476.1 1822.5,1493.2 1823.5,1481.8 1823.5,1478.2 1824.5,1480.3 1824.5,1469.9 1825.5,1468.3 1825.5,1487.8 1826.5,1482.4 1826.5,1473.3 1827.5,1480.4 1827.5,1491.8 1828.5,1486.6 1828.5,1470.3 1829.5,1471.6 1829.5,1486.2 1830.5,1485.9 1830.5,1475.7 1831.5,1476.0 1831.5,1485.0 1832.5,1482.8 1832.5,1489.8 1833.5,1483.4 1833.5,1469.7 1834.5,1476.4 1834.5,1483.7 1835.5,1479.5 1835.5,1460.3 1836.5,1456.4 1836.5,1440.1 1837.5,1432.8 1837.5,1403.0 1838.5,1397.1 1838.5,1410.4 1839.5,1404.6 1839.5,1428.1 1840.5,1425.8 1840.5,1458.2 1841.5,1453.1 1841.5,1467.0 1842.5,1467.5 1842.5,1449.1 1843.5,1448.4 1843.5,1426.0 1844.5,1445.6 1844.5,1506.0 1845.5,1505.1 1845.5,1504.2 1846.5,1504.2 1846.5,1506.0 1847.5,1505.1 1848.5,1504.2 1848.5,1506.0 1849.5,1505.1 1849.5,1504.2 1850.5,1505.1 1850.5,1506.0 1851.5,1506.0 1851.5,1504.2 1852.5,1504.2 1852.5,1506.0 1853.5,1505.1 1853.5,1504.2 1854.5,1504.2 1854.5,1506.0 1855.5,1506.0 1855.5,1504.2 1856.5,1504.2 1856.5,1506.0 1857.5,1506.0 1857.5,1504.2 1858.5,1504.2 1858.5,1506.0 1859.5,1506.0 1859.5,1504.2 1860.5,1505.1 1860.5,1506.0 1861.5,1505.1 1862.5,1505.1 1862.5,1504.2 1863.5,1504.2 1863.5,1506.0 1864.5,1506.0 1864.5,1504.2 1865.5,1504.2 1865.5,1506.0 1866.5,1506.0 1866.5,1504.2 1867.5,1504.2 1867.5,1506.0 1868.5,1505.1 1869.5,1505.1 1869.5,1504.2"/>
<polyline stroke="#00ffff" points="535.5,1395.6 535.5,1357.4 536.5,1374.1 536.5,1401.3 537.5,1381.2 537.5,1353.2 538.5,1349.7 538.5,1366.8 539.5,1368.6 539.5,1385.2 540.5,1380.7 540.5,1361.8 541.5,1354.2 541.5,1371.4 542.5,1355.9 542.5,1387.5 543.5,1379.7 543.5,1345.7 544.5,1344.5 544.5,1369.1 545.5,1384.1 545.5,1333.2 546.5,1361.8 546.5,1377.6 547.5,1369.4 547.5,1357.0 548.5,1367.8 548.5,1345.2 549.5,1345.8 549.5,1374.7 550.5,1370.4 550.5,1359.2 551.5,1357.7 551.5,1394.9 552.5,1386.3 552.5,1351.2 553.5,1356.7 553.5,1369.3 554.5,1361.7 554.5,1381.8 555.5,1382.1 555.5,1355.5 556.5,1354.3 556.5,1380.3 557.5,1377.2 557.5,1364.1 558.5,1354.2 558.5,1375.1 559.5,1394.6 559.5,1346.0 560.5,1361.5 560.5,1392.9 561.5,1402.5 561.5,1364.3 562.5,1367.7 562.5,1351.3 563.5,1352.5 563.5,1383.8 564.5,1387.0 564.5,1362.0 565.5,1364.3 565.5,1379.8 566.5,1374.5 566.5,1342.7 567.5,1367.2 567.5,1392.1 568.5,1386.0 568.5,1370.7 569.5,1360.8 569.5,1382.3 570.5,1384.9 570.5,1352.0 571.5,1361.8 571.5,1403.0 572.5,1385.6 572.5,1366.3 573.5,1365.6 573.5,1384.0 574.5,1379.5 574.5,1354.5 575.5,1364.1 575.5,1380.1 576.5,1381.6 576.5,1335.7 577.5,1361.4 577.5,1399.3 578.5,1394.1 578.5,1370.4 579.5,1359.5 579.5,1396.7 580.5,1379.3 580.5,1338.9 581.5,1376.3 581.5,1394.3 582.5,1376.9 582.5,1343.7 583.5,1372.8 583.5,1385.4 584.5,1382.3 584.5,1362.1 585.5,1364.4 585.5,1383.7 586.5,1386.6 586.5,1365.1 587.5,1354.6 587.5,1388.3 588.5,1388.2 588.5,1378.2 589.5,1386.1 589.5,1391.6 590.5,1392.2 590.5,1370.9 591.5,1361.9 591.5,1384.6 592.5,1396.1 592.5,1359.1 593.5,1355.5 593.5,1388.6 594.5,1396.8 594.5,1370.6 595.5,1379.8 595.5,1387.3 596.5,1384.9 596.5,1378.9 597.5,1376.7 597.5,1410.5 598.5,1389.4 598.5,1375.1 599.5,1377.8 599.5,1364.0 600.5,1365.8 600.5,1396.1 601.5,1389.9 601.5,1367.3 602.5,1371.0 602.5,1359.5 603.5,1385.9 603.5,1403.0 604.5,1387.2 604.5,1369.2 605.5,1368.5 605.5,1399.3 606.5,1395.5 606.5,1378.8 607.5,1393.3 607.5,1353.7 608.5,1360.7 608.5,1386.5 609.5,1393.3 609.5,1369.4 610.5,1382.9 610.5,1389.5 611.5,1401.5 611.5,1362.8 612.5,1374.7 612.5,1409.0 613.5,1405.8 613.5,1383.5 614.5,1384.5 614.5,1358.4 615.5,1376.5 615.5,1399.2 616.5,1404.6 616.5,1367.7 617.5,1363.5 617.5,1402.5 618.5,1401.5 618.5,1392.9 619.5,1411.9 619.5,1367.3 620.5,1373.0 620.5,1407.4 621.5,1409.0 621.5,1354.2 622.5,1382.0 622.5,1414.5 623.5,1401.3 623.5,1365.9 624.5,1373.5 624.5,1388.9 625.5,1377.4 625.5,1409.3 626.5,1388.1 626.5,1368.4 627.5,1374.7 627.5,1399.6 628.5,1393.5 628.5,1373.7 629.5,1381.2 629.5,1417.7 630.5,1410.1 630.5,1401.7 631.5,1401.8 631.5,1382.7 632.5,1372.1 632.5,1414.8 633.5,1399.7 633.5,1375.9 634.5,1375.1 634.5,1411.3 635.5,1400.0 635.5,1369.9 636.5,1386.1 636.5,1398.2 637.5,1411.7 637.5,1380.2 638.5,1379.5 638.5,1405.1 639.5,1407.1 639.5,1384.1 640.5,1386.3 640.5,1412.3 641.5,1409.6 641.5,1406.8 642.5,1410.2 642.5,1369.9 643.5,1371.8 643.5,1390.0 644.5,1384.0 644.5,1413.4 645.5,1397.6 645.5,1375.2 646.5,1388.0 646.5,1401.4 647.5,1415.3 647.5,1386.7 648.5,1375.8 648.5,1415.5 649.5,1408.2 649.5,1387.0 650.5,1387.0 650.5,1404.3 651.5,1396.6 651.5,1416.8 652.5,1428.2 652.5,1401.6 653.5,1397.9 653.5,1413.1 654.5,1418.4 654.5,1395.2 655.5,1401.8 655.5,1376.9 656.5,1392.6 656.5,1411.0 657.5,1408.1 657.5,1384.9 658.5,1400.9 658.5,1420.8 659.5,1399.7 659.5,1380.3 660.5,1386.5 660.5,1404.7 661.5,1407.7 661.5,1376.8 662.5,1389.1 662.5,1433.7 663.5,1423.4 663.5,1390.0 664.5,1395.5 664.5,1409.5 665.5,1407.3 665.5,1385.4 666.5,1397.4 666.5,1402.5 667.5,1409.2 667.5,1391.9 668.5,1407.9 668.5,1417.6 669.5,1410.1 669.5,1396.9 670.5,1394.2 670.5,1420.2 671.5,1419.2 671.5,1393.5 672.5,1385.9 672.5,1424.6 673.5,1423.2 673.5,1379.1 674.5,1404.4 674.5,1418.3 675.5,1424.5 675.5,1400.0 676.5,1392.8 676.5,1416.3 677.5,1417.5 677.5,1403.1 678.5,1409.8 678.5,1413.2 679.5,1405.7 679.5,1422.1 680.5,1422.7 680.5,1392.6 681.5,1391.0 681.5,1434.5 682.5,1423.7 682.5,1405.1 683.5,1412.8 683.5,1393.2 684.5,1389.7 684.5,1433.4 685.5,1411.5 685.5,1388.9 686.5,1395.6 686.5,1414.4 687.5,1410.1 687.5,1426.0 688.5,1414.1 688.5,1386.7 689.5,1388.3 689.5,1408.6 690.5,1407.6 690.5,1406.2 691.5,1404.7 691.5,1417.1 692.5,1421.3 692.5,1391.4 693.5,1405.3 693.5,1431.5 694.5,1408.1 694.5,1404.2 695.5,1394.4 695.5,1417.9 696.5,1417.9 696.5,1410.0 697.5,1398.6 697.5,1428.1 698.5,1417.2 698.5,1393.9 699.5,1400.0 699.5,1416.1 700.5,1404.0 700.5,1392.6 701.5,1389.7 701.5,1430.3 702.5,1419.4 702.5,1402.3 703.5,1388.5 703.5,1416.4 704.5,1418.9 704.5,1400.3 705.5,1388.7 705.5,1417.9 706.5,1414.4 706.5,1424.6 707.5,1420.0 707.5,1405.7 708.5,1417.6 708.5,1423.0 709.5,1423.6 709.5,1387.3 710.5,1411.0 710.5,1417.1 711.5,1416.9 711.5,1426.8 712.5,1417.6 712.5,1409.4 713.5,1393.5 713.5,1444.7 714.5,1428.3 714.5,1412.1 715.5,1397.8 715.5,1431.7 716.5,1423.7 716.5,1403.5 717.5,1410.7 717.5,1431.1 718.5,1433.7 718.5,1403.2 719.5,1405.7 719.5,1436.1 720.5,1418.5 720.5,1404.2 721.5,1410.9 721.5,1421.5 722.5,1421.8 722.5,1405.2 723.5,1401.4 723.5,1418.6 724.5,1429.0 724.5,1447.5 725.5,1420.6 725.5,1411.8 726.5,1401.9 726.5,1434.0 727.5,1436.4 727.5,1416.5 728.5,1415.4 728.5,1407.1 729.5,1419.4 729.5,1433.1 730.5,1438.8 730.5,1414.9 731.5,1422.9 731.5,1426.3 732.5,1431.9 732.5,1414.4 733.5,1414.9 733.5,1431.7 734.5,1421.7 734.5,1399.3 735.5,1409.7 735.5,1443.8 736.5,1427.6 736.5,1418.4 737.5,1430.8 737.5,1391.9 738.5,1403.9 738.5,1436.2 739.5,1444.8 739.5,1413.8 740.5,1418.7 740.5,1407.2 741.5,1396.2 741.5,1429.3 742.5,1427.9 742.5,1414.1 743.5,1420.5 743.5,1430.1 744.5,1425.2 744.5,1400.6 745.5,1422.9 745.5,1430.5 746.5,1434.0 746.5,1402.9 747.5,1410.9 747.5,1431.0 748.5,1429.7 748.5,1452.9 749.5,1452.7 749.5,1401.4 750.5,1423.7 750.5,1433.7 751.5,1430.2 751.5,1422.4 752.5,1424.9 752.5,1399.4 753.5,1423.0 753.5,1432.8 754.5,1438.2 754.5,1419.6 755.5,1416.4 755.5,1426.3 756.5,1430.9 756.5,1437.5 757.5,1432.8 757.5,1409.9 758.5,1420.6 758.5,1436.4 759.5,1442.8 759.5,1396.2 760.5,1415.4 760.5,1429.4 761.5,1442.1 761.5,1397.0 762.5,1416.7 762.5,1436.7 763.5,1425.0 763.5,1409.7 764.5,1423.8 764.5,1438.3 765.5,1433.7 765.5,1411.3 766.5,1403.2 766.5,1431.3 767.5,1430.1 767.5,1420.3 768.5,1420.4 768.5,1443.4 769.5,1436.1 769.5,1411.7 770.5,1413.0 770.5,1434.0 771.5,1427.1 771.5,1450.5 772.5,1425.6 772.5,1409.0 773.5,1404.1 773.5,1447.4 774.5,1447.9 774.5,1440.2 775.5,1434.4 775.5,1425.9 776.5,1421.6 776.5,1447.8 777.5,1433.9 777.5,1410.7 778.5,1425.8 778.5,1441.9 779.5,1438.2 779.5,1427.9 780.5,1435.8 780.5,1419.8 781.5,1413.7 781.5,1431.3 782.5,1436.2 782.5,1423.2 783.5,1409.1 783.5,1446.0 784.5,1433.8 784.5,1412.9 785.5,1412.1 785.5,1392.4 786.5,1388.4 786.5,1382.7 787.5,1384.0 787.5,1411.1 788.5,1423.7 788.5,1385.8 789.5,1405.1 789.5,1425.9 790.5,1420.5 790.5,1435.4 791.5,1446.9 791.5,1391.8 792.5,1403.5 792.5,1444.6 793.5,1440.2 793.5,1423.5 794.5,1422.3 794.5,1443.4 795.5,1440.5 795.5,1429.9 796.5,1424.5 796.5,1439.9 797.5,1444.1 797.5,1428.7 798.5,1412.2 798.5,1453.2 799.5,1449.1 799.5,1428.7 800.5,1425.0 800.5,1444.1 801.5,1444.1 801.5,1423.2 802.5,1427.8 802.5,1452.2 803.5,1454.6 803.5,1409.3 804.5,1400.2 804.5,1449.7 805.5,1438.7 805.5,1427.5 806.5,1426.7 806.5,1445.3 807.5,1436.0 807.5,1421.0 808.5,1428.0 808.5,1451.0 809.5,1429.6 809.5,1424.3 810.5,1422.0 810.5,1447.6 811.5,1449.2 811.5,1439.4 812.5,1444.0 812.5,1423.8 813.5,1426.8 813.5,1443.2 814.5,1440.0 814.5,1421.2 815.5,1431.0 815.5,1452.0 816.5,1444.1 816.5,1417.2 817.5,1422.5 817.5,1443.9 818.5,1452.4 818.5,1426.9 819.5,1439.7 819.5,1450.0 820.5,1450.2 820.5,1430.6 821.5,1434.4 821.5,1461.3 822.5,1449.0 822.5,1427.8 823.5,1433.4 823.5,1440.7 824.5,1447.0 824.5,1429.1 825.5,1444.3 825.5,1452.3 826.5,1437.8 826.5,1424.0 827.5,1420.7 827.5,1445.9 828.5,1431.9 828.5,1426.6 829.5,1421.9 829.5,1433.9 830.5,1427.7 830.5,1444.8 831.5,1446.9 831.5,1425.8 832.5,1414.5 832.5,1448.3 833.5,1440.8 833.5,1434.1 834.5,1444.3 834.5,1422.6 835.5,1437.0 835.5,1450.0 836.5,1450.1 836.5,1442.1 837.5,1447.4 837.5,1427.2 838.5,1424.6 838.5,1446.2 839.5,1433.1 839.5,1420.4 840.5,1430.9 840.5,1444.5 841.5,1449.3 841.5,1429.7 842.5,1439.1 842.5,1453.9 843.5,1443.2 843.5,1433.3 844.5,1438.7 844.5,1454.0 845.5,1448.8 845.5,1435.7 846.5,1422.7 846.5,1457.2 847.5,1452.0 847.5,1438.0 848.5,1441.3 848.5,1454.8 849.5,1454.4 849.5,1427.2 850.5,1442.8 850.5,1453.7 851.5,1466.2 851.5,1419.4 852.5,1439.4 852.5,1446.7 853.5,1450.2 853.5,1431.9 854.5,1437.7 854.5,1451.1 855.5,1454.6 855.5,1425.2 856.5,1431.8 856.5,1441.1 857.5,1444.4 857.5,1434.5 858.5,1426.3 858.5,1446.0 859.5,1441.2 859.5,1425.0 860.5,1425.0 860.5,1436.4 861.5,1430.9 861.5,1369.4 862.5,1367.7 862.5,1285.4 863.5,1297.5 863.5,1225.3 864.5,1242.1 864.5,1286.2 865.5,1324.2 865.5,1388.8 866.5,1380.1 866.5,1420.8 867.5,1410.4 867.5,1445.7 868.5,1456.2 868.5,1424.4 869.5,1448.9 869.5,1451.3 870.5,1445.8 870.5,1426.2 871.5,1423.5 871.5,1458.0 872.5,1457.8 872.5,1441.2 873.5,1427.3 873.5,1462.8 874.5,1454.0 874.5,1442.1 875.5,1448.0 875.5,1419.6 876.5,1428.8 876.5,1446.4 877.5,1460.7 877.5,1420.3 878.5,1425.4 878.5,1443.5 879.5,1449.6 879.5,1470.0 880.5,1463.1 880.5,1458.1 881.5,1454.3 881.5,1444.8 882.5,1438.1 882.5,1465.8 883.5,1459.5 883.5,1435.8 884.5,1446.1 884.5,1462.5 885.5,1442.4 885.5,1436.8 886.5,1447.1 886.5,1465.3 887.5,1459.5 887.5,1430.9 888.5,1440.3 888.5,1454.3 889.5,1449.8 889.5,1447.3 890.5,1454.6 890.5,1425.9 891.5,1438.3 891.5,1458.8 892.5,1461.3 892.5,1441.1 893.5,1437.7 893.5,1449.3 894.5,1441.5 894.5,1459.5 895.5,1448.9 895.5,1445.3 896.5,1437.7 896.5,1462.5 897.5,1448.6 897.5,1442.2 898.5,1447.4 898.5,1424.7 899.5,1438.6 899.5,1450.4 900.5,1454.0 900.5,1437.0 901.5,1436.1 901.5,1461.1 902.5,1453.0 902.5,1447.5 903.5,1462.9 903.5,1428.6 904.5,1428.2 904.5,1458.4 905.5,1462.1 905.5,1445.2 906.5,1440.3 906.5,1450.7 907.5,1443.0 907.5,1460.3 908.5,1455.6 908.5,1423.6 909.5,1420.8 909.5,1346.9 910.5,1355.9 910.5,1317.8 911.5,1306.8 911.5,1332.4 912.5,1336.1 912.5,1365.3 913.5,1393.1 913.5,1424.0 914.5,1429.7 914.5,1451.1 915.5,1442.2 915.5,1431.5 916.5,1458.2 916.5,1464.4 917.5,1464.3 917.5,1440.8 918.5,1439.1 918.5,1455.0 919.5,1462.9 919.5,1443.1 920.5,1434.1 920.5,1459.5 921.5,1470.3 921.5,1439.9 922.5,1450.9 922.5,1464.7 923.5,1464.2 923.5,1445.6 924.5,1444.7 924.5,1455.8 925.5,1476.7 925.5,1434.5 926.5,1450.1 926.5,1467.4 927.5,1469.3 927.5,1452.9 928.5,1441.6 928.5,1469.8 929.5,1459.3 929.5,1451.4 930.5,1450.1 930.5,1470.9 931.5,1460.0 931.5,1447.8 932.5,1456.4 932.5,1468.6 933.5,1470.9 933.5,1449.8 934.5,1450.4 934.5,1465.2 935.5,1467.3 935.5,1454.9 936.5,1450.0 936.5,1466.4 937.5,1456.5 937.5,1435.5 938.5,1456.0 938.5,1458.3 939.5,1448.6 939.5,1468.5 940.5,1471.7 940.5,1458.7 941.5,1460.1 941.5,1427.6 942.5,1453.6 942.5,1456.6 943.5,1460.3 943.5,1446.1 944.5,1449.4 944.5,1453.9 945.5,1445.4 945.5,1463.1 946.5,1462.7 946.5,1449.5 947.5,1456.4 947.5,1460.0 948.5,1471.4 948.5,1436.5 949.5,1436.2 949.5,1475.7 950.5,1462.7 950.5,1436.4 951.5,1447.1 951.5,1458.7 952.5,1456.8 952.5,1470.7 953.5,1468.8 953.5,1450.4 954.5,1460.8 954.5,1438.6 955.5,1441.2 955.5,1449.9 956.5,1448.0 956.5,1475.5 957.5,1469.4 957.5,1464.0 958.5,1471.3 958.5,1449.5 959.5,1451.2 959.5,1462.4 960.5,1469.4 960.5,1449.9 961.5,1445.1 961.5,1466.3 962.5,1463.3 962.5,1450.3 963.5,1443.0 963.5,1465.2 964.5,1454.7 964.5,1476.2 965.5,1471.7 965.5,1453.6 966.5,1456.8 966.5,1463.9 967.5,1461.3 967.5,1445.7 968.5,1454.3 968.5,1472.2 969.5,1466.9 969.5,1453.0 970.5,1455.6 970.5,1472.0 971.5,1475.7 971.5,1454.1 972.5,1455.3 972.5,1467.1 973.5,1464.4 973.5,1449.3 974.5,1459.0 974.5,1473.0 975.5,1459.8 975.5,1454.5 976.5,1441.8 976.5,1474.3 977.5,1473.4 977.5,1458.2 978.5,1448.3 978.5,1473.3 979.5,1466.3 979.5,1443.2 980.5,1437.2 980.5,1471.4 981.5,1443.8 981.5,1415.0 982.5,1368.6 982.5,1052.1 983.5,996.6 983.5,906.6 984.5,944.7 984.5,1075.1 985.5,1135.1 985.5,1265.8 986.5,1351.6 986.5,1437.2 987.5,1427.5 987.5,1467.9 988.5,1466.1 988.5,1454.4 989.5,1456.9 989.5,1476.0 990.5,1484.7 990.5,1459.7 991.5,1465.8 991.5,1442.2 992.5,1465.4 992.5,1484.1 993.5,1466.7 993.5,1456.7 994.5,1450.9 994.5,1468.9 995.5,1476.0 995.5,1458.1 996.5,1453.6 996.5,1475.2 997.5,1478.8 997.5,1452.9 998.5,1455.2 998.5,1469.2 999.5,1469.4 999.5,1454.3 1000.5,1456.5 1000.5,1474.0 1001.5,1473.6 1001.5,1457.3 1002.5,1470.0 1002.5,1474.1 1003.5,1477.0 1003.5,1462.1 1004.5,1459.3 1004.5,1446.1 1005.5,1450.7 1005.5,1467.7 1006.5,1465.5 1006.5,1453.8 1007.5,1459.0 1007.5,1475.8 1008.5,1464.0 1008.5,1455.0 1009.5,1462.3 1009.5,1474.2 1010.5,1474.9 1010.5,1454.6 1011.5,1462.2 1011.5,1473.7 1012.5,1458.9 1012.5,1443.7 1013.5,1462.2 1013.5,1471.3 1014.5,1469.2 1014.5,1451.1 1015.5,1459.7 1015.5,1480.3 1016.5,1474.2 1016.5,1465.2 1017.5,1471.5 1017.5,1453.9 1018.5,1458.8 1018.5,1475.2 1019.5,1477.4 1019.5,1457.7 1020.5,1456.0 1020.5,1472.4 1021.5,1459.8 1021.5,1489.7 1022.5,1476.0 1022.5,1463.0 1023.5,1466.6 1023.5,1476.4 1024.5,1472.6 1024.5,1464.7 1025.5,1465.4 1025.5,1457.8 1026.5,1458.7 1026.5,1482.9 1027.5,1484.1 1027.5,1462.9 1028.5,1465.4 1028.5,1476.2 1029.5,1481.9 1029.5,1457.3 1030.5,1456.3 1030.5,1492.9 1031.5,1473.3 1031.5,1470.4 1032.5,1466.8 1032.5,1483.1 1033.5,1471.0 1033.5,1466.0 1034.5,1458.9 1034.5,1477.0 1035.5,1478.3 1035.5,1458.2 1036.5,1458.8 1036.5,1467.4 1037.5,1462.2 1037.5,1475.0 1038.5,1475.0 1038.5,1458.5 1039.5,1474.8 1039.5,1483.4 1040.5,1491.5 1040.5,1467.5 1041.5,1474.1 1041.5,1455.4 1042.5,1461.0 1042.5,1474.1 1043.5,1480.1 1043.5,1466.0 1044.5,1473.8 1044.5,1451.2 1045.5,1465.2 1045.5,1470.8 1046.5,1468.7 1046.5,1453.5 1047.5,1458.3 1047.5,1479.6 1048.5,1479.4 1048.5,1457.5 1049.5,1465.0 1049.5,1479.2 1050.5,1476.2 1050.5,1457.7 1051.5,1452.8 1051.5,1467.7 1052.5,1462.6 1052.5,1487.3 1053.5,1478.6 1053.5,1467.3 1054.5,1464.9 1054.5,1479.1 1055.5,1482.0 1055.5,1464.6 1056.5,1454.9 1056.5,1487.6 1057.5,1477.5 1057.5,1459.8 1058.5,1460.8 1058.5,1480.8 1059.5,1479.4 1059.5,1467.3 1060.5,1470.1 1060.5,1451.7 1061.5,1458.8 1061.5,1475.1 1062.5,1472.9 1062.5,1462.8 1063.5,1464.5 1063.5,1471.8 1064.5,1466.8 1064.5,1477.8 1065.5,1474.9 1065.5,1467.2 1066.5,1470.8 1066.5,1476.9 1067.5,1467.4 1067.5,1461.1 1068.5,1470.6 1068.5,1487.4 1069.5,1473.4 1069.5,1462.5 1070.5,1459.4 1070.5,1477.8 1071.5,1484.2 1071.5,1453.8 1072.5,1465.4 1072.5,1476.8 1073.5,1478.4 1073.5,1465.1 1074.5,1465.3 1074.5,1479.6 1075.5,1477.2 1075.5,1464.1 1076.5,1468.2 1076.5,1476.1 1077.5,1474.6 1077.5,1465.3 1078.5,1464.5 1078.5,1475.2 1079.5,1486.1 1079.5,1461.8 1080.5,1462.7 1080.5,1479.4 1081.5,1485.2 1081.5,1465.1 1082.5,1469.9 1082.5,1491.7 1083.5,1474.1 1083.5,1464.8 1084.5,1463.2 1084.5,1475.5 1085.5,1480.8 1085.5,1463.2 1086.5,1462.4 1086.5,1486.5 1087.5,1494.2 1087.5,1455.5 1088.5,1462.8 1088.5,1478.8 1089.5,1471.5 1089.5,1459.2 1090.5,1466.8 1090.5,1483.1 1091.5,1487.8 1091.5,1471.3 1092.5,1472.0 1092.5,1467.3 1093.5,1471.6 1093.5,1477.5 1094.5,1473.5 1094.5,1461.0 1095.5,1475.9 1095.5,1485.2 1096.5,1478.1 1096.5,1461.6 1097.5,1461.8 1097.5,1479.9 1098.5,1471.9 1098.5,1467.8 1099.5,1471.2 1099.5,1463.3 1100.5,1471.6 1100.5,1483.9 1101.5,1473.0 1101.5,1470.7 1102.5,1465.3 1102.5,1479.2 1103.5,1484.1 1103.5,1470.0 1104.5,1471.1 1104.5,1487.9 1105.5,1479.8 1105.5,1467.0 1106.5,1473.6 1106.5,1482.0 1107.5,1483.9 1107.5,1467.1 1108.5,1456.7 1108.5,1483.5 1109.5,1478.7 1109.5,1466.5 1110.5,1469.4 1110.5,1476.0 1111.5,1481.9 1111.5,1464.4 1112.5,1470.3 1112.5,1488.5 1113.5,1486.1 1113.5,1451.7 1114.5,1464.4 1114.5,1473.4 1115.5,1471.3 1115.5,1483.5 1116.5,1473.2 1116.5,1464.7 1117.5,1452.6 1117.5,1484.9 1118.5,1476.2 1118.5,1473.5 1119.5,1468.3 1119.5,1479.8 1120.5,1480.3 1120.5,1469.8 1121.5,1461.7 1121.5,1479.4 1122.5,1474.5 1122.5,1498.0 1123.5,1474.7 1123.5,1471.5 1124.5,1469.6 1124.5,1478.0 1125.5,1485.7 1125.5,1460.6 1126.5,1462.7 1126.5,1482.5 1127.5,1467.0 1127.5,1462.5 1128.5,1466.1 1128.5,1481.7 1129.5,1474.1 1129.5,1455.9 1130.5,1468.5 1130.5,1482.8 1131.5,1480.9 1131.5,1466.2 1132.5,1469.3 1132.5,1479.6 1133.5,1481.1 1133.5,1473.3 1134.5,1478.7 1134.5,1492.6 1135.5,1476.8 1135.5,1466.9 1136.5,1470.9 1136.5,1487.6 1137.5,1479.4 1137.5,1499.3 1138.5,1480.2 1138.5,1463.0 1139.5,1458.4 1139.5,1493.0 1140.5,1473.5 1140.5,1465.3 1141.5,1466.5 1141.5,1483.7 1142.5,1471.3 1142.5,1463.3 1143.5,1468.9 1143.5,1481.4 1144.5,1481.5 1144.5,1484.3 1145.5,1488.5 1145.5,1470.7 1146.5,1458.1 1146.5,1487.4 1147.5,1478.6 1147.5,1458.4 1148.5,1471.7 1148.5,1484.2 1149.5,1475.4 1149.5,1466.6 1150.5,1464.7 1150.5,1473.8 1151.5,1464.9 1151.5,1487.6 1152.5,1481.3 1152.5,1473.7 1153.5,1468.9 1153.5,1483.0 1154.5,1480.6 1154.5,1468.3 1155.5,1466.5 1155.5,1476.1 1156.5,1481.0 1156.5,1469.6 1157.5,1469.3 1157.5,1478.2 1158.5,1483.3 1158.5,1471.6 1159.5,1468.5 1159.5,1479.7 1160.5,1474.9 1160.5,1471.9 1161.5,1467.4 1161.5,1488.2 1162.5,1477.5 1162.5,1465.2 1163.5,1473.8 1163.5,1492.7 1164.5,1491.4 1164.5,1468.6 1165.5,1466.5 1165.5,1474.0 1166.5,1480.4 1166.5,1463.9 1167.5,1474.2 1167.5,1480.0 1168.5,1481.2 1168.5,1472.9 1169.5,1471.2 1169.5,1478.3 1170.5,1476.9 1170.5,1485.2 1171.5,1483.5 1171.5,1468.1 1172.5,1460.7 1172.5,1488.6 1173.5,1487.2 1173.5,1462.6 1174.5,1455.1 1174.5,1475.4 1175.5,1460.0 1175.5,1428.1 1176.5,1419.9 1176.5,1405.6 1177.5,1406.2 1177.5,1384.7 1178.5,1410.8 1178.5,1429.5 1179.5,1426.0 1179.5,1450.5 1180.5,1453.2 1180.5,1455.3 1181.5,1457.6 1181.5,1465.3 1182.5,1470.4 1182.5,1483.7 1183.5,1483.3 1183.5,1477.9 1184.5,1478.9 1184.5,1465.2 1185.5,1464.6 1185.5,1480.5 1186.5,1484.6 1186.5,1472.3 1187.5,1466.1 1187.5,1483.4 1188.5,1481.6 1188.5,1466.0 1189.5,1473.8 1189.5,1478.8 1190.5,1486.0 1190.5,1464.0 1191.5,1471.7 1191.5,1480.7 1192.5,1483.6 1192.5,1457.3 1193.5,1475.8 1193.5,1482.2 1194.5,1479.4 1194.5,1471.2 1195.5,1468.7 1195.5,1461.9 1196.5,1474.8 1196.5,1481.1 1197.5,1478.8 1197.5,1464.8 1198.5,1460.8 1198.5,1486.4 1199.5,1486.0 1199.5,1472.1 1200.5,1476.6 1200.5,1482.3 1201.5,1476.0 1201.5,1474.5 1202.5,1480.4 1202.5,1464.9 1203.5,1473.4 1203.5,1474.8 1204.5,1476.1 1204.5,1466.1 1205.5,1472.6 1205.5,1481.5 1206.5,1476.9 1206.5,1473.8 1207.5,1474.8 1207.5,1491.2 1208.5,1481.6 1208.5,1461.6 1209.5,1454.5 1209.5,1469.2 1210.5,1475.5 1210.5,1485.1 1211.5,1490.5 1211.5,1469.1 1212.5,1465.4 1212.5,1486.4 1213.5,1478.7 1213.5,1469.9 1214.5,1476.0 1214.5,1459.3 1215.5,1458.0 1215.5,1471.6 1216.5,1470.0 1216.5,1484.5 1217.5,1483.8 1217.5,1473.9 1218.5,1476.6 1218.5,1463.3 1219.5,1463.0 1219.5,1472.1 1220.5,1456.6 1220.5,1494.2 1221.5,1481.1 1221.5,1457.7 1222.5,1462.3 1222.5,1469.5 1223.5,1469.8 1223.5,1479.0 1224.5,1486.3 1224.5,1471.3 1225.5,1464.5 1225.5,1486.9 1226.5,1479.4 1226.5,1474.8 1227.5,1469.9 1227.5,1487.5 1228.5,1480.0 1228.5,1465.8 1229.5,1473.3 1229.5,1480.2 1230.5,1468.3 1230.5,1494.3 1231.5,1494.1 1231.5,1459.7 1232.5,1472.8 1232.5,1482.1 1233.5,1487.3 1233.5,1474.2 1234.5,1476.0 1234.5,1461.5 1235.5,1476.4 1235.5,1487.7 1236.5,1480.5 1236.5,1468.0 1237.5,1466.7 1237.5,1484.4 1238.5,1491.0 1238.5,1456.9 1239.5,1468.3 1239.5,1487.9 1240.5,1485.3 1240.5,1471.0 1241.5,1468.5 1241.5,1484.4 1242.5,1480.4 1242.5,1469.5 1243.5,1470.3 1243.5,1480.1 1244.5,1484.0 1244.5,1472.9 1245.5,1474.4 1245.5,1487.4 1246.5,1485.5 1246.5,1483.5 1247.5,1478.8 1247.5,1465.5 1248.5,1476.0 1248.5,1483.4 1249.5,1489.0 1249.5,1475.5 1250.5,1481.9 1250.5,1489.6 1251.5,1480.9 1251.5,1467.0 1252.5,1474.8 1252.5,1486.8 1253.5,1476.9 1253.5,1469.8 1254.5,1469.9 1254.5,1484.4 1255.5,1485.0 1255.5,1464.6 1256.5,1472.1 1256.5,1480.6 1257.5,1481.1 1257.5,1464.8 1258.5,1462.5 1258.5,1483.0 1259.5,1481.2 1259.5,1472.8 1260.5,1465.6 1260.5,1483.8 1261.5,1486.8 1261.5,1476.0 1262.5,1482.3 1262.5,1467.8 1263.5,1473.9 1263.5,1481.9 1264.5,1485.3 1264.5,1471.4 1265.5,1473.9 1265.5,1458.8 1266.5,1467.8 1266.5,1482.7 1267.5,1483.7 1267.5,1468.0 1268.5,1470.9 1268.5,1479.9 1269.5,1475.7 1269.5,1468.3 1270.5,1475.3 1270.5,1490.7 1271.5,1485.7 1271.5,1476.3 1272.5,1481.7 1272.5,1485.5 1273.5,1479.5 1273.5,1475.1 1274.5,1466.7 1274.5,1492.8 1275.5,1480.9 1275.5,1464.4 1276.5,1472.3 1276.5,1485.3 1277.5,1490.3 1277.5,1473.2 1278.5,1472.5 1278.5,1481.8 1279.5,1484.4 1279.5,1474.7 1280.5,1476.8 1280.5,1493.7 1281.5,1489.8 1281.5,1466.2 1282.5,1472.6 1282.5,1478.7 1283.5,1481.9 1283.5,1474.6 1284.5,1460.3 1284.5,1495.4 1285.5,1485.5 1285.5,1479.0 1286.5,1480.3 1286.5,1469.4 1287.5,1462.6 1287.5,1480.2 1288.5,1486.5 1288.5,1460.3 1289.5,1460.5 1289.5,1481.5 1290.5,1485.7 1290.5,1474.7 1291.5,1480.5 1291.5,1466.0 1292.5,1480.0 1292.5,1486.4 1293.5,1490.3 1293.5,1469.0 1294.5,1478.8 1294.5,1489.9 1295.5,1487.6 1295.5,1460.2 1296.5,1471.3 1296.5,1494.0 1297.5,1478.7 1297.5,1461.7 1298.5,1472.6 1298.5,1485.3 1299.5,1488.5 1299.5,1474.5 1300.5,1480.0 1300.5,1461.2 1301.5,1465.6 1301.5,1490.5 1302.5,1487.0 1302.5,1482.9 1303.5,1483.8 1303.5,1460.2 1304.5,1464.7 1304.5,1478.3 1305.5,1474.7 1305.5,1491.3 1306.5,1496.0 1306.5,1472.9 1307.5,1475.8 1307.5,1490.6 1308.5,1491.4 1308.5,1479.5 1309.5,1474.5 1309.5,1488.9 1310.5,1483.1 1310.5,1471.4 1311.5,1478.1 1311.5,1489.0 1312.5,1481.9 1312.5,1475.9 1313.5,1472.4 1313.5,1479.8 1314.5,1484.0 1314.5,1487.0 1315.5,1487.1 1315.5,1472.3 1316.5,1473.9 1316.5,1487.3 1317.5,1485.1 1317.5,1473.7 1318.5,1477.3 1318.5,1485.0 1319.5,1486.2 1319.5,1466.7 1320.5,1479.6 1320.5,1484.8 1321.5,1481.8 1321.5,1470.7 1322.5,1473.8 1322.5,1491.1 1323.5,1479.4 1323.5,1461.9 1324.5,1462.6 1324.5,1484.6 1325.5,1477.3 1325.5,1457.2 1326.5,1462.0 1326.5,1478.0 1327.5,1476.5 1327.5,1459.9 1328.5,1461.9 1328.5,1468.1 1329.5,1476.4 1329.5,1454.1 1330.5,1460.9 1330.5,1470.9 1331.5,1469.9 1331.5,1476.2 1332.5,1472.4 1332.5,1483.7 1333.5,1469.1 1333.5,1465.5 1334.5,1459.9 1334.5,1475.1 1335.5,1480.2 1335.5,1468.5 1336.5,1475.0 1336.5,1489.8 1337.5,1485.8 1337.5,1468.6 1338.5,1472.4 1338.5,1489.4 1339.5,1494.6 1339.5,1469.4 1340.5,1465.1 1340.5,1487.9 1341.5,1496.8 1341.5,1477.5 1342.5,1477.3 1342.5,1485.4 1343.5,1493.5 1343.5,1464.8 1344.5,1472.0 1344.5,1493.9 1345.5,1489.2 1345.5,1477.7 1346.5,1479.0 1346.5,1467.4 1347.5,1474.4 1347.5,1490.5 1348.5,1495.5 1348.5,1476.1 1349.5,1468.4 1349.5,1487.6 1350.5,1489.1 1350.5,1475.8 1351.5,1477.9 1351.5,1491.4 1352.5,1483.5 1352.5,1473.2 1353.5,1479.9 1353.5,1504.1 1354.5,1487.6 1354.5,1465.7 1355.5,1464.8 1355.5,1477.2 1356.5,1471.8 1356.5,1486.0 1357.5,1485.1 1357.5,1461.4 1358.5,1475.0 1358.5,1494.2 1359.5,1491.0 1359.5,1467.4 1360.5,1480.1 1360.5,1490.2 1361.5,1491.1 1361.5,1466.5 1362.5,1475.5 1362.5,1492.2 1363.5,1485.8 1363.5,1478.2 1364.5,1480.4 1364.5,1488.0 1365.5,1476.2 1365.5,1469.6 1366.5,1475.8 1366.5,1477.1 1367.5,1481.8 1367.5,1469.1 1368.5,1466.4 1368.5,1487.9 1369.5,1479.7 1369.5,1473.8 1370.5,1474.1 1370.5,1486.3 1371.5,1492.1 1371.5,1473.8 1372.5,1477.9 1372.5,1484.4 1373.5,1480.6 1373.5,1472.2 1374.5,1485.2 1374.5,1488.2 1375.5,1483.1 1375.5,1469.1 1376.5,1479.1 1376.5,1491.9 1377.5,1495.8 1377.5,1478.0 1378.5,1477.0 1378.5,1485.6 1379.5,1486.4 1379.5,1462.0 1380.5,1462.9 1380.5,1495.0 1381.5,1475.0 1381.5,1463.3 1382.5,1469.1 1382.5,1473.4 1383.5,1470.9 1383.5,1491.1 1384.5,1490.1 1384.5,1481.4 1385.5,1476.4 1385.5,1492.0 1386.5,1486.8 1386.5,1473.6 1387.5,1468.7 1387.5,1489.1 1388.5,1487.4 1388.5,1478.6 1389.5,1471.8 1389.5,1493.5 1390.5,1476.8 1390.5,1473.2 1391.5,1473.4 1391.5,1488.8 1392.5,1490.2 1392.5,1476.2 1393.5,1471.5 1393.5,1488.1 1394.5,1484.2 1394.5,1467.5 1395.5,1476.9 1395.5,1485.5 1396.5,1479.7 1396.5,1475.1 1397.5,1477.5 1397.5,1483.3 1398.5,1482.2 1398.5,1469.7 1399.5,1462.6 1399.5,1487.5 1400.5,1483.5 1400.5,1496.8 1401.5,1486.6 1401.5,1472.1 1402.5,1467.2 1402.5,1484.8 1403.5,1485.9 1403.5,1476.9 1404.5,1483.0 1404.5,1496.4 1405.5,1491.2 1405.5,1484.8 1406.5,1483.3 1406.5,1473.2 1407.5,1476.7 1407.5,1486.0 1408.5,1489.7 1408.5,1469.6 1409.5,1471.8 1409.5,1481.2 1410.5,1477.5 1410.5,1474.9 1411.5,1471.8 1411.5,1487.6 1412.5,1484.8 1412.5,1475.6 1413.5,1478.1 1413.5,1492.0 1414.5,1488.3 1414.5,1468.8 1415.5,1470.4 1415.5,1488.3 1416.5,1484.4 1416.5,1476.1 1417.5,1477.1 1417.5,1465.4 1418.5,1467.8 1418.5,1484.1 1419.5,1481.9 1419.5,1476.0 1420.5,1481.3 1420.5,1466.2 1421.5,1463.2 1421.5,1480.0 1422.5,1484.7 1422.5,1466.2 1423.5,1460.1 1423.5,1480.2 1424.5,1471.9 1424.5,1460.6 1425.5,1472.1 1425.5,1479.1 1426.5,1493.4 1426.5,1463.2 1427.5,1470.8 1427.5,1484.5 1428.5,1490.4 1428.5,1472.7 1429.5,1472.1 1429.5,1484.0 1430.5,1486.9 1430.5,1469.7 1431.5,1486.7 1431.5,1489.1 1432.5,1481.8 1432.5,1479.1 1433.5,1493.1 1433.5,1463.4 1434.5,1469.1 1434.5,1486.1 1435.5,1489.2 1435.5,1478.6 1436.5,1467.0 1436.5,1497.5 1437.5,1483.8 1437.5,1476.6 1438.5,1489.7 1438.5,1462.1 1439.5,1480.5 1439.5,1492.1 1440.5,1491.3 1440.5,1475.3 1441.5,1476.6 1441.5,1484.1 1442.5,1483.4 1442.5,1476.2 1443.5,1474.9 1443.5,1481.0 1444.5,1488.9 1444.5,1471.7 1445.5,1471.6 1445.5,1482.9 1446.5,1484.1 1446.5,1477.2 1447.5,1485.0 1447.5,1505.1 1448.5,1481.3 1448.5,1476.3 1449.5,1482.8 1449.5,1469.4 1450.5,1475.3 1450.5,1483.4 1451.5,1482.4 1451.5,1485.4 1452.5,1478.5 1452.5,1471.2 1453.5,1475.9 1453.5,1490.2 1454.5,1487.5 1454.5,1472.2 1455.5,1463.9 1455.5,1484.1 1456.5,1475.8 1456.5,1459.4 1457.5,1470.6 1457.5,1430.4 1458.5,1430.8 1458.5,1409.1 1459.5,1408.6 1459.5,1440.5 1460.5,1445.8 1460.5,1454.5 1461.5,1460.4 1461.5,1431.7 1462.5,1448.9 1462.5,1466.3 1463.5,1476.0 1463.5,1450.6 1464.5,1454.1 1464.5,1470.7 1465.5,1469.1 1465.5,1480.7 1466.5,1459.6 1466.5,1446.2 1467.5,1441.4 1467.5,1407.5 1468.5,1404.1 1468.5,1398.6 1469.5,1388.2 1469.5,1428.9 1470.5,1435.9 1470.5,1417.0 1471.5,1406.6 1471.5,1439.5 1472.5,1436.8 1472.5,1454.0 1473.5,1448.4 1473.5,1475.4 1474.5,1475.4 1474.5,1488.9 1475.5,1478.0 1475.5,1469.8 1476.5,1474.0 1476.5,1486.0 1477.5,1481.2 1477.5,1469.4 1478.5,1473.0 1478.5,1488.1 1479.5,1494.4 1479.5,1473.6 1480.5,1477.6 1480.5,1483.1 1481.5,1481.8 1481.5,1468.4 1482.5,1475.2 1482.5,1478.8 1483.5,1473.3 1483.5,1499.6 1484.5,1479.9 1484.5,1477.8 1485.5,1482.7 1485.5,1472.4 1486.5,1470.9 1486.5,1477.7 1487.5,1469.5 1487.5,1487.3 1488.5,1493.7 1488.5,1476.7 1489.5,1478.4 1489.5,1467.1 1490.5,1464.3 1490.5,1487.4 1491.5,1488.4 1491.5,1483.4 1492.5,1481.3 1492.5,1488.9 1493.5,1481.6 1493.5,1477.9 1494.5,1480.6 1494.5,1465.2 1495.5,1485.2 1495.5,1495.0 1496.5,1487.3 1496.5,1467.3 1497.5,1475.1 1497.5,1485.7 1498.5,1487.8 1498.5,1479.5 1499.5,1478.6 1499.5,1468.8 1500.5,1474.5 1500.5,1484.2 1501.5,1490.7 1501.5,1467.7 1502.5,1464.5 1502.5,1480.4 1503.5,1479.8 1503.5,1483.4 1504.5,1489.3 1504.5,1469.7 1505.5,1470.1 1505.5,1479.8 1506.5,1472.3 1506.5,1489.9 1507.5,1485.1 1507.5,1472.9 1508.5,1477.1 1508.5,1493.8 1509.5,1486.9 1509.5,1482.5 1510.5,1484.2 1510.5,1466.6 1511.5,1476.8 1511.5,1482.9 1512.5,1486.4 1512.5,1469.2 1513.5,1476.6 1513.5,1484.1 1514.5,1481.6 1514.5,1474.0 1515.5,1475.2 1515.5,1481.0 1516.5,1486.3 1516.5,1466.8 1517.5,1461.2 1517.5,1472.5 1518.5,1480.9 1518.5,1492.0 1519.5,1495.7 1519.5,1480.5 1520.5,1479.5 1520.5,1490.7 1521.5,1485.9 1521.5,1477.5 1522.5,1471.8 1522.5,1487.1 1523.5,1484.7 1523.5,1472.5 1524.5,1469.0 1524.5,1479.6 1525.5,1484.3 1525.5,1474.2 1526.5,1477.1 1526.5,1487.7 1527.5,1496.6 1527.5,1466.4 1528.5,1476.1 1528.5,1490.7 1529.5,1481.9 1529.5,1469.6 1530.5,1474.4 1530.5,1487.9 1531.5,1487.8 1531.5,1476.2 1532.5,1474.3 1532.5,1488.3 1533.5,1488.7 1533.5,1468.2 1534.5,1477.9 1534.5,1482.2 1535.5,1488.8 1535.5,1473.1 1536.5,1485.0 1536.5,1488.2 1537.5,1491.2 1537.5,1471.4 1538.5,1470.0 1538.5,1479.2 1539.5,1479.0 1539.5,1493.0 1540.5,1482.8 1540.5,1472.0 1541.5,1473.6 1541.5,1487.9 1542.5,1493.5 1542.5,1480.6 1543.5,1486.3 1543.5,1473.3 1544.5,1469.4 1544.5,1483.3 1545.5,1484.6 1545.5,1476.0 1546.5,1474.5 1546.5,1486.5 1547.5,1488.9 1547.5,1476.9 1548.5,1474.1 1548.5,1489.9 1549.5,1492.8 1549.5,1473.8 1550.5,1475.0 1550.5,1488.1 1551.5,1489.1 1551.5,1481.4 1552.5,1484.8 1552.5,1488.7 1553.5,1480.7 1553.5,1474.4 1554.5,1475.3 1554.5,1485.0 1555.5,1485.9 1555.5,1474.0 1556.5,1466.1 1556.5,1495.2 1557.5,1481.3 1557.5,1469.7 1558.5,1474.5 1558.5,1478.7 1559.5,1481.5 1559.5,1490.4 1560.5,1480.4 1560.5,1470.1 1561.5,1481.1 1561.5,1493.5 1562.5,1485.1 1562.5,1474.4 1563.5,1471.2 1563.5,1481.2 1564.5,1485.6 1564.5,1463.8 1565.5,1472.5 1565.5,1476.8 1566.5,1471.8 1566.5,1488.6 1567.5,1487.5 1567.5,1494.7 1568.5,1491.8 1568.5,1473.0 1569.5,1461.9 1569.5,1492.1 1570.5,1486.3 1570.5,1472.3 1571.5,1471.6 1571.5,1478.5 1572.5,1485.4 1572.5,1471.4 1573.5,1470.8 1573.5,1488.6 1574.5,1481.1 1574.5,1474.7 1575.5,1476.6 1575.5,1469.2 1576.5,1468.2 1576.5,1482.5 1577.5,1487.1 1577.5,1477.7 1578.5,1475.8 1578.5,1493.1 1579.5,1489.6 1579.5,1469.6 1580.5,1471.1 1580.5,1481.5 1581.5,1483.1 1581.5,1494.0 1582.5,1483.6 1582.5,1473.4 1583.5,1468.5 1583.5,1486.0 1584.5,1490.3 1584.5,1464.9 1585.5,1481.4 1585.5,1489.0 1586.5,1484.7 1586.5,1471.9 1587.5,1478.5 1587.5,1487.4 1588.5,1488.4 1588.5,1474.5 1589.5,1474.5 1589.5,1488.4 1590.5,1483.9 1590.5,1477.0 1591.5,1485.0 1591.5,1492.4 1592.5,1496.0 1592.5,1471.8 1593.5,1476.9 1593.5,1487.8 1594.5,1490.5 1594.5,1472.6 1595.5,1472.5 1595.5,1489.0 1596.5,1493.5 1596.5,1477.8 1597.5,1471.7 1597.5,1489.4 1598.5,1498.5 1598.5,1466.6 1599.5,1478.9 1599.5,1488.5 1600.5,1486.6 1600.5,1474.3 1601.5,1474.1 1601.5,1483.4 1602.5,1483.6 1602.5,1486.7 1603.5,1497.4 1603.5,1469.7 1604.5,1484.1 1604.5,1494.7 1605.5,1501.2 1605.5,1476.2 1606.5,1481.0 1606.5,1488.3 1607.5,1485.2 1607.5,1477.6 1608.5,1474.6 1608.5,1493.1 1609.5,1487.3 1609.5,1464.5 1610.5,1486.3 1610.5,1489.0 1611.5,1484.0 1611.5,1471.9 1612.5,1464.8 1612.5,1498.7 1613.5,1491.7 1613.5,1477.8 1614.5,1479.5 1614.5,1485.8 1615.5,1491.6 1615.5,1474.1 1616.5,1472.3 1616.5,1494.1 1617.5,1486.0 1617.5,1469.9 1618.5,1481.1 1618.5,1489.8 1619.5,1481.4 1619.5,1475.8 1620.5,1477.7 1620.5,1494.3 1621.5,1494.1 1621.5,1469.8 1622.5,1479.1 1622.5,1496.7 1623.5,1486.4 1623.5,1471.2 1624.5,1482.7 1624.5,1488.6 1625.5,1493.4 1625.5,1477.5 1626.5,1473.0 1626.5,1497.0 1627.5,1487.9 1627.5,1469.6 1628.5,1470.2 1628.5,1490.7 1629.5,1479.5 1629.5,1473.7 1630.5,1484.2 1630.5,1490.2 1631.5,1481.0 1631.5,1466.7 1632.5,1458.0 1632.5,1488.3 1633.5,1481.7 1633.5,1463.2 1634.5,1478.5 1634.5,1498.2 1635.5,1490.7 1635.5,1477.4 1636.5,1479.6 1636.5,1472.5 1637.5,1473.2 1637.5,1485.9 1638.5,1491.2 1638.5,1474.8 1639.5,1468.5 1639.5,1490.0 1640.5,1483.7 1640.5,1476.8 1641.5,1465.3 1641.5,1490.9 1642.5,1489.3 1642.5,1481.6 1643.5,1487.4 1643.5,1472.3 1644.5,1478.3 1644.5,1492.5 1645.5,1483.3 1645.5,1477.6 1646.5,1481.6 1646.5,1489.3 1647.5,1493.3 1647.5,1471.0 1648.5,1471.0 1648.5,1486.4 1649.5,1484.1 1649.5,1464.4 1650.5,1476.5 1650.5,1481.6 1651.5,1476.0 1651.5,1490.8 1652.5,1488.5 1652.5,1480.0 1653.5,1479.5 1653.5,1469.5 1654.5,1473.1 1654.5,1483.7 1655.5,1497.0 1655.5,1467.6 1656.5,1474.5 1656.5,1488.2 1657.5,1496.6 1657.5,1475.8 1658.5,1470.9 1658.5,1493.9 1659.5,1489.7 1659.5,1459.5 1660.5,1477.1 1660.5,1502.6 1661.5,1485.8 1661.5,1478.6 1662.5,1484.7 1662.5,1497.6 1663.5,1479.0 1663.5,1476.4 1664.5,1474.3 1664.5,1481.9 1665.5,1481.3 1665.5,1468.8 1666.5,1466.0 1666.5,1485.8 1667.5,1486.1 1667.5,1476.7 1668.5,1481.9 1668.5,1485.6 1669.5,1497.3 1669.5,1472.2 1670.5,1470.5 1670.5,1488.5 1671.5,1489.9 1671.5,1485.0 1672.5,1492.8 1672.5,1477.2 1673.5,1469.7 1673.5,1491.8 1674.5,1486.7 1674.5,1471.1 1675.5,1476.2 1675.5,1488.7 1676.5,1488.5 1676.5,1475.2 1677.5,1463.9 1677.5,1488.8 1678.5,1485.9 1678.5,1482.0 1679.5,1487.2 1679.5,1471.0 1680.5,1471.3 1680.5,1486.2 1681.5,1479.0 1681.5,1459.0 1682.5,1448.5 1682.5,1441.4 1683.5,1443.5 1683.5,1420.6 1684.5,1396.3 1684.5,1385.8 1685.5,1381.2 1685.5,1423.9 1686.5,1410.9 1686.5,1443.7 1687.5,1438.4 1687.5,1464.1 1688.5,1452.7 1688.5,1425.9 1689.5,1428.8 1689.5,1450.8 1690.5,1451.7 1690.5,1443.3 1691.5,1458.2 1691.5,1474.5 1692.5,1473.7 1692.5,1467.6 1693.5,1469.8 1693.5,1482.3 1694.5,1489.2 1694.5,1469.4 1695.5,1466.1 1695.5,1492.5 1696.5,1485.6 1696.5,1463.7 1697.5,1468.3 1697.5,1481.3 1698.5,1476.8 1698.5,1487.9 1699.5,1483.4 1699.5,1476.4 1700.5,1475.8 1700.5,1473.7 1701.5,1481.4 1701.5,1465.6 1702.5,1459.4 1702.5,1481.9 1703.5,1468.5 1703.5,1500.6 1704.5,1481.1 1704.5,1465.3 1705.5,1470.2 1705.5,1481.4 1706.5,1478.9 1706.5,1488.0 1707.5,1482.4 1707.5,1471.9 1708.5,1472.1 1708.5,1489.3 1709.5,1484.8 1709.5,1473.8 1710.5,1467.6 1710.5,1490.4 1711.5,1494.5 1711.5,1475.9 1712.5,1487.1 1712.5,1488.7 1713.5,1488.3 1713.5,1466.3 1714.5,1469.7 1714.5,1476.4 1715.5,1473.4 1715.5,1485.6 1716.5,1480.6 1716.5,1470.1 1717.5,1469.4 1717.5,1461.5 1718.5,1464.9 1718.5,1479.5 1719.5,1486.5 1719.5,1464.7 1720.5,1471.6 1720.5,1489.5 1721.5,1487.1 1721.5,1461.5 1722.5,1470.1 1722.5,1478.4 1723.5,1484.5 1723.5,1470.3 1724.5,1465.5 1724.5,1484.4 1725.5,1477.9 1725.5,1467.5 1726.5,1465.5 1726.5,1482.7 1727.5,1472.1 1727.5,1467.7 1728.5,1463.5 1728.5,1488.9 1729.5,1481.2 1729.5,1475.5 1730.5,1477.1 1730.5,1496.9 1731.5,1475.5 1731.5,1467.4 1732.5,1468.5 1732.5,1480.5 1733.5,1479.6 1733.5,1475.5 1734.5,1476.3 1734.5,1477.5 1735.5,1481.5 1735.5,1487.3 1736.5,1481.5 1736.5,1474.6 1737.5,1469.7 1737.5,1484.1 1738.5,1475.7 1738.5,1468.2 1739.5,1481.7 1739.5,1488.9 1740.5,1483.8 1740.5,1473.1 1741.5,1464.8 1741.5,1484.9 1742.5,1487.0 1742.5,1476.9 1743.5,1472.5 1743.5,1495.7 1744.5,1488.4 1744.5,1473.2 1745.5,1473.9 1745.5,1482.9 1746.5,1490.2 1746.5,1471.5 1747.5,1469.1 1747.5,1486.0 1748.5,1490.6 1748.5,1479.8 1749.5,1478.7 1749.5,1494.4 1750.5,1486.1 1750.5,1473.9 1751.5,1473.0 1751.5,1482.0 1752.5,1476.3 1752.5,1492.2 1753.5,1482.6 1753.5,1479.8 1754.5,1475.8 1754.5,1496.2 1755.5,1492.3 1755.5,1475.5 1756.5,1473.5 1756.5,1480.2 1757.5,1474.7 1757.5,1487.6 1758.5,1485.8 1758.5,1475.9 1759.5,1478.6 1759.5,1494.6 1760.5,1472.2 1760.5,1468.2 1761.5,1477.7 1761.5,1491.3 1762.5,1482.3 1762.5,1470.7 1763.5,1475.1 1763.5,1489.9 1764.5,1481.6 1764.5,1465.0 1765.5,1470.6 1765.5,1488.3 1766.5,1492.0 1766.5,1476.6 1767.5,1474.6 1767.5,1493.3 1768.5,1481.2 1768.5,1460.9 1769.5,1467.5 1769.5,1477.5 1770.5,1472.8 1770.5,1461.1 1771.5,1468.8 1771.5,1438.7 1772.5,1431.8 1772.5,1412.0 1773.5,1405.1 1773.5,1437.9 1774.5,1439.6 1774.5,1433.7 1775.5,1435.1 1775.5,1449.8 1776.5,1443.3 1776.5,1435.7 1777.5,1439.4 1777.5,1445.5 1778.5,1429.8 1778.5,1462.7 1779.5,1465.7 1779.5,1451.1 1780.5,1448.2 1780.5,1476.5 1781.5,1479.5 1781.5,1472.6 1782.5,1468.2 1782.5,1480.0 1783.5,1480.9 1783.5,1471.9 1784.5,1478.1 1784.5,1463.1 1785.5,1472.8 1785.5,1496.6 1786.5,1484.2 1786.5,1481.0 1787.5,1482.9 1787.5,1475.0 1788.5,1480.4 1788.5,1487.3 1789.5,1486.7 1789.5,1470.6 1790.5,1479.0 1790.5,1491.8 1791.5,1495.2 1791.5,1481.8 1792.5,1492.4 1792.5,1456.9 1793.5,1476.2 1793.5,1491.6 1794.5,1485.0 1794.5,1476.2 1795.5,1481.7 1795.5,1469.2 1796.5,1466.5 1796.5,1482.3 1797.5,1480.2 1797.5,1490.7 1798.5,1493.0 1798.5,1458.0 1799.5,1479.3 1799.5,1482.5 1800.5,1481.3 1800.5,1467.9 1801.5,1478.1 1801.5,1491.6 1802.5,1488.3 1802.5,1461.8 1803.5,1470.4 1803.5,1477.8 1804.5,1475.6 1804.5,1491.0 1805.5,1479.1 1805.5,1466.0 1806.5,1467.0 1806.5,1490.3 1807.5,1490.0 1807.5,1466.2 1808.5,1453.1 1808.5,1486.4 1809.5,1482.2 1809.5,1491.6 1810.5,1483.6 1810.5,1476.0 1811.5,1481.8 1811.5,1486.5 1812.5,1483.1 1812.5,1480.0 1813.5,1472.2 1813.5,1494.6 1814.5,1486.3 1814.5,1465.1 1815.5,1476.5 1815.5,1499.4 1816.5,1497.9 1816.5,1483.3 1817.5,1483.6 1817.5,1464.4 1818.5,1475.1 1818.5,1486.1 1819.5,1486.7 1819.5,1474.8 1820.5,1470.2 1820.5,1490.3 1821.5,1475.8 1821.5,1470.9 1822.5,1472.6 1822.5,1485.0 1823.5,1488.7 1823.5,1480.5 1824.5,1477.6 1824.5,1488.2 1825.5,1478.5 1825.5,1475.7 1826.5,1483.6 1826.5,1460.9 1827.5,1480.3 1827.5,1489.8 1828.5,1482.4 1828.5,1459.4 1829.5,1470.4 1829.5,1484.5 1830.5,1485.6 1830.5,1470.7 1831.5,1475.3 1831.5,1482.5 1832.5,1481.3 1832.5,1463.8 1833.5,1460.2 1833.5,1484.8 1834.5,1487.7 1834.5,1468.3 1835.5,1458.3 1835.5,1479.2 1836.5,1471.2 1836.5,1453.2 1837.5,1451.8 1837.5,1476.8 1838.5,1468.0 1838.5,1462.8 1839.5,1462.0 1839.5,1453.9 1840.5,1462.9 1840.5,1469.8 1841.5,1458.0 1841.5,1482.8 1842.5,1483.9 1842.5,1478.7 1843.5,1483.4 1843.5,1472.2 1844.5,1467.2 1844.5,1505.1 1845.5,1505.1 1846.5,1505.1 1846.5,1506.0 1847.5,1506.0 1847.5,1504.2 1848.5,1504.2 1849.5,1504.2 1849.5,1506.0 1850.5,1506.0 1850.5,1504.2 1851.5,1504.2 1851.5,1506.0 1852.5,1506.0 1852.5,1504.2 1853.5,1504.2 1853.5,1506.0 1854.5,1506.0 1854.5,1505.1 1855.5,1504.2 1855.5,1506.0 1856.5,1506.0 1856.5,1505.1 1857.5,1505.1 1857.5,1504.2 1858.5,1504.2 1858.5,1506.0 1859.5,1506.0 1859.5,1504.2 1860.5,1504.2 1860.5,1505.1 1861.5,1504.2 1861.5,1506.0 1862.5,1505.1 1862.5,1504.2 1863.5,1504.2 1863.5,1506.0 1864.5,1506.0 1865.5,1505.1 1865.5,1504.2 1866.5,1504.2 1866.5,1505.1 1867.5,1504.2 1867.5,1506.0 1868.5,1506.0 1868.5,1504.2 1869.5,1505.1 1869.5,1506.0"/>
</g>
<g fill="#000">
<rect x="390" y="175" width="6" height="1391" rx="2"/>
<rect x="390" y="1547.4" width="1726" height="6"/>
</g>
<g fill="#000">
<rect x="362" y="1503.0" width="30" height="6" rx="2"/>
<rect x="362" y="1060.0" width="30" height="6" rx="2"/>
<rect x="362" y="618.0" width="30" height="6" rx="2"/>
<rect x="362" y="175.0" width="30" height="6" rx="2"/>
<rect x="376" y="1282.0" width="16" height="6" rx="2"/>
<rect x="376" y="839.0" width="16" height="6" rx="2"/>
<rect x="376" y="396.0" width="16" height="6" rx="2"/>
<rect x="533.0" y="1549" width="6" height="30.5" rx="2"/>
<rect x="819.0" y="1549" width="6" height="30.5" rx="2"/>
<rect x="1106.0" y="1549" width="6" height="30.5" rx="2"/>
<rect x="1393.0" y="1549" width="6" height="30.5" rx="2"/>
<rect x="1680.0" y="1549" width="6" height="30.5" rx="2"/>
<rect x="1967.0" y="1549" width="6" height="30.5" rx="2"/>
<rect x="676.0" y="1549" width="6" height="17" rx="2"/>
<rect x="963.0" y="1549" width="6" height="17" rx="2"/>
<rect x="1250.0" y="1549" width="6" height="17" rx="2"/>
<rect x="1536.0" y="1549" width="6" height="17" rx="2"/>
<rect x="1823.0" y="1549" width="6" height="17" rx="2"/>
<rect x="2110.0" y="1549" width="6" height="17" rx="2"/>
</g>
<g font-size="72">
<text x="347.2" y="1528.4" text-anchor="end">0</text>
<text x="347.2" y="1085.7" text-anchor="end">500</text>
<text x="347.2" y="643.1" text-anchor="end">1000</text>
<text x="347.2" y="200.4" text-anchor="end">1500</text>
<text x="536.2" y="1651" text-anchor="middle">20</text>
<text x="823.0" y="1651" text-anchor="middle">40</text>
<text x="1109.8" y="1651" text-anchor="middle">60</text>
<text x="1396.5" y="1651" text-anchor="middle">80</text>
<text x="1683.3" y="1651" text-anchor="middle">100</text>
<text x="1970.1" y="1651" text-anchor="middle">120</text>
</g>
<text font-size="84" text-anchor="middle" transform="translate(104,836.5) rotate(-90)">Intensity (a.u.)</text>
<text font-size="72" x="1069.7" y="1776.8">2</text>
<text class="s" font-size="72" transform="translate(1108.5,1776.8) scale(1.16,1)">θ</text>
<text font-size="72" x="1168" y="1776.8">angle (</text>
<text font-size="43.2" x="1388.6" y="1741.6">o</text>
<text font-size="72" x="1412.1" y="1776.8">)</text>
<rect x="1812.5" y="25.5" width="483" height="414" fill="#fff" stroke="#000" stroke-width="3" shape-rendering="crispEdges"/>
<g shape-rendering="crispEdges">
<rect x="1821" y="77" width="178" height="3" fill="#0000ff"/>
<rect x="1821" y="172" width="178" height="3" fill="#000000"/>
<rect x="1821" y="279" width="178" height="2" fill="#00ffff"/>
<rect x="1821" y="385" width="178" height="3" fill="#ff0000"/>
</g>
<g font-size="78">
<text x="2019.7" y="105.3">Powder</text>
<text x="2019.7" y="201">RT</text>
<text x="2019.7" y="307">250 <tspan font-size="46.8" dy="-38.6">o</tspan><tspan dy="38.6">C</tspan></text>
<text x="2019.7" y="413.2">300 <tspan font-size="46.8" dy="-38.6">o</tspan><tspan dy="38.6">C</tspan></text>
<text x="1876.5" y="569" style="white-space:pre">Zn    -</text>
<text x="2104" y="569">04-0831</text>
<text x="1884.4" y="682.8">ZnO -</text>
<text x="2106.5" y="682.8">36-1451</text>
</g>
<text font-size="72" x="1805" y="563.4" stroke="#000" stroke-width="1.2">*</text>
<text font-size="65" x="1803.8" y="654" stroke="#000" stroke-width="0.9">#</text>
<text font-weight="bold" font-size="60.0" x="966.8" y="216.0">*</text>
<text font-weight="bold" font-size="72.7" x="847.6" y="876.6">*</text>
<text font-weight="bold" font-size="72.7" x="902.8" y="1020.5">*</text>
<text font-weight="bold" font-size="72.7" x="1166.7" y="1026.4">*</text>
<text font-weight="bold" font-size="72.7" x="1450.7" y="1159.9">*</text>
<text font-weight="bold" font-size="60.0" x="1467.8" y="1207.7">*</text>
<text font-weight="bold" font-size="72.7" x="1671.6" y="1178.3">*</text>
<text font-weight="bold" font-size="72.7" x="1706.5" y="1275.7">*</text>
<text font-weight="bold" font-size="72.7" x="1760.7" y="1247.1">*</text>
<text font-weight="bold" font-size="72.7" x="1576.8" y="1341.4">*</text>
<text font-weight="bold" font-size="72.7" x="1829.7" y="1332.6">*</text>
<text font-size="46.5" x="781.5" y="1172.1" stroke="#000" stroke-width="1.1">#</text>
<text font-size="46.5" x="751.6" y="1332.2" stroke="#000" stroke-width="1.1">#</text>
<text font-size="46.5" x="1022.7" y="1364.9" stroke="#000" stroke-width="1.1">#</text>
<text font-size="46.5" x="1206.7" y="1369.1" stroke="#000" stroke-width="1.1">#</text>
<text font-size="46.5" x="1540.7" y="1393.9" stroke="#000" stroke-width="1.1">#</text>
</svg></body></html>
